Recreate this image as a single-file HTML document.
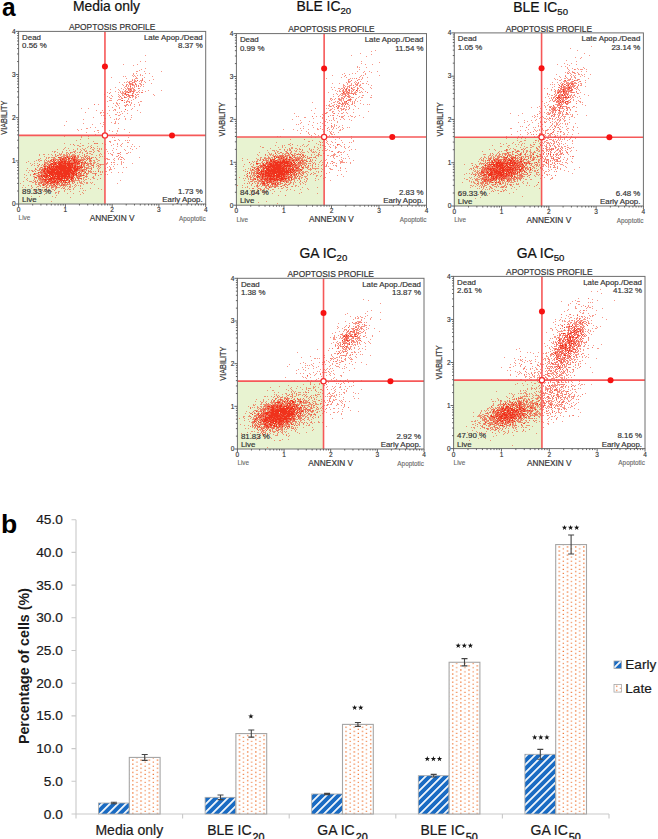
<!DOCTYPE html>
<html><head><meta charset="utf-8"><style>
html,body{margin:0;padding:0;background:#fff;}
svg{display:block;font-family:"Liberation Sans", sans-serif;}
</style></head><body>
<svg width="658" height="839" viewBox="0 0 658 839">
<defs>
<pattern id="stripe" patternUnits="userSpaceOnUse" width="5.66" height="8" patternTransform="rotate(45)">
<rect width="5.66" height="8" fill="#196bc3"/><rect x="0" y="0" width="1.75" height="8" fill="#fff"/>
</pattern>
<pattern id="dots" patternUnits="userSpaceOnUse" width="8.2" height="4.1" x="0" y="0">
<rect width="8.2" height="4.1" fill="#fff"/>
<rect x="1" y="1" width="1.3" height="1.3" fill="#f07838"/>
<rect x="5.1" y="3.05" width="1.3" height="1.3" fill="#f07838"/>
</pattern>
<filter id="sb" x="-5%" y="-5%" width="110%" height="110%"><feGaussianBlur stdDeviation="0.35"/></filter>
<polygon id="star" points="0,-2.8 0.68,-0.92 2.7,-0.88 1.1,0.35 1.68,2.3 0,1.15 -1.68,2.3 -1.1,0.35 -2.7,-0.88 -0.68,-0.92" fill="#151515"/>
</defs>
<text transform="translate(2 16.2) scale(0.92 1)" font-size="26.6" font-weight="bold" fill="#000">a</text>
<text x="72.9" y="10.7" font-size="13.9" fill="#111" stroke="#111" stroke-width="0.22">Media only</text>
<text x="296.5" y="10.7" font-size="13.9" fill="#111" stroke="#111" stroke-width="0.22">BLE IC<tspan font-size="9.6" dy="2.8">20</tspan></text>
<text x="513.3" y="11.9" font-size="13.9" fill="#111" stroke="#111" stroke-width="0.22">BLE IC<tspan font-size="9.6" dy="2.8">50</tspan></text>
<text x="299.5" y="257.9" font-size="13.9" fill="#111" stroke="#111" stroke-width="0.22">GA IC<tspan font-size="9.6" dy="2.8">20</tspan></text>
<text x="516.7" y="257.9" font-size="13.9" fill="#111" stroke="#111" stroke-width="0.22">GA IC<tspan font-size="9.6" dy="2.8">50</tspan></text>
<rect x="18.6" y="135.39" width="86.35" height="68.61" fill="#e8f3d1"/>
<g filter="url(#sb)"><path d="M145 55.5h1m-6 6h1m4 0h1m-23 3h1m13 0h1m-5 1h1m11 3h1m-5 1h1m-3 1h1m-4 1h1m0 0h1m6 0h1m16 0h1m-29 2h1m2 0h1m8 0h1m3 0h1m-17 1h1m6 0h1m-9 1h1m1 0h1m2 0h1m2 0h1m1 0h1m-20 1h1m1 0h1m7 0h1m1 0h1m16 0h1m-42 1h1m24 0h1m7 0h1m-19 1h1m8 0h1m0 0h1m0 0h1m4 0h1m-11 1h1m1 0h1m18 0h1m-20 1h1m0 0h1m4 0h1m0 0h1m7 0h1m-23 1h1m1 0h1m0 0h1m0 0h1m3 0h1m0 0h1m2 0h1m1 0h1m2 0h1m-26 1h1m4 0h1m1 0h1m1 0h1m4 0h1m7 0h1m3 0h1m-15 1h1m0 0h1m6 0h1m0 0h1m10 0h1m-30 1h1m3 0h1m0 0h1m1 0h1m1 0h1m1 0h1m2 0h1m3 0h1m0 0h1m1 0h1m-21 1h1m4 0h1m1 0h1m1 0h1m0 0h1m0 0h1m1 0h1m4 0h1m-17 1h1m0 0h1m1 0h1m5 0h1m5 0h1m2 0h1m-29 1h1m8 0h1m2 0h1m2 0h1m1 0h1m1 0h1m-14 1h1m3 0h1m1 0h1m1 0h1m0 0h1m0 0h1m0 0h1m0 0h1m5 0h1m-30 1h1m7 0h1m4 0h1m2 0h1m2 0h1m1 0h1m1 0h1m-15 1h1m8 0h1m0 0h1m0 0h1m2 0h1m0 0h1m0 0h1m3 0h1m2 0h1m5 0h1m12 0h1m-47 1h1m4 0h1m1 0h1m1 0h1m0 0h1m0 0h1m2 0h1m1 0h1m2 0h1m3 0h1m6 0h1m-39 1h1m2 0h1m7 0h1m1 0h1m1 0h1m0 0h1m1 0h1m0 0h1m0 0h1m1 0h1m0 0h1m5 0h1m0 0h1m1 0h1m-19 1h1m0 0h1m0 0h1m0 0h1m8 0h1m-16 1h1m3 0h1m1 0h1m7 0h1m4 0h1m0 0h1m14 0h1m-43 1h1m7 0h1m2 0h1m0 0h1m6 0h1m2 0h1m2 0h1m17 0h1m-48 1h1m4 0h1m5 0h1m5 0h1m2 0h1m0 0h1m3 0h1m0 0h1m1 0h1m2 0h1m-30 1h1m9 0h1m1 0h1m4 0h1m2 0h1m2 0h1m2 0h1m0 0h1m-27 1h1m0 0h1m9 0h1m6 0h1m6 0h1m-18 1h1m0 0h1m0 0h1m7 0h1m4 0h1m-25 1h1m0 0h1m0 0h1m5 0h1m6 0h1m2 0h1m3 0h1m-25 1h1m18 0h1m0 0h1m0 0h1m0 0h1m10 0h1m0 0h1m-26 1h1m14 0h1m6 0h1m-26 1h1m2 0h1m0 0h1m1 0h1m11 0h1m-34 1h1m18 0h1m8 0h1m3 0h1m3 0h1m4 0h1m-25 1h1m2 0h1m5 0h1m0 0h1m0 0h1m1 0h1m1 0h1m8 0h1m-32 1h1m7 0h1m17 0h1m-23 1h1m6 0h1m-39 1h1m6 0h1m30 0h1m12 0h1m-19 1h1m0 0h1m15 0h1m-36 1h1m5 0h1m6 0h1m3 0h1m1 0h1m11 0h1m9 0h1m-17 1h1m2 0h1m-40 1h1m14 0h1m0 0h1m1 0h1m13 0h1m1 0h1m20 0h1m-41 1h1m6 0h1m14 0h1m4 0h1m-13 1h1m0 0h1m3 0h1m-20 1h1m1 0h1m0 0h1m4 0h1m8 0h1m0 0h1m11 0h1m-8 1h1m-32 1h1m16 0h1m20 0h1m-28 1h1m0 0h1m10 0h1m2 0h1m5 0h1m-43 1h1m30 0h1m1 0h1m1 0h1m6 0h1m4 0h1m-65 2h1m48 0h1m-13 1h1m7 0h1m3 0h1m-33 1h1m16 0h1m13 0h1m0 0h1m2 0h1m-27 1h1m10 0h1m-40 1h1m37 1h1m-13 1h1m4 0h1m-10 1h1m0 0h1m30 0h1m-42 1h1m3 0h1m42 0h1m-47 1h1m18 0h1m0 0h1m10 0h1m7 0h1m-24 1h1m17 0h1m4 0h1m-32 1h1m11 0h1m30 0h1m-14 1h1m-22 1h1m-35 1h1m2 1h1m16 0h1m6 0h1m13 0h1m2 0h1m-25 1h1m30 0h1m1 0h1m13 0h1m-41 1h1m-9 1h1m37 0h1m-43 1h1m37 0h1m0 0h1m3 0h1m5 0h1m1 0h1m1 0h1m-37 1h1m16 0h1m-1 1h1m16 0h1m0 0h1m-65 1h1m15 0h1m7 0h1m6 0h1m0 0h1m5 0h1m14 0h1m4 0h1m-53 1h1m34 0h1m7 0h1m3 0h1m3 0h1m10 0h1m-59 1h1m2 0h1m0 0h1m3 0h1m0 0h1m7 0h1m19 0h1m8 0h1m-42 1h1m0 0h1m7 0h1m1 0h1m6 0h1m19 0h1m3 0h1m5 0h1m3 0h1m2 0h1m4 0h1m-75 1h1m21 0h1m5 0h1m-30 1h1m3 0h1m8 0h1m4 0h1m2 0h1m4 0h1m3 0h1m2 0h1m1 0h1m1 0h1m11 0h1m16 0h1m5 0h1m-80 1h1m5 0h1m9 0h1m3 0h1m2 0h1m2 0h1m0 0h1m7 0h1m0 0h1m5 0h1m1 0h1m4 0h1m9 0h1m7 0h1m7 0h1m-67 1h1m2 0h1m5 0h1m5 0h1m2 0h1m1 0h1m6 0h1m3 0h1m0 0h1m13 0h1m12 0h1m-74 1h1m1 0h1m0 0h1m6 0h1m10 0h1m0 0h1m0 0h1m4 0h1m5 0h1m2 0h1m0 0h1m0 0h1m2 0h1m3 0h1m0 0h1m7 0h1m-54 1h1m2 0h1m4 0h1m3 0h1m0 0h1m3 0h1m0 0h1m4 0h1m2 0h1m1 0h1m4 0h1m16 0h1m8 0h1m14 0h1m1 0h1m-72 1h1m1 0h1m4 0h1m3 0h1m4 0h1m6 0h1m3 0h1m2 0h1m0 0h1m9 0h1m3 0h1m3 0h1m1 0h1m6 0h1m1 0h1m6 0h1m0 0h1m-89 1h1m3 0h1m0 0h1m3 0h1m2 0h1m7 0h1m0 0h1m0 0h1m1 0h1m0 0h1m1 0h1m0 0h1m4 0h1m0 0h1m0 0h1m4 0h1m11 0h1m0 0h1m6 0h1m1 0h1m9 0h1m0 0h1m7 0h1m-82 1h1m12 0h1m2 0h1m2 0h1m1 0h1m2 0h1m0 0h1m0 0h1m0 0h1m0 0h1m1 0h1m1 0h1m0 0h1m0 0h1m0 0h1m2 0h1m0 0h1m3 0h1m1 0h1m1 0h1m0 0h1m8 0h1m2 0h1m12 0h1m-69 1h1m10 0h1m0 0h1m4 0h1m0 0h1m0 0h1m0 0h1m3 0h1m0 0h1m0 0h1m1 0h1m4 0h1m2 0h1m4 0h1m0 0h1m1 0h1m0 0h1m10 0h1m1 0h1m1 0h1m11 0h1m0 0h1m2 0h1m-75 1h1m1 0h1m0 0h1m1 0h1m0 0h1m0 0h1m12 0h1m2 0h1m0 0h1m2 0h1m2 0h1m0 0h1m4 0h1m0 0h1m7 0h1m0 0h1m0 0h1m5 0h1m19 0h1m2 0h1m16 0h1m-100 1h1m5 0h1m1 0h1m4 0h1m0 0h1m0 0h1m3 0h1m10 0h1m4 0h1m0 0h1m4 0h1m1 0h1m0 0h1m2 0h1m2 0h1m5 0h1m7 0h1m1 0h1m0 0h1m6 0h1m3 0h1m4 0h1m-86 1h1m0 0h1m5 0h1m6 0h1m1 0h1m0 0h1m1 0h1m0 0h1m2 0h1m3 0h1m1 0h1m9 0h1m1 0h1m0 0h1m0 0h1m1 0h1m1 0h1m4 0h1m5 0h1m0 0h1m7 0h1m1 0h1m0 0h1m0 0h1m3 0h1m4 0h1m1 0h1m0 0h1m2 0h1m-89 1h1m1 0h1m1 0h1m0 0h1m2 0h1m3 0h1m5 0h1m2 0h1m11 0h1m2 0h1m5 0h1m0 0h1m2 0h1m6 0h1m1 0h1m1 0h1m0 0h1m3 0h1m0 0h1m14 0h1m-87 1h1m5 0h1m4 0h1m4 0h1m2 0h1m1 0h1m0 0h1m0 0h1m1 0h1m2 0h1m0 0h1m13 0h1m0 0h1m4 0h1m2 0h1m1 0h1m1 0h1m0 0h1m4 0h1m0 0h1m2 0h1m2 0h1m23 0h1m-96 1h1m17 0h1m1 0h1m0 0h1m2 0h1m6 0h1m8 0h1m3 0h1m8 0h1m0 0h1m2 0h1m0 0h1m2 0h1m2 0h1m2 0h1m0 0h1m0 0h1m11 0h1m5 0h1m0 0h1m6 0h1m1 0h1m-94 1h1m3 0h1m2 0h1m6 0h1m0 0h1m0 0h1m0 0h1m0 0h1m1 0h1m31 0h1m0 0h1m1 0h1m1 0h1m0 0h1m0 0h1m3 0h1m0 0h1m2 0h1m0 0h1m7 0h1m0 0h1m13 0h1m10 0h1m-101 1h1m9 0h1m2 0h1m2 0h1m24 0h1m5 0h1m2 0h1m0 0h1m6 0h1m0 0h1m1 0h1m2 0h1m2 0h1m1 0h1m0 0h1m0 0h1m2 0h1m4 0h1m2 0h1m2 0h1m3 0h1m-91 1h1m2 0h1m2 0h1m0 0h1m2 0h1m1 0h1m0 0h1m0 0h1m0 0h1m8 0h1m20 0h1m0 0h1m1 0h1m0 0h1m3 0h1m2 0h1m0 0h1m2 0h1m5 0h1m2 0h1m-63 1h1m4 0h1m2 0h1m1 0h1m1 0h1m16 0h1m5 0h1m8 0h1m0 0h1m4 0h1m0 0h1m0 0h1m2 0h1m2 0h1m1 0h1m0 0h1m9 0h1m3 0h1m-77 1h1m2 0h1m1 0h1m33 0h1m8 0h1m0 0h1m0 0h1m0 0h1m2 0h1m6 0h1m1 0h1m6 0h1m2 0h1m12 0h1m2 0h1m-100 1h1m11 0h1m0 0h1m1 0h1m0 0h1m28 0h1m7 0h1m3 0h1m2 0h1m0 0h1m0 0h1m0 0h1m6 0h1m1 0h1m5 0h1m4 0h1m3 0h1m-79 1h1m3 0h1m0 0h1m30 0h1m6 0h1m0 0h1m0 0h1m0 0h1m3 0h1m11 0h1m10 0h1m0 0h1m0 0h1m-86 1h1m2 0h1m1 0h1m0 0h1m1 0h1m2 0h1m0 0h1m0 0h1m5 0h1m27 0h1m6 0h1m2 0h1m0 0h1m5 0h1m7 0h1m10 0h1m-77 1h1m7 0h1m0 0h1m12 0h1m21 0h1m1 0h1m0 0h1m0 0h1m2 0h1m0 0h1m4 0h1m0 0h1m1 0h1m1 0h1m4 0h1m1 0h1m2 0h1m0 0h1m-79 1h1m55 0h1m3 0h1m1 0h1m0 0h1m8 0h1m1 0h1m8 0h1m6 0h1m3 0h1m-88 1h1m0 0h1m0 0h1m0 0h1m1 0h1m1 0h1m0 0h1m31 0h1m2 0h1m0 0h1m1 0h1m1 0h1m3 0h1m0 0h1m3 0h1m0 0h1m0 0h1m1 0h1m-73 1h1m5 0h1m4 0h1m3 0h1m3 0h1m0 0h1m34 0h1m1 0h1m1 0h1m2 0h1m0 0h1m12 0h1m0 0h1m3 0h1m1 0h1m-82 1h1m3 0h1m5 0h1m1 0h1m0 0h1m10 0h1m3 0h1m1 0h1m10 0h1m2 0h1m4 0h1m2 0h1m0 0h1m4 0h1m1 0h1m8 0h1m-63 1h1m0 0h1m2 0h1m10 0h1m28 0h1m3 0h1m5 0h1m5 0h1m-70 1h1m9 0h1m3 0h1m1 0h1m0 0h1m5 0h1m8 0h1m3 0h1m12 0h1m2 0h1m1 0h1m0 0h1m3 0h1m0 0h1m1 0h1m5 0h1m0 0h1m-67 1h1m6 0h1m1 0h1m1 0h1m2 0h1m0 0h1m5 0h1m21 0h1m12 0h1m4 0h1m4 0h1m0 0h1m-69 1h1m7 0h1m3 0h1m0 0h1m15 0h1m16 0h1m8 0h1m1 0h1m1 0h1m0 0h1m3 0h1m6 0h1m-71 1h1m5 0h1m1 0h1m3 0h1m0 0h1m0 0h1m1 0h1m8 0h1m5 0h1m9 0h1m4 0h1m0 0h1m0 0h1m0 0h1m0 0h1m0 0h1m0 0h1m4 0h1m35 0h1m-98 1h1m5 0h1m0 0h1m0 0h1m2 0h1m2 0h1m2 0h1m0 0h1m1 0h1m2 0h1m9 0h1m3 0h1m3 0h1m3 0h1m1 0h1m0 0h1m2 0h1m4 0h1m1 0h1m1 0h1m-52 1h1m0 0h1m1 0h1m2 0h1m1 0h1m2 0h1m0 0h1m17 0h1m4 0h1m9 0h1m1 0h1m0 0h1m0 0h1m2 0h1m1 0h1m0 0h1m2 0h1m1 0h1m-73 1h1m14 0h1m2 0h1m0 0h1m0 0h1m3 0h1m0 0h1m2 0h1m4 0h1m0 0h1m0 0h1m2 0h1m2 0h1m2 0h1m0 0h1m6 0h1m0 0h1m3 0h1m2 0h1m0 0h1m0 0h1m3 0h1m0 0h1m3 0h1m25 0h1m-83 1h1m0 0h1m2 0h1m8 0h1m1 0h1m0 0h1m6 0h1m0 0h1m2 0h1m2 0h1m0 0h1m1 0h1m0 0h1m0 0h1m12 0h1m10 0h1m-72 1h1m4 0h1m2 0h1m7 0h1m0 0h1m1 0h1m1 0h1m2 0h1m2 0h1m2 0h1m0 0h1m2 0h1m1 0h1m0 0h1m1 0h1m2 0h1m0 0h1m3 0h1m3 0h1m1 0h1m1 0h1m1 0h1m-50 1h1m5 0h1m0 0h1m1 0h1m4 0h1m5 0h1m0 0h1m0 0h1m0 0h1m0 0h1m4 0h1m2 0h1m1 0h1m1 0h1m2 0h1m1 0h1m2 0h1m4 0h1m-59 1h1m2 0h1m6 0h1m3 0h1m5 0h1m0 0h1m0 0h1m1 0h1m0 0h1m0 0h1m4 0h1m1 0h1m1 0h1m0 0h1m0 0h1m2 0h1m1 0h1m4 0h1m0 0h1m3 0h1m-44 1h1m6 0h1m12 0h1m3 0h1m0 0h1m4 0h1m2 0h1m3 0h1m4 0h1m6 0h1m1 0h1m7 0h1m7 0h1m-65 1h1m4 0h1m2 0h1m2 0h1m0 0h1m1 0h1m3 0h1m0 0h1m1 0h1m9 0h1m1 0h1m2 0h1m2 0h1m27 0h1m-77 1h1m8 0h1m0 0h1m3 0h1m2 0h1m4 0h1m1 0h1m0 0h1m13 0h1m18 0h1m1 0h1m-46 1h1m2 0h1m14 0h1m0 0h1m4 0h1m5 0h1m8 0h1m-45 1h1m1 0h1m17 0h1m0 0h1m1 0h1m23 0h1m-50 1h1m21 0h1m2 0h1m8 0h1m5 0h1m9 0h1m-40 1h1m35 0h1m-25 1h1m-26 1h1m7 0h1m12 0h1m2 1h1m14 0h1m-20 4h1" stroke="rgb(240,48,28)" stroke-opacity="0.50" stroke-width="1" fill="none"/>
<path d="M142 79.5h1m-11 1h1m9 0h1m-9 1h1m-6 1h1m2 0h1m1 0h1m-6 1h1m0 0h1m4 0h1m-6 1h1m4 0h1m-10 1h1m11 0h1m-3 1h1m1 0h1m-11 2h1m9 0h1m-11 1h1m5 0h1m-10 1h1m5 0h1m-5 1h1m4 0h1m0 0h1m-1 1h1m7 0h1m0 0h1m-34 1h1m22 0h1m-29 1h1m20 0h1m0 0h1m0 0h1m0 0h1m6 0h1m-10 1h1m1 0h1m0 0h1m1 0h1m-12 1h1m8 0h1m-5 1h1m4 0h1m-9 1h1m-2 2h1m2 2h1m1 0h1m2 0h1m-36 2h1m32 0h1m-3 2h1m-17 35h1m-16 2h1m2 0h1m-25 1h1m11 7h1m-16 1h1m3 0h1m4 0h1m13 0h1m26 0h1m-53 1h1m18 0h1m30 0h1m-64 1h1m13 0h1m14 0h1m-28 1h1m17 0h1m42 0h1m-53 1h1m6 0h1m4 0h1m5 0h1m-31 1h1m6 0h1m1 0h1m0 0h1m3 0h1m6 0h1m2 0h1m2 0h1m3 0h1m1 0h1m1 0h1m5 0h1m25 0h1m-62 1h1m0 0h1m2 0h1m1 0h1m6 0h1m3 0h1m8 0h1m1 0h1m0 0h1m-39 1h1m4 0h1m2 0h1m9 0h1m1 0h1m0 0h1m3 0h1m1 0h1m3 0h1m1 0h1m4 0h1m-44 1h1m11 0h1m3 0h1m0 0h1m7 0h1m3 0h1m5 0h1m1 0h1m2 0h1m-39 1h1m9 0h1m1 0h1m5 0h1m3 0h1m2 0h1m1 0h1m13 0h1m-45 1h1m3 0h1m13 0h1m7 0h1m0 0h1m0 0h1m37 0h1m-59 1h1m2 0h1m19 0h1m4 0h1m8 0h1m0 0h1m-45 1h1m1 0h1m16 0h1m7 0h1m1 0h1m1 0h1m5 0h1m2 0h1m0 0h1m11 0h1m-53 1h1m1 0h1m3 0h1m3 0h1m7 0h1m6 0h1m9 0h1m2 0h1m6 0h1m4 0h1m-23 1h1m3 0h1m3 0h1m-41 1h1m0 0h1m4 0h1m1 0h1m1 0h1m23 0h1m0 0h1m4 0h1m8 0h1m-59 1h1m10 0h1m1 0h1m32 0h1m9 0h1m-57 1h1m3 0h1m3 0h1m2 0h1m1 0h1m24 0h1m4 0h1m4 0h1m0 0h1m0 0h1m5 0h1m-50 1h1m7 0h1m8 0h1m18 0h1m0 0h1m1 0h1m4 0h1m1 0h1m-57 1h1m2 0h1m4 0h1m4 0h1m25 0h1m11 0h1m4 0h1m0 0h1m-51 1h1m0 0h1m1 0h1m0 0h1m2 0h1m15 0h1m11 0h1m1 0h1m4 0h1m-41 1h1m5 0h1m22 0h1m6 0h1m6 0h1m10 0h1m-62 1h1m3 0h1m2 0h1m0 0h1m27 0h1m0 0h1m2 0h1m3 0h1m1 0h1m14 0h1m-59 1h1m2 0h1m1 0h1m29 0h1m1 0h1m2 0h1m3 0h1m16 0h1m-59 1h1m1 0h1m27 0h1m5 0h1m1 0h1m1 0h1m4 0h1m0 0h1m-48 1h1m4 0h1m10 0h1m7 0h1m2 0h1m1 0h1m5 0h1m-36 1h1m5 0h1m0 0h1m0 0h1m21 0h1m5 0h1m1 0h1m1 0h1m20 0h1m-61 1h1m0 0h1m10 0h1m9 0h1m5 0h1m4 0h1m1 0h1m2 0h1m-42 1h1m4 0h1m1 0h1m8 0h1m2 0h1m2 0h1m7 0h1m-33 1h1m6 0h1m8 0h1m6 0h1m13 0h1m0 0h1m-38 1h1m2 0h1m2 0h1m2 0h1m4 0h1m4 0h1m4 0h1m0 0h1m1 0h1m0 0h1m4 0h1m2 0h1m1 0h1m-34 1h1m1 0h1m3 0h1m1 0h1m1 0h1m0 0h1m3 0h1m2 0h1m7 0h1m1 0h1m-32 1h1m3 0h1m1 0h1m2 0h1m9 0h1m3 0h1m2 0h1m2 0h1m7 0h1m-30 1h1m2 0h1m1 0h1m0 0h1m10 0h1m0 0h1m-19 1h1m2 0h1m19 0h1m-19 1h1m0 0h1m3 0h1m-11 1h1m16 0h1m5 1h1m-16 1h1m-4 1h1" stroke="rgb(240,48,28)" stroke-opacity="0.67" stroke-width="1" fill="none"/>
<path d="M137 80.5h1m-6 4h1m-3 2h1m-1 3h1m-1 2h1m1 4h1m-9 2h1m0 12h1m-35 38h1m-25 9h1m3 0h1m2 0h1m0 0h1m-17 1h1m0 0h1m1 1h1m0 0h1m1 0h1m6 0h1m1 0h1m16 0h1m-39 1h1m9 0h1m0 0h1m1 0h1m1 0h1m6 0h1m11 0h1m-38 1h1m0 0h1m3 0h1m5 0h1m2 0h1m0 0h1m0 0h1m1 0h1m7 0h1m0 0h1m2 0h1m9 0h1m-39 1h1m1 0h1m8 0h1m3 0h1m0 0h1m-15 1h1m1 0h1m2 0h1m7 0h1m0 0h1m7 0h1m0 0h1m0 0h1m3 0h1m-29 1h1m2 0h1m0 0h1m2 0h1m0 0h1m11 0h1m0 0h1m2 0h1m5 0h1m1 0h1m-48 1h1m11 0h1m0 0h1m0 0h1m2 0h1m5 0h1m0 0h1m0 0h1m5 0h1m4 0h1m1 0h1m3 0h1m-33 1h1m1 0h1m4 0h1m14 0h1m2 0h1m17 0h1m-48 1h1m8 0h1m16 0h1m7 0h1m1 0h1m-41 1h1m5 0h1m25 0h1m7 0h1m-31 1h1m1 0h1m1 0h1m1 0h1m13 0h1m3 0h1m2 0h1m7 0h1m-45 1h1m1 0h1m4 0h1m8 0h1m7 0h1m-26 1h1m1 0h1m2 0h1m2 0h1m6 0h1m20 0h1m-32 1h1m15 0h1m12 0h1m0 0h1m5 0h1m15 0h1m-58 1h1m2 0h1m0 0h1m23 0h1m2 0h1m2 0h1m-30 1h1m6 0h1m26 0h1m5 0h1m-54 1h1m11 0h1m1 0h1m6 0h1m8 0h1m-19 1h1m14 0h1m10 0h1m8 0h1m1 0h1m-45 1h1m0 0h1m5 0h1m7 0h1m17 0h1m0 0h1m6 0h1m-44 1h1m13 0h1m2 0h1m16 0h1m6 0h1m-38 1h1m2 0h1m19 0h1m1 0h1m1 0h1m0 0h1m4 0h1m4 0h1m1 0h1m0 0h1m-40 1h1m0 0h1m2 0h1m0 0h1m6 0h1m2 0h1m6 0h1m1 0h1m3 0h1m-25 1h1m1 0h1m0 0h1m0 0h1m3 0h1m2 0h1m3 0h1m3 0h1m5 0h1m0 0h1m-29 1h1m0 0h1m2 0h1m1 0h1m2 0h1m11 0h1m-25 1h1m4 0h1m1 0h1m3 0h1m3 0h1m11 0h1m-23 1h1m10 0h1m4 0h1m-20 1h1m1 0h1m7 0h1m2 0h1m6 0h1m-9 1h1m5 0h1m-6 1h1m-17 3h1" stroke="rgb(240,48,28)" stroke-opacity="0.83" stroke-width="1" fill="none"/>
<path d="M128 92.5h1m-4 1h1m-4 7h1m-65 57h1m6 0h1m1 0h1m4 0h1m1 0h1m-7 1h1m0 0h1m1 0h1m-12 1h1m1 0h1m10 0h1m0 0h1m-22 1h1m6 0h1m9 0h1m2 0h1m0 0h1m-16 1h1m1 0h1m0 0h1m1 0h1m0 0h1m3 0h1m4 0h1m1 0h1m1 0h1m0 0h1m-27 1h1m1 0h1m2 0h1m1 0h1m0 0h1m0 0h1m1 0h1m0 0h1m3 0h1m4 0h1m0 0h1m5 0h1m3 0h1m-35 1h1m0 0h1m2 0h1m3 0h1m0 0h1m2 0h1m0 0h1m0 0h1m0 0h1m0 0h1m0 0h1m0 0h1m0 0h1m0 0h1m0 0h1m0 0h1m3 0h1m1 0h1m-36 1h1m5 0h1m3 0h1m0 0h1m2 0h1m0 0h1m0 0h1m0 0h1m3 0h1m1 0h1m0 0h1m0 0h1m1 0h1m0 0h1m-20 1h1m3 0h1m1 0h1m0 0h1m0 0h1m0 0h1m0 0h1m0 0h1m0 0h1m1 0h1m0 0h1m0 0h1m0 0h1m1 0h1m2 0h1m5 0h1m-38 1h1m2 0h1m1 0h1m1 0h1m0 0h1m0 0h1m1 0h1m0 0h1m0 0h1m0 0h1m0 0h1m0 0h1m0 0h1m0 0h1m0 0h1m0 0h1m0 0h1m0 0h1m1 0h1m0 0h1m0 0h1m1 0h1m1 0h1m0 0h1m1 0h1m0 0h1m-31 1h1m0 0h1m1 0h1m1 0h1m1 0h1m0 0h1m0 0h1m0 0h1m0 0h1m0 0h1m0 0h1m0 0h1m0 0h1m0 0h1m0 0h1m0 0h1m0 0h1m0 0h1m0 0h1m0 0h1m0 0h1m0 0h1m1 0h1m0 0h1m1 0h1m2 0h1m1 0h1m-39 1h1m0 0h1m1 0h1m1 0h1m0 0h1m1 0h1m1 0h1m1 0h1m1 0h1m0 0h1m0 0h1m0 0h1m0 0h1m0 0h1m0 0h1m0 0h1m0 0h1m0 0h1m0 0h1m0 0h1m0 0h1m2 0h1m0 0h1m1 0h1m0 0h1m1 0h1m-35 1h1m1 0h1m2 0h1m0 0h1m0 0h1m0 0h1m0 0h1m0 0h1m0 0h1m0 0h1m1 0h1m0 0h1m0 0h1m0 0h1m0 0h1m0 0h1m0 0h1m1 0h1m0 0h1m0 0h1m0 0h1m0 0h1m2 0h1m0 0h1m0 0h1m0 0h1m-34 1h1m2 0h1m0 0h1m2 0h1m0 0h1m0 0h1m0 0h1m0 0h1m1 0h1m0 0h1m1 0h1m0 0h1m0 0h1m0 0h1m0 0h1m0 0h1m0 0h1m0 0h1m0 0h1m0 0h1m0 0h1m0 0h1m0 0h1m1 0h1m0 0h1m0 0h1m5 0h1m-40 1h1m0 0h1m2 0h1m0 0h1m0 0h1m0 0h1m0 0h1m0 0h1m0 0h1m0 0h1m1 0h1m0 0h1m0 0h1m0 0h1m0 0h1m0 0h1m1 0h1m0 0h1m0 0h1m0 0h1m0 0h1m0 0h1m0 0h1m0 0h1m1 0h1m0 0h1m0 0h1m-37 1h1m8 0h1m0 0h1m0 0h1m0 0h1m0 0h1m0 0h1m0 0h1m0 0h1m0 0h1m0 0h1m0 0h1m0 0h1m0 0h1m0 0h1m0 0h1m1 0h1m0 0h1m0 0h1m0 0h1m0 0h1m0 0h1m1 0h1m0 0h1m1 0h1m4 0h1m0 0h1m5 0h1m-52 1h1m9 0h1m0 0h1m2 0h1m0 0h1m0 0h1m0 0h1m0 0h1m1 0h1m0 0h1m0 0h1m0 0h1m0 0h1m0 0h1m0 0h1m0 0h1m0 0h1m0 0h1m0 0h1m0 0h1m0 0h1m0 0h1m0 0h1m0 0h1m1 0h1m0 0h1m0 0h1m0 0h1m1 0h1m-31 1h1m2 0h1m0 0h1m0 0h1m0 0h1m0 0h1m1 0h1m0 0h1m0 0h1m0 0h1m0 0h1m0 0h1m0 0h1m0 0h1m1 0h1m0 0h1m0 0h1m0 0h1m0 0h1m0 0h1m2 0h1m0 0h1m1 0h1m0 0h1m-36 1h1m1 0h1m0 0h1m1 0h1m0 0h1m0 0h1m0 0h1m1 0h1m0 0h1m0 0h1m1 0h1m1 0h1m0 0h1m0 0h1m1 0h1m0 0h1m0 0h1m0 0h1m0 0h1m0 0h1m1 0h1m0 0h1m3 0h1m2 0h1m6 0h1m-43 1h1m1 0h1m0 0h1m1 0h1m0 0h1m1 0h1m0 0h1m1 0h1m1 0h1m0 0h1m0 0h1m0 0h1m0 0h1m0 0h1m0 0h1m0 0h1m0 0h1m0 0h1m0 0h1m0 0h1m0 0h1m0 0h1m0 0h1m0 0h1m3 0h1m-39 1h1m6 0h1m2 0h1m0 0h1m1 0h1m2 0h1m0 0h1m1 0h1m2 0h1m0 0h1m0 0h1m1 0h1m0 0h1m1 0h1m0 0h1m1 0h1m1 0h1m1 0h1m0 0h1m-24 1h1m0 0h1m0 0h1m0 0h1m0 0h1m0 0h1m0 0h1m0 0h1m0 0h1m0 0h1m0 0h1m0 0h1m0 0h1m0 0h1m1 0h1m1 0h1m4 0h1m0 0h1m-29 1h1m0 0h1m2 0h1m0 0h1m0 0h1m0 0h1m1 0h1m2 0h1m1 0h1m0 0h1m0 0h1m0 0h1m5 0h1m3 0h1m-27 1h1m5 0h1m3 0h1m4 0h1m1 0h1m0 0h1m0 0h1m1 0h1m2 0h1m-23 1h1m1 0h1m2 0h1m1 0h1m0 0h1m1 0h1m1 0h1m1 0h1m1 0h1m5 0h1m-23 1h1m3 0h1m1 0h1m0 0h1m2 0h1m0 0h1m6 0h1m0 0h1m-17 1h1m3 1h1m-12 1h1" stroke="rgb(240,48,28)" stroke-opacity="1.00" stroke-width="1" fill="none"/></g>
<line x1="104.95" y1="31.4" x2="104.95" y2="204" stroke="#f65858" stroke-width="1.6"/>
<line x1="18.6" y1="135.39" x2="205.7" y2="135.39" stroke="#f65858" stroke-width="1.6"/>
<circle cx="104.95" cy="66.57" r="3" fill="#f71212"/>
<circle cx="172.02" cy="135.39" r="3" fill="#f71212"/>
<circle cx="104.95" cy="135.39" r="2.6" fill="#fff" stroke="#f42a2a" stroke-width="1.2"/>
<rect x="18.6" y="31.4" width="187.1" height="172.6" fill="none" stroke="#6e6e6e" stroke-width="1"/>
<path d="M15.6 204H18.6M18.6 204V207M17.1 191.01H18.6M32.68 204V205.5M17.1 183.41H18.6M40.92 204V205.5M17.1 178.02H18.6M46.76 204V205.5M17.1 173.84H18.6M51.29 204V205.5M17.1 170.42H18.6M55 204V205.5M17.1 167.53H18.6M58.13 204V205.5M17.1 165.03H18.6M60.84 204V205.5M17.1 162.82H18.6M63.23 204V205.5M15.6 160.85H18.6M65.38 204V207M17.1 147.86H18.6M79.46 204V205.5M17.1 140.26H18.6M87.69 204V205.5M17.1 134.87H18.6M93.54 204V205.5M17.1 130.69H18.6M98.07 204V205.5M17.1 127.27H18.6M101.77 204V205.5M17.1 124.38H18.6M104.9 204V205.5M17.1 121.88H18.6M107.62 204V205.5M17.1 119.67H18.6M110.01 204V205.5M15.6 117.7H18.6M112.15 204V207M17.1 104.71H18.6M126.23 204V205.5M17.1 97.11H18.6M134.47 204V205.5M17.1 91.72H18.6M140.31 204V205.5M17.1 87.54H18.6M144.84 204V205.5M17.1 84.12H18.6M148.55 204V205.5M17.1 81.23H18.6M151.68 204V205.5M17.1 78.73H18.6M154.39 204V205.5M17.1 76.52H18.6M156.78 204V205.5M15.6 74.55H18.6M158.92 204V207M17.1 61.56H18.6M173.01 204V205.5M17.1 53.96H18.6M181.24 204V205.5M17.1 48.57H18.6M187.09 204V205.5M17.1 44.39H18.6M191.62 204V205.5M17.1 40.97H18.6M195.32 204V205.5M17.1 38.08H18.6M198.45 204V205.5M17.1 35.58H18.6M201.17 204V205.5M17.1 33.37H18.6M203.56 204V205.5M15.6 31.4H18.6M205.7 204V207" stroke="#555" stroke-width="0.9" fill="none"/>
<g font-size="6.5" fill="#333" stroke="#333" stroke-width="0.15"><text x="15.6" y="206.3" text-anchor="end">0</text><text x="18.6" y="212" text-anchor="middle">0</text><text x="15.6" y="163.15" text-anchor="end">1</text><text x="65.38" y="212" text-anchor="middle">1</text><text x="15.6" y="120" text-anchor="end">2</text><text x="112.15" y="212" text-anchor="middle">2</text><text x="15.6" y="76.85" text-anchor="end">3</text><text x="158.92" y="212" text-anchor="middle">3</text><text x="15.6" y="33.7" text-anchor="end">4</text><text x="205.7" y="212" text-anchor="middle">4</text></g>
<text x="112.15" y="30.2" text-anchor="middle" font-size="8.4" fill="#333" stroke="#333" stroke-width="0.18">APOPTOSIS PROFILE</text>
<text x="112.15" y="221" text-anchor="middle" font-size="8.3" fill="#333" stroke="#333" stroke-width="0.18">ANNEXIN V</text>
<text transform="translate(7.3 117.7) rotate(-90) scale(0.76 1)" text-anchor="middle" font-size="9.6" fill="#333" stroke="#333" stroke-width="0.2">VIABILITY</text>
<text x="18.6" y="220.3" font-size="6.4" fill="#666" stroke="#666" stroke-width="0.1">Live</text>
<text x="205.7" y="220.8" text-anchor="end" font-size="6.4" fill="#666" stroke="#666" stroke-width="0.1">Apoptotic</text>
<g font-size="7.9" fill="#333" stroke="#333" stroke-width="0.18"><text x="22.1" y="39.8">Dead</text><text x="22.1" y="48.4">0.56 %</text><text x="202.7" y="39.8" text-anchor="end">Late Apop./Dead</text><text x="202.7" y="48.4" text-anchor="end">8.37 %</text><text x="22.1" y="193.5">89.33 %</text><text x="22.1" y="202">Live</text><text x="202.7" y="193.5" text-anchor="end">1.73 %</text><text x="202.7" y="202" text-anchor="end">Early Apop.</text></g>
<rect x="236.4" y="136.99" width="87.73" height="68.21" fill="#e8f3d1"/>
<g filter="url(#sb)"><path d="M375 50.5h1m-5 1h1m-12 2h1m10 1h1m-21 1h1m14 1h1m-6 5h1m17 1h1m-19 1h1m3 1h1m6 0h1m-16 2h1m-1 1h1m1 0h1m6 0h1m-8 2h1m-3 2h1m6 0h1m4 0h1m7 0h1m-15 1h1m7 0h1m-28 1h1m7 0h1m2 0h1m9 0h1m-24 1h1m6 0h1m15 0h1m-34 1h1m28 0h1m1 0h1m15 0h1m-36 1h1m15 0h1m-20 1h1m4 0h1m12 0h1m2 0h1m4 0h1m-42 1h1m23 0h1m1 0h1m1 0h1m7 0h1m-15 1h1m0 0h1m8 0h1m0 0h1m1 0h1m-14 1h1m0 1h1m0 0h1m4 0h1m4 0h1m6 0h1m-22 1h1m1 0h1m0 0h1m4 0h1m1 0h1m-25 1h1m6 0h1m7 0h1m3 0h1m3 0h1m1 0h1m0 0h1m3 0h1m0 0h1m2 0h1m-24 1h1m3 0h1m3 0h1m3 0h1m0 0h1m3 0h1m7 0h1m-26 1h1m0 0h1m4 0h1m0 0h1m0 0h1m4 0h1m0 0h1m1 0h1m0 0h1m10 0h1m-29 1h1m1 0h1m1 0h1m0 0h1m0 0h1m5 0h1m3 0h1m-29 1h1m2 0h1m8 0h1m0 0h1m2 0h1m3 0h1m1 0h1m0 0h1m2 0h1m2 0h1m0 0h1m8 0h1m-33 1h1m0 0h1m1 0h1m0 0h1m4 0h1m4 0h1m5 0h1m3 0h1m8 0h1m-40 1h1m7 0h1m7 0h1m3 0h1m0 0h1m0 0h1m8 0h1m-29 1h1m3 0h1m2 0h1m2 0h1m2 0h1m2 0h1m5 0h1m1 0h1m-23 1h1m1 0h1m0 0h1m1 0h1m0 0h1m0 0h1m0 0h1m0 0h1m2 0h1m1 0h1m0 0h1m2 0h1m1 0h1m3 0h1m3 0h1m-38 1h1m15 0h1m2 0h1m1 0h1m1 0h1m2 0h1m0 0h1m0 0h1m2 0h1m0 0h1m1 0h1m-27 1h1m4 0h1m1 0h1m1 0h1m0 0h1m0 0h1m0 0h1m0 0h1m0 0h1m2 0h1m0 0h1m0 0h1m-23 1h1m3 0h1m2 0h1m1 0h1m0 0h1m0 0h1m2 0h1m8 0h1m-18 1h1m1 0h1m0 0h1m3 0h1m1 0h1m0 0h1m12 0h1m0 0h1m7 0h1m-39 1h1m9 0h1m0 0h1m0 0h1m3 0h1m0 0h1m8 0h1m-19 1h1m0 0h1m5 0h1m2 0h1m0 0h1m0 0h1m4 0h1m2 0h1m0 0h1m7 0h1m0 0h1m-42 1h1m0 0h1m3 0h1m2 0h1m0 0h1m1 0h1m0 0h1m3 0h1m3 0h1m5 0h1m-27 1h1m1 0h1m1 0h1m3 0h1m1 0h1m0 0h1m1 0h1m4 0h1m2 0h1m3 0h1m-25 1h1m7 0h1m0 0h1m0 0h1m1 0h1m6 0h1m4 0h1m4 0h1m-37 1h1m4 0h1m5 0h1m1 0h1m0 0h1m2 0h1m3 0h1m4 0h1m1 0h1m1 0h1m2 0h1m-46 1h1m20 0h1m0 0h1m2 0h1m1 0h1m2 0h1m2 0h1m0 0h1m1 0h1m3 0h1m1 0h1m-24 1h1m6 0h1m1 0h1m2 0h1m0 0h1m0 0h1m0 0h1m7 0h1m5 0h1m-32 1h1m4 0h1m1 0h1m5 0h1m0 0h1m3 0h1m0 0h1m2 0h1m0 0h1m10 0h1m3 0h1m1 0h1m-46 1h1m1 0h1m1 0h1m0 0h1m2 0h1m0 0h1m3 0h1m0 0h1m0 0h1m2 0h1m1 0h1m4 0h1m4 0h1m-26 1h1m1 0h1m1 0h1m5 0h1m1 0h1m0 0h1m3 0h1m1 0h1m6 0h1m-22 1h1m2 0h1m8 0h1m2 0h1m-35 1h1m10 0h1m1 0h1m3 0h1m5 0h1m1 0h1m0 0h1m1 0h1m0 0h1m13 0h1m-29 1h1m0 0h1m2 0h1m6 0h1m0 0h1m2 0h1m0 0h1m1 0h1m4 0h1m-43 1h1m17 0h1m0 0h1m7 0h1m2 0h1m3 0h1m-14 1h1m0 0h1m5 0h1m28 0h1m-43 1h1m0 0h1m4 0h1m10 0h1m2 0h1m6 0h1m-60 1h1m19 0h1m11 0h1m6 0h1m4 0h1m2 0h1m0 0h1m4 0h1m-26 1h1m0 1h1m6 0h1m1 0h1m4 0h1m6 0h1m5 0h1m8 0h1m-64 1h1m1 0h1m17 0h1m3 0h1m20 0h1m0 0h1m0 0h1m4 0h1m2 0h1m0 0h1m2 0h1m-52 1h1m0 0h1m16 0h1m10 0h1m7 0h1m0 0h1m11 0h1m8 0h1m-51 1h1m8 0h1m10 0h1m2 0h1m6 0h1m-52 1h1m33 0h1m6 0h1m6 0h1m3 0h1m4 0h1m-50 1h1m23 0h1m4 0h1m1 0h1m2 0h1m16 0h1m-43 1h1m15 0h1m11 0h1m-37 1h1m11 0h1m6 0h1m6 0h1m9 0h1m-38 1h1m16 0h1m4 0h1m8 0h1m-36 1h1m1 0h1m9 0h1m25 0h1m-23 1h1m11 0h1m0 0h1m8 0h1m1 0h1m5 0h1m-40 1h1m16 0h1m10 0h1m0 0h1m1 0h1m4 0h1m-27 1h1m14 0h1m2 0h1m1 0h1m4 0h1m3 0h1m4 0h1m1 0h1m-50 1h1m2 0h1m13 0h1m2 0h1m12 0h1m2 0h1m6 0h1m-61 1h1m9 0h1m14 0h1m8 0h1m0 0h1m3 0h1m6 0h1m2 0h1m7 0h1m1 0h1m-46 1h1m3 0h1m25 0h1m11 0h1m0 0h1m-35 1h1m16 0h1m5 0h1m1 0h1m-24 1h1m24 0h1m4 0h1m-39 1h1m7 0h1m5 0h1m15 0h1m0 0h1m-23 1h1m5 0h1m8 0h1m6 0h1m0 0h1m1 0h1m-24 1h1m6 0h1m2 0h1m4 0h1m2 0h1m-53 1h1m2 0h1m44 0h1m6 0h1m18 0h1m-41 1h1m3 0h1m6 0h1m1 0h1m8 0h1m3 0h1m1 1h1m11 0h1m-62 1h1m44 0h1m-24 1h1m13 0h1m14 0h1m11 0h1m-46 1h1m0 0h1m9 0h1m3 0h1m3 0h1m3 0h1m21 0h1m-78 1h1m45 0h1m3 0h1m5 0h1m2 0h1m6 0h1m6 0h1m1 0h1m-62 1h1m25 0h1m10 0h1m-40 1h1m0 0h1m13 0h1m4 0h1m9 0h1m1 0h1m7 0h1m1 0h1m8 0h1m4 0h1m-70 1h1m6 0h1m1 0h1m5 0h1m6 0h1m4 0h1m4 0h1m12 0h1m1 0h1m0 0h1m0 0h1m8 0h1m3 0h1m2 0h1m-81 1h1m21 0h1m17 0h1m3 0h1m1 0h1m7 0h1m9 0h1m0 0h1m3 0h1m5 0h1m5 0h1m2 0h1m4 0h1m-88 1h1m0 0h1m14 0h1m3 0h1m2 0h1m5 0h1m0 0h1m21 0h1m2 0h1m2 0h1m14 0h1m0 0h1m7 0h1m3 0h1m-79 1h1m20 0h1m0 0h1m2 0h1m0 0h1m2 0h1m9 0h1m8 0h1m6 0h1m9 0h1m9 0h1m-67 1h1m0 0h1m6 0h1m1 0h1m0 0h1m6 0h1m1 0h1m2 0h1m6 0h1m1 0h1m1 0h1m3 0h1m9 0h1m23 0h1m3 0h1m-89 1h1m4 0h1m0 0h1m0 0h1m1 0h1m7 0h1m2 0h1m1 0h1m4 0h1m1 0h1m13 0h1m0 0h1m10 0h1m2 0h1m0 0h1m2 0h1m19 0h1m-76 1h1m2 0h1m0 0h1m6 0h1m9 0h1m0 0h1m2 0h1m1 0h1m5 0h1m3 0h1m1 0h1m1 0h1m15 0h1m6 0h1m0 0h1m4 0h1m-86 1h1m8 0h1m6 0h1m1 0h1m8 0h1m3 0h1m0 0h1m8 0h1m1 0h1m0 0h1m0 0h1m3 0h1m3 0h1m0 0h1m0 0h1m1 0h1m20 0h1m2 0h1m0 0h1m1 0h1m-75 1h1m1 0h1m6 0h1m0 0h1m2 0h1m0 0h1m1 0h1m0 0h1m0 0h1m6 0h1m0 0h1m2 0h1m2 0h1m16 0h1m4 0h1m0 0h1m9 0h1m-78 1h1m11 0h1m0 0h1m0 0h1m1 0h1m2 0h1m5 0h1m1 0h1m0 0h1m2 0h1m0 0h1m2 0h1m1 0h1m1 0h1m1 0h1m4 0h1m7 0h1m2 0h1m4 0h1m13 0h1m0 0h1m0 0h1m5 0h1m5 0h1m-90 1h1m6 0h1m1 0h1m2 0h1m1 0h1m0 0h1m3 0h1m8 0h1m2 0h1m4 0h1m0 0h1m4 0h1m10 0h1m4 0h1m0 0h1m0 0h1m1 0h1m0 0h1m2 0h1m2 0h1m0 0h1m2 0h1m0 0h1m0 0h1m0 0h1m4 0h1m-72 1h1m4 0h1m1 0h1m1 0h1m1 0h1m3 0h1m0 0h1m1 0h1m0 0h1m2 0h1m6 0h1m1 0h1m3 0h1m11 0h1m2 0h1m11 0h1m2 0h1m2 0h1m0 0h1m10 0h1m-89 1h1m0 0h1m2 0h1m0 0h1m3 0h1m1 0h1m0 0h1m7 0h1m1 0h1m4 0h1m5 0h1m2 0h1m0 0h1m0 0h1m0 0h1m2 0h1m4 0h1m1 0h1m0 0h1m2 0h1m0 0h1m18 0h1m7 0h1m-100 1h1m13 0h1m3 0h1m4 0h1m0 0h1m0 0h1m0 0h1m1 0h1m1 0h1m5 0h1m5 0h1m0 0h1m1 0h1m1 0h1m0 0h1m5 0h1m3 0h1m0 0h1m0 0h1m4 0h1m8 0h1m7 0h1m9 0h1m8 0h1m1 0h1m3 0h1m-103 1h1m9 0h1m0 0h1m3 0h1m2 0h1m0 0h1m1 0h1m2 0h1m5 0h1m3 0h1m0 0h1m4 0h1m3 0h1m0 0h1m2 0h1m1 0h1m1 0h1m1 0h1m2 0h1m1 0h1m5 0h1m13 0h1m14 0h1m-100 1h1m14 0h1m1 0h1m0 0h1m3 0h1m0 0h1m2 0h1m3 0h1m5 0h1m0 0h1m1 0h1m3 0h1m1 0h1m0 0h1m1 0h1m0 0h1m2 0h1m3 0h1m0 0h1m0 0h1m2 0h1m2 0h1m5 0h1m8 0h1m3 0h1m13 0h1m2 0h1m10 0h1m-102 1h1m1 0h1m2 0h1m9 0h1m0 0h1m0 0h1m6 0h1m14 0h1m0 0h1m1 0h1m0 0h1m1 0h1m1 0h1m10 0h1m0 0h1m8 0h1m10 0h1m8 0h1m0 0h1m0 0h1m-90 1h1m2 0h1m4 0h1m0 0h1m1 0h1m3 0h1m2 0h1m29 0h1m0 0h1m0 0h1m0 0h1m0 0h1m6 0h1m1 0h1m4 0h1m2 0h1m1 0h1m8 0h1m0 0h1m5 0h1m0 0h1m0 0h1m0 0h1m0 0h1m1 0h1m3 0h1m-100 1h1m7 0h1m0 0h1m36 0h1m4 0h1m0 0h1m0 0h1m0 0h1m0 0h1m1 0h1m0 0h1m5 0h1m11 0h1m2 0h1m5 0h1m3 0h1m9 0h1m-107 1h1m5 0h1m2 0h1m2 0h1m3 0h1m1 0h1m3 0h1m18 0h1m0 0h1m10 0h1m1 0h1m3 0h1m0 0h1m7 0h1m5 0h1m3 0h1m3 0h1m-74 1h1m37 0h1m2 0h1m2 0h1m0 0h1m1 0h1m3 0h1m5 0h1m22 0h1m1 0h1m0 0h1m-94 1h1m7 0h1m0 0h1m3 0h1m0 0h1m5 0h1m29 0h1m2 0h1m0 0h1m5 0h1m1 0h1m1 0h1m0 0h1m3 0h1m2 0h1m2 0h1m6 0h1m0 0h1m1 0h1m7 0h1m-85 1h1m0 0h1m1 0h1m1 0h1m0 0h1m3 0h1m1 0h1m20 0h1m1 0h1m13 0h1m3 0h1m1 0h1m0 0h1m3 0h1m27 0h1m-93 1h1m1 0h1m9 0h1m1 0h1m24 0h1m7 0h1m6 0h1m9 0h1m0 0h1m0 0h1m0 0h1m0 0h1m0 0h1m0 0h1m2 0h1m2 0h1m4 0h1m0 0h1m9 0h1m4 0h1m-101 1h1m4 0h1m2 0h1m3 0h1m1 0h1m2 0h1m1 0h1m22 0h1m6 0h1m1 0h1m0 0h1m1 0h1m2 0h1m5 0h1m0 0h1m0 0h1m0 0h1m3 0h1m6 0h1m7 0h1m0 0h1m0 0h1m-90 1h1m6 0h1m0 0h1m0 0h1m0 0h1m0 0h1m1 0h1m34 0h1m8 0h1m9 0h1m13 0h1m13 0h1m1 0h1m-96 1h1m5 0h1m2 0h1m0 0h1m0 0h1m32 0h1m2 0h1m2 0h1m1 0h1m0 0h1m0 0h1m0 0h1m1 0h1m0 0h1m1 0h1m0 0h1m0 0h1m8 0h1m1 0h1m27 0h1m-96 1h1m0 0h1m0 0h1m4 0h1m3 0h1m30 0h1m4 0h1m2 0h1m0 0h1m0 0h1m0 0h1m0 0h1m2 0h1m4 0h1m4 0h1m10 0h1m-76 1h1m0 0h1m36 0h1m4 0h1m0 0h1m1 0h1m5 0h1m7 0h1m0 0h1m10 0h1m-81 1h1m4 0h1m1 0h1m0 0h1m1 0h1m1 0h1m31 0h1m1 0h1m2 0h1m2 0h1m1 0h1m0 0h1m1 0h1m3 0h1m5 0h1m10 0h1m16 0h1m-98 1h1m5 0h1m1 0h1m0 0h1m0 0h1m6 0h1m2 0h1m21 0h1m1 0h1m4 0h1m1 0h1m0 0h1m4 0h1m5 0h1m8 0h1m0 0h1m3 0h1m15 0h1m-92 1h1m0 0h1m2 0h1m1 0h1m7 0h1m21 0h1m4 0h1m2 0h1m0 0h1m2 0h1m5 0h1m3 0h1m0 0h1m0 0h1m9 0h1m3 0h1m22 0h1m-105 1h1m7 0h1m3 0h1m1 0h1m2 0h1m3 0h1m3 0h1m1 0h1m8 0h1m4 0h1m4 0h1m0 0h1m0 0h1m4 0h1m3 0h1m2 0h1m1 0h1m0 0h1m2 0h1m19 0h1m-83 1h1m1 0h1m2 0h1m1 0h1m2 0h1m3 0h1m2 0h1m0 0h1m16 0h1m10 0h1m3 0h1m0 0h1m0 0h1m5 0h1m4 0h1m0 0h1m7 0h1m7 0h1m-76 1h1m2 0h1m0 0h1m1 0h1m3 0h1m25 0h1m1 0h1m6 0h1m0 0h1m9 0h1m2 0h1m10 0h1m-75 1h1m7 0h1m0 0h1m3 0h1m0 0h1m1 0h1m1 0h1m9 0h1m5 0h1m4 0h1m2 0h1m0 0h1m0 0h1m1 0h1m3 0h1m2 0h1m2 0h1m5 0h1m8 0h1m8 0h1m5 0h1m-83 1h1m1 0h1m1 0h1m1 0h1m0 0h1m2 0h1m2 0h1m3 0h1m2 0h1m3 0h1m1 0h1m0 0h1m0 0h1m5 0h1m1 0h1m0 0h1m1 0h1m0 0h1m1 0h1m3 0h1m9 0h1m1 0h1m-58 1h1m4 0h1m2 0h1m0 0h1m3 0h1m9 0h1m0 0h1m0 0h1m2 0h1m1 0h1m4 0h1m2 0h1m0 0h1m2 0h1m1 0h1m1 0h1m3 0h1m2 0h1m2 0h1m-62 1h1m4 0h1m5 0h1m1 0h1m2 0h1m0 0h1m3 0h1m3 0h1m11 0h1m3 0h1m3 0h1m0 0h1m2 0h1m6 0h1m2 0h1m-53 1h1m5 0h1m7 0h1m7 0h1m2 0h1m2 0h1m0 0h1m4 0h1m3 0h1m3 0h1m6 0h1m4 0h1m-69 1h1m4 0h1m8 0h1m4 0h1m2 0h1m3 0h1m1 0h1m2 0h1m5 0h1m0 0h1m6 0h1m0 0h1m11 0h1m0 0h1m-50 1h1m6 0h1m1 0h1m0 0h1m0 0h1m2 0h1m3 0h1m0 0h1m2 0h1m0 0h1m0 0h1m1 0h1m0 0h1m1 0h1m0 0h1m0 0h1m1 0h1m10 0h1m3 0h1m2 0h1m-57 1h1m2 0h1m1 0h1m9 0h1m8 0h1m3 0h1m0 0h1m11 0h1m2 0h1m15 0h1m14 0h1m-69 1h1m9 0h1m0 0h1m3 0h1m1 0h1m0 0h1m0 0h1m9 0h1m2 0h1m0 0h1m24 0h1m-51 1h1m3 0h1m1 0h1m0 0h1m7 0h1m0 0h1m13 0h1m2 0h1m9 0h1m7 0h1m-59 1h1m3 0h1m3 0h1m1 0h1m9 0h1m15 0h1m7 0h1m-48 1h1m6 0h1m8 0h1m0 0h1m0 0h1m1 0h1m6 0h1m5 0h1m-25 1h1m0 0h1m4 0h1m1 0h1m36 0h1m-49 1h1m1 0h1m2 0h1m13 0h1m26 0h1m17 0h1m-67 2h1m26 0h1m-13 6h1m-9 1h1m18 1h1" stroke="rgb(240,48,28)" stroke-opacity="0.50" stroke-width="1" fill="none"/>
<path d="M345 75.5h1m10 3h1m-6 2h1m5 0h1m-10 1h1m9 1h1m-2 2h1m-5 1h1m-5 2h1m-6 1h1m1 0h1m10 0h1m-15 1h1m1 0h1m3 0h1m7 0h1m-15 1h1m2 0h1m6 0h1m-7 1h1m-2 1h1m20 0h1m-26 1h1m1 0h1m6 0h1m0 0h1m-8 1h1m2 0h1m6 0h1m-11 1h1m-8 1h1m8 0h1m0 0h1m-5 1h1m4 0h1m-7 1h1m-5 1h1m9 0h1m-3 1h1m0 0h1m0 0h1m-6 1h1m-1 1h1m-6 1h1m7 0h1m4 0h1m-12 1h1m-12 2h1m7 0h1m5 0h1m-7 1h1m-2 1h1m11 0h1m-7 1h1m-19 4h1m8 0h1m-2 2h1m-22 1h1m15 0h1m10 0h1m-9 9h1m-5 3h1m2 4h1m-27 7h1m15 3h1m-29 2h1m45 0h1m-9 3h1m-42 1h1m-6 1h1m15 0h1m-11 1h1m11 0h1m16 0h1m-34 1h1m4 0h1m40 0h1m-53 1h1m0 0h1m5 0h1m31 0h1m18 0h1m-49 1h1m-26 1h1m33 0h1m2 0h1m15 0h1m-44 1h1m3 0h1m0 0h1m0 0h1m0 0h1m0 0h1m1 0h1m1 0h1m0 0h1m4 0h1m8 0h1m2 0h1m-30 1h1m1 0h1m2 0h1m7 0h1m2 0h1m1 0h1m9 0h1m2 0h1m-40 1h1m8 0h1m1 0h1m4 0h1m1 0h1m4 0h1m2 0h1m0 0h1m4 0h1m2 0h1m1 0h1m5 0h1m3 0h1m-52 1h1m4 0h1m4 0h1m4 0h1m0 0h1m1 0h1m0 0h1m7 0h1m3 0h1m1 0h1m0 0h1m0 0h1m8 0h1m0 0h1m-50 1h1m2 0h1m14 0h1m1 0h1m3 0h1m5 0h1m2 0h1m0 0h1m7 0h1m7 0h1m-45 1h1m0 0h1m6 0h1m2 0h1m17 0h1m1 0h1m4 0h1m1 0h1m0 0h1m4 0h1m4 0h1m-60 1h1m5 0h1m3 0h1m5 0h1m6 0h1m1 0h1m8 0h1m2 0h1m9 0h1m3 0h1m1 0h1m22 0h1m-63 1h1m18 0h1m6 0h1m2 0h1m27 0h1m-70 1h1m3 0h1m2 0h1m1 0h1m0 0h1m3 0h1m1 0h1m3 0h1m4 0h1m6 0h1m7 0h1m0 0h1m0 0h1m0 0h1m8 0h1m2 0h1m18 0h1m-76 1h1m6 0h1m0 0h1m1 0h1m14 0h1m5 0h1m3 0h1m2 0h1m0 0h1m1 0h1m1 0h1m1 0h1m3 0h1m8 0h1m-57 1h1m0 0h1m1 0h1m6 0h1m13 0h1m9 0h1m5 0h1m5 0h1m6 0h1m8 0h1m4 0h1m-63 1h1m17 0h1m9 0h1m2 0h1m2 0h1m2 0h1m-48 1h1m4 0h1m0 0h1m0 0h1m5 0h1m3 0h1m16 0h1m0 0h1m0 0h1m2 0h1m0 0h1m8 0h1m2 0h1m-51 1h1m8 0h1m3 0h1m2 0h1m17 0h1m1 0h1m5 0h1m0 0h1m3 0h1m3 0h1m2 0h1m-56 1h1m0 0h1m4 0h1m23 0h1m3 0h1m5 0h1m2 0h1m2 0h1m-45 1h1m4 0h1m1 0h1m20 0h1m7 0h1m1 0h1m2 0h1m0 0h1m-53 1h1m9 0h1m0 0h1m5 0h1m2 0h1m26 0h1m1 0h1m24 0h1m-68 1h1m1 0h1m3 0h1m2 0h1m0 0h1m18 0h1m10 0h1m-46 1h1m1 0h1m1 0h1m2 0h1m2 0h1m0 0h1m3 0h1m12 0h1m7 0h1m7 0h1m5 0h1m2 0h1m0 0h1m7 0h1m-51 1h1m31 0h1m16 0h1m-56 1h1m2 0h1m13 0h1m7 0h1m4 0h1m1 0h1m10 0h1m-50 1h1m4 0h1m2 0h1m3 0h1m13 0h1m9 0h1m2 0h1m3 0h1m2 0h1m3 0h1m-50 1h1m7 0h1m0 0h1m1 0h1m1 0h1m1 0h1m2 0h1m0 0h1m1 0h1m0 0h1m1 0h1m14 0h1m4 0h1m0 0h1m-41 1h1m3 0h1m3 0h1m0 0h1m3 0h1m8 0h1m9 0h1m8 0h1m1 0h1m0 0h1m-50 1h1m2 0h1m6 0h1m1 0h1m0 0h1m4 0h1m10 0h1m9 0h1m2 0h1m6 0h1m-41 1h1m1 0h1m2 0h1m1 0h1m1 0h1m0 0h1m1 0h1m1 0h1m2 0h1m5 0h1m1 0h1m0 0h1m3 0h1m1 0h1m-41 1h1m4 0h1m2 0h1m0 0h1m3 0h1m2 0h1m9 0h1m3 0h1m18 0h1m-40 1h1m4 0h1m2 0h1m5 0h1m0 0h1m1 0h1m1 0h1m9 0h1m-44 1h1m10 0h1m7 0h1m0 0h1m3 0h1m2 0h1m3 0h1m1 0h1m1 0h1m-23 1h1m1 0h1m0 0h1m3 0h1m3 0h1m2 0h1m2 0h1m0 0h1m5 0h1m1 0h1m1 0h1m-27 1h1m3 0h1m0 0h1m2 0h1m1 0h1m3 0h1m0 0h1m6 0h1m2 0h1m-20 1h1m3 0h1m2 0h1m9 0h1m6 0h1m-28 1h1m8 0h1m0 0h1m11 0h1m-36 1h1m0 0h1m4 0h1m1 1h1m7 0h1m16 6h1" stroke="rgb(240,48,28)" stroke-opacity="0.67" stroke-width="1" fill="none"/>
<path d="M351 88.5h1m-6 1h1m2 1h1m-2 2h1m4 2h1m-4 5h1m-9 4h1m2 1h1m-10 2h1m0 38h1m-63 9h1m12 0h1m2 1h1m5 0h1m2 0h1m-9 1h1m10 0h1m-24 1h1m1 0h1m2 0h1m-12 1h1m6 0h1m-7 1h1m16 0h1m-21 1h1m0 0h1m5 0h1m6 0h1m1 0h1m7 0h1m1 0h1m-36 1h1m9 0h1m1 0h1m4 0h1m1 0h1m3 0h1m2 0h1m11 0h1m-32 1h1m4 0h1m1 0h1m7 0h1m3 0h1m10 0h1m1 0h1m3 0h1m-58 1h1m16 0h1m5 0h1m0 0h1m14 0h1m11 0h1m-38 1h1m5 0h1m9 0h1m9 0h1m2 0h1m1 0h1m0 0h1m-28 1h1m3 0h1m1 0h1m6 0h1m7 0h1m0 0h1m3 0h1m-34 1h1m5 0h1m0 0h1m12 0h1m14 0h1m4 0h1m6 0h1m-51 1h1m1 0h1m0 0h1m0 0h1m2 0h1m9 0h1m10 0h1m1 0h1m2 0h1m2 0h1m4 0h1m-34 1h1m14 0h1m2 0h1m10 0h1m0 0h1m0 0h1m0 0h1m-45 1h1m3 0h1m4 0h1m6 0h1m13 0h1m6 0h1m5 0h1m-28 1h1m10 0h1m9 0h1m-34 1h1m4 0h1m2 0h1m9 0h1m11 0h1m7 0h1m0 0h1m-38 1h1m30 0h1m-43 1h1m7 0h1m11 0h1m1 0h1m18 0h1m8 0h1m-53 1h1m14 0h1m24 0h1m0 0h1m5 0h1m1 0h1m-38 1h1m4 0h1m1 0h1m0 0h1m2 0h1m1 0h1m12 0h1m0 0h1m0 0h1m0 0h1m0 0h1m1 0h1m2 0h1m-48 1h1m12 0h1m2 0h1m18 0h1m1 0h1m5 0h1m3 0h1m7 0h1m-47 1h1m6 0h1m0 0h1m1 0h1m0 0h1m21 0h1m-11 1h1m3 0h1m0 0h1m5 0h1m0 0h1m-38 1h1m11 0h1m6 0h1m1 0h1m7 0h1m4 0h1m-32 1h1m7 0h1m1 0h1m7 0h1m4 0h1m7 0h1m2 0h1m-27 1h1m13 0h1m1 0h1m-19 1h1m2 0h1m3 0h1m0 0h1m8 0h1m5 0h1m-24 1h1m0 0h1m3 0h1m1 0h1m0 0h1m14 0h1m-35 1h1m9 0h1m9 0h1m-9 1h1m7 0h1m-16 1h1m6 0h1m16 1h1" stroke="rgb(240,48,28)" stroke-opacity="0.83" stroke-width="1" fill="none"/>
<path d="M356 90.5h1m-14 2h1m2 9h1m-73 55h1m26 0h1m-26 1h1m1 0h1m4 0h1m5 0h1m0 0h1m-10 1h1m4 0h1m-17 1h1m3 0h1m8 0h1m1 0h1m3 0h1m-20 1h1m0 0h1m4 0h1m6 0h1m0 0h1m7 0h1m0 0h1m2 0h1m-26 1h1m1 0h1m0 0h1m3 0h1m1 0h1m1 0h1m0 0h1m0 0h1m1 0h1m0 0h1m0 0h1m-22 1h1m1 0h1m4 0h1m0 0h1m0 0h1m0 0h1m0 0h1m0 0h1m0 0h1m0 0h1m0 0h1m0 0h1m0 0h1m0 0h1m0 0h1m0 0h1m2 0h1m0 0h1m1 0h1m0 0h1m3 0h1m-43 1h1m0 0h1m8 0h1m3 0h1m0 0h1m1 0h1m1 0h1m0 0h1m0 0h1m2 0h1m0 0h1m0 0h1m1 0h1m0 0h1m0 0h1m0 0h1m0 0h1m2 0h1m-29 1h1m5 0h1m0 0h1m0 0h1m1 0h1m1 0h1m0 0h1m0 0h1m0 0h1m0 0h1m0 0h1m2 0h1m0 0h1m2 0h1m3 0h1m1 0h1m-31 1h1m0 0h1m0 0h1m4 0h1m0 0h1m0 0h1m0 0h1m0 0h1m0 0h1m0 0h1m0 0h1m0 0h1m0 0h1m0 0h1m1 0h1m1 0h1m0 0h1m0 0h1m0 0h1m0 0h1m0 0h1m0 0h1m1 0h1m2 0h1m-30 1h1m0 0h1m0 0h1m0 0h1m0 0h1m0 0h1m0 0h1m0 0h1m0 0h1m1 0h1m0 0h1m0 0h1m0 0h1m0 0h1m0 0h1m1 0h1m0 0h1m0 0h1m1 0h1m1 0h1m0 0h1m-28 1h1m1 0h1m2 0h1m0 0h1m0 0h1m1 0h1m0 0h1m0 0h1m0 0h1m0 0h1m0 0h1m0 0h1m0 0h1m0 0h1m1 0h1m0 0h1m2 0h1m5 0h1m9 0h1m-46 1h1m6 0h1m1 0h1m0 0h1m0 0h1m2 0h1m1 0h1m0 0h1m0 0h1m0 0h1m0 0h1m0 0h1m0 0h1m0 0h1m0 0h1m0 0h1m0 0h1m1 0h1m0 0h1m1 0h1m0 0h1m3 0h1m2 0h1m-45 1h1m5 0h1m4 0h1m2 0h1m0 0h1m0 0h1m0 0h1m1 0h1m0 0h1m0 0h1m0 0h1m0 0h1m0 0h1m0 0h1m0 0h1m0 0h1m0 0h1m1 0h1m0 0h1m0 0h1m1 0h1m1 0h1m1 0h1m1 0h1m0 0h1m6 0h1m-42 1h1m1 0h1m3 0h1m1 0h1m0 0h1m0 0h1m0 0h1m0 0h1m0 0h1m0 0h1m0 0h1m0 0h1m1 0h1m0 0h1m0 0h1m0 0h1m0 0h1m0 0h1m0 0h1m0 0h1m1 0h1m0 0h1m1 0h1m0 0h1m1 0h1m1 0h1m6 0h1m-41 1h1m0 0h1m0 0h1m1 0h1m0 0h1m1 0h1m0 0h1m0 0h1m0 0h1m0 0h1m0 0h1m0 0h1m0 0h1m0 0h1m0 0h1m0 0h1m0 0h1m0 0h1m0 0h1m0 0h1m0 0h1m0 0h1m0 0h1m0 0h1m0 0h1m0 0h1m1 0h1m2 0h1m-35 1h1m1 0h1m3 0h1m0 0h1m0 0h1m0 0h1m1 0h1m1 0h1m0 0h1m0 0h1m0 0h1m0 0h1m0 0h1m0 0h1m0 0h1m0 0h1m0 0h1m0 0h1m1 0h1m0 0h1m0 0h1m0 0h1m0 0h1m0 0h1m1 0h1m0 0h1m2 0h1m-39 1h1m0 0h1m2 0h1m1 0h1m1 0h1m0 0h1m0 0h1m0 0h1m0 0h1m0 0h1m0 0h1m0 0h1m0 0h1m0 0h1m0 0h1m0 0h1m1 0h1m0 0h1m0 0h1m0 0h1m0 0h1m0 0h1m0 0h1m1 0h1m3 0h1m-31 1h1m1 0h1m0 0h1m1 0h1m2 0h1m0 0h1m1 0h1m1 0h1m0 0h1m1 0h1m0 0h1m0 0h1m0 0h1m0 0h1m0 0h1m0 0h1m0 0h1m0 0h1m11 0h1m-40 1h1m4 0h1m2 0h1m0 0h1m0 0h1m0 0h1m0 0h1m0 0h1m0 0h1m1 0h1m0 0h1m0 0h1m0 0h1m0 0h1m0 0h1m0 0h1m1 0h1m1 0h1m7 0h1m-34 1h1m0 0h1m2 0h1m2 0h1m2 0h1m0 0h1m0 0h1m0 0h1m0 0h1m0 0h1m0 0h1m1 0h1m0 0h1m0 0h1m0 0h1m0 0h1m0 0h1m1 0h1m0 0h1m1 0h1m10 0h1m-41 1h1m4 0h1m4 0h1m2 0h1m2 0h1m2 0h1m0 0h1m0 0h1m2 0h1m0 0h1m5 0h1m-27 1h1m2 0h1m1 0h1m1 0h1m0 0h1m0 0h1m0 0h1m1 0h1m1 0h1m2 0h1m0 0h1m0 0h1m0 0h1m1 0h1m0 0h1m0 0h1m4 0h1m-37 1h1m5 0h1m2 0h1m1 0h1m2 0h1m0 0h1m0 0h1m0 0h1m0 0h1m0 0h1m1 0h1m0 0h1m0 0h1m2 0h1m0 0h1m0 0h1m1 0h1m-19 1h1m2 0h1m3 0h1m0 0h1m1 0h1m2 0h1m-19 1h1m6 0h1m3 0h1m9 0h1m-17 1h1m-5 1h1m0 0h1m8 0h1m1 0h1m1 0h1m-10 1h1m6 0h1m-7 3h1" stroke="rgb(240,48,28)" stroke-opacity="1.00" stroke-width="1" fill="none"/></g>
<line x1="324.13" y1="33.6" x2="324.13" y2="205.2" stroke="#f65858" stroke-width="1.6"/>
<line x1="236.4" y1="136.99" x2="426.5" y2="136.99" stroke="#f65858" stroke-width="1.6"/>
<circle cx="324.13" cy="68.56" r="3" fill="#f71212"/>
<circle cx="392.28" cy="136.99" r="3" fill="#f71212"/>
<circle cx="324.13" cy="136.99" r="2.6" fill="#fff" stroke="#f42a2a" stroke-width="1.2"/>
<rect x="236.4" y="33.6" width="190.1" height="171.6" fill="none" stroke="#6e6e6e" stroke-width="1"/>
<path d="M233.4 205.2H236.4M236.4 205.2V208.2M234.9 192.29H236.4M250.71 205.2V206.7M234.9 184.73H236.4M259.08 205.2V206.7M234.9 179.37H236.4M265.01 205.2V206.7M234.9 175.21H236.4M269.62 205.2V206.7M234.9 171.82H236.4M273.38 205.2V206.7M234.9 168.95H236.4M276.56 205.2V206.7M234.9 166.46H236.4M279.32 205.2V206.7M234.9 164.26H236.4M281.75 205.2V206.7M233.4 162.3H236.4M283.93 205.2V208.2M234.9 149.39H236.4M298.23 205.2V206.7M234.9 141.83H236.4M306.6 205.2V206.7M234.9 136.47H236.4M312.54 205.2V206.7M234.9 132.31H236.4M317.14 205.2V206.7M234.9 128.92H236.4M320.91 205.2V206.7M234.9 126.05H236.4M324.09 205.2V206.7M234.9 123.56H236.4M326.84 205.2V206.7M234.9 121.36H236.4M329.28 205.2V206.7M233.4 119.4H236.4M331.45 205.2V208.2M234.9 106.49H236.4M345.76 205.2V206.7M234.9 98.93H236.4M354.13 205.2V206.7M234.9 93.57H236.4M360.06 205.2V206.7M234.9 89.41H236.4M364.67 205.2V206.7M234.9 86.02H236.4M368.43 205.2V206.7M234.9 83.15H236.4M371.61 205.2V206.7M234.9 80.66H236.4M374.37 205.2V206.7M234.9 78.46H236.4M376.8 205.2V206.7M233.4 76.5H236.4M378.98 205.2V208.2M234.9 63.59H236.4M393.28 205.2V206.7M234.9 56.03H236.4M401.65 205.2V206.7M234.9 50.67H236.4M407.59 205.2V206.7M234.9 46.51H236.4M412.19 205.2V206.7M234.9 43.12H236.4M415.96 205.2V206.7M234.9 40.25H236.4M419.14 205.2V206.7M234.9 37.76H236.4M421.89 205.2V206.7M234.9 35.56H236.4M424.33 205.2V206.7M233.4 33.6H236.4M426.5 205.2V208.2" stroke="#555" stroke-width="0.9" fill="none"/>
<g font-size="6.5" fill="#333" stroke="#333" stroke-width="0.15"><text x="233.4" y="207.5" text-anchor="end">0</text><text x="236.4" y="213.2" text-anchor="middle">0</text><text x="233.4" y="164.6" text-anchor="end">1</text><text x="283.93" y="213.2" text-anchor="middle">1</text><text x="233.4" y="121.7" text-anchor="end">2</text><text x="331.45" y="213.2" text-anchor="middle">2</text><text x="233.4" y="78.8" text-anchor="end">3</text><text x="378.98" y="213.2" text-anchor="middle">3</text><text x="233.4" y="35.9" text-anchor="end">4</text><text x="426.5" y="213.2" text-anchor="middle">4</text></g>
<text x="331.45" y="32.4" text-anchor="middle" font-size="8.4" fill="#333" stroke="#333" stroke-width="0.18">APOPTOSIS PROFILE</text>
<text x="331.45" y="222.2" text-anchor="middle" font-size="8.3" fill="#333" stroke="#333" stroke-width="0.18">ANNEXIN V</text>
<text transform="translate(225.1 119.4) rotate(-90) scale(0.76 1)" text-anchor="middle" font-size="9.6" fill="#333" stroke="#333" stroke-width="0.2">VIABILITY</text>
<text x="236.4" y="221.5" font-size="6.4" fill="#666" stroke="#666" stroke-width="0.1">Live</text>
<text x="426.5" y="222" text-anchor="end" font-size="6.4" fill="#666" stroke="#666" stroke-width="0.1">Apoptotic</text>
<g font-size="7.9" fill="#333" stroke="#333" stroke-width="0.18"><text x="239.9" y="42">Dead</text><text x="239.9" y="50.6">0.99 %</text><text x="423.5" y="42" text-anchor="end">Late Apop./Dead</text><text x="423.5" y="50.6" text-anchor="end">11.54 %</text><text x="239.9" y="194.7">84.64 %</text><text x="239.9" y="203.2">Live</text><text x="423.5" y="194.7" text-anchor="end">2.83 %</text><text x="423.5" y="203.2" text-anchor="end">Early Apop.</text></g>
<rect x="454.3" y="137.19" width="87.27" height="68.81" fill="#e8f3d1"/>
<g filter="url(#sb)"><path d="M591 46.5h1m-22 2h1m6 2h1m6 3h1m4 2h1m-15 2h1m5 0h1m-2 1h1m-15 2h1m9 1h1m-13 2h1m6 0h1m-15 1h1m9 0h1m8 0h1m-8 1h1m-9 1h1m3 0h1m1 1h1m15 0h1m-17 1h1m4 0h1m4 0h1m6 0h1m-17 1h1m6 0h1m2 0h1m1 0h1m0 0h1m0 0h1m3 0h1m-18 1h1m-2 1h1m3 0h1m8 0h1m4 0h1m-22 1h1m1 0h1m1 0h1m2 0h1m1 0h1m2 0h1m-11 1h1m2 0h1m3 0h1m0 0h1m2 0h1m-23 1h1m14 0h1m6 0h1m0 0h1m1 0h1m2 0h1m5 0h1m-26 1h1m4 0h1m2 0h1m1 0h1m6 0h1m-24 1h1m11 0h1m2 0h1m5 0h1m3 0h1m-25 1h1m5 0h1m4 0h1m2 0h1m0 0h1m-22 1h1m9 0h1m0 0h1m1 0h1m2 0h1m4 0h1m12 0h1m-34 1h1m1 0h1m3 0h1m6 0h1m0 0h1m2 0h1m4 0h1m1 0h1m-21 1h1m0 0h1m6 0h1m0 0h1m0 0h1m5 0h1m0 0h1m8 0h1m-23 1h1m0 0h1m0 0h1m0 0h1m4 0h1m7 0h1m-28 1h1m4 0h1m3 0h1m2 0h1m1 0h1m0 0h1m0 0h1m1 0h1m0 0h1m0 0h1m1 0h1m0 0h1m2 0h1m6 0h1m-26 1h1m1 0h1m0 0h1m3 0h1m0 0h1m1 0h1m2 0h1m0 0h1m0 0h1m4 0h1m0 0h1m-32 1h1m1 0h1m1 0h1m3 0h1m2 0h1m3 0h1m1 0h1m1 0h1m8 0h1m2 0h1m-21 1h1m0 0h1m0 0h1m3 0h1m4 0h1m0 0h1m0 0h1m0 0h1m4 0h1m0 0h1m-28 1h1m5 0h1m4 0h1m1 0h1m0 0h1m0 0h1m0 0h1m0 0h1m1 0h1m11 0h1m-34 1h1m5 0h1m3 0h1m2 0h1m0 0h1m0 0h1m2 0h1m5 0h1m0 0h1m-34 1h1m2 0h1m15 0h1m10 0h1m2 0h1m-27 1h1m2 0h1m5 0h1m8 0h1m6 0h1m1 0h1m-28 1h1m5 0h1m0 0h1m3 0h1m3 0h1m0 0h1m0 0h1m0 0h1m2 0h1m6 0h1m-26 1h1m0 0h1m1 0h1m0 0h1m1 0h1m1 0h1m2 0h1m1 0h1m2 0h1m0 0h1m-17 1h1m3 0h1m1 0h1m8 0h1m3 0h1m1 0h1m3 0h1m-26 1h1m2 0h1m1 0h1m3 0h1m2 0h1m0 0h1m9 0h1m-32 1h1m1 0h1m6 0h1m3 0h1m4 0h1m0 0h1m1 0h1m2 0h1m2 0h1m9 0h1m-34 1h1m0 0h1m2 0h1m4 0h1m8 0h1m0 0h1m0 0h1m1 0h1m0 0h1m13 0h1m-41 1h1m5 0h1m0 0h1m4 0h1m0 0h1m1 0h1m8 0h1m2 0h1m3 0h1m-35 1h1m5 0h1m2 0h1m5 0h1m1 0h1m6 0h1m0 0h1m1 0h1m0 0h1m3 0h1m-29 1h1m1 0h1m1 0h1m5 0h1m1 0h1m0 0h1m2 0h1m0 0h1m4 0h1m8 0h1m-26 1h1m2 0h1m3 0h1m2 0h1m0 0h1m6 0h1m-24 1h1m1 0h1m1 0h1m3 0h1m0 0h1m3 0h1m4 0h1m0 0h1m3 0h1m4 0h1m-37 1h1m6 0h1m4 0h1m4 0h1m0 0h1m0 0h1m6 0h1m7 0h1m2 0h1m0 0h1m-35 1h1m10 0h1m0 0h1m0 0h1m1 0h1m0 0h1m0 0h1m0 0h1m2 0h1m0 0h1m1 0h1m9 0h1m1 0h1m-39 1h1m18 0h1m4 0h1m-21 1h1m6 0h1m0 0h1m0 0h1m0 0h1m1 0h1m0 0h1m20 0h1m-39 1h1m2 0h1m11 0h1m0 0h1m0 0h1m23 0h1m-47 1h1m5 0h1m3 0h1m0 0h1m0 0h1m1 0h1m0 0h1m2 0h1m3 0h1m0 0h1m1 0h1m0 0h1m8 0h1m-44 1h1m5 0h1m7 0h1m3 0h1m2 0h1m0 0h1m1 0h1m0 0h1m3 0h1m5 0h1m0 0h1m1 0h1m2 0h1m3 0h1m-37 1h1m10 0h1m0 0h1m1 0h1m5 0h1m0 0h1m1 0h1m3 0h1m1 0h1m-24 1h1m2 0h1m1 0h1m1 0h1m1 0h1m1 0h1m1 0h1m4 0h1m-16 1h1m0 0h1m1 0h1m1 0h1m8 0h1m2 0h1m0 0h1m2 0h1m-32 1h1m11 0h1m0 0h1m0 0h1m1 0h1m3 0h1m0 0h1m0 0h1m13 0h1m0 0h1m-37 1h1m3 0h1m2 0h1m0 0h1m1 0h1m2 0h1m4 0h1m0 0h1m0 0h1m1 0h1m6 0h1m-60 1h1m11 0h1m16 0h1m6 0h1m1 0h1m0 0h1m0 0h1m1 0h1m1 0h1m3 0h1m0 0h1m2 0h1m3 0h1m-20 1h1m0 0h1m4 0h1m1 0h1m1 0h1m1 0h1m2 0h1m0 0h1m1 0h1m0 0h1m0 0h1m0 0h1m1 0h1m1 0h1m4 0h1m-60 1h1m15 0h1m16 0h1m6 0h1m0 0h1m12 0h1m13 0h1m-55 1h1m2 0h1m1 0h1m4 0h1m3 0h1m7 0h1m6 0h1m1 0h1m0 0h1m0 0h1m5 0h1m0 0h1m-39 1h1m5 0h1m0 0h1m1 0h1m5 0h1m6 0h1m3 0h1m3 0h1m4 0h1m4 0h1m-36 1h1m1 0h1m2 0h1m0 0h1m1 0h1m7 0h1m3 0h1m2 0h1m1 0h1m-29 1h1m9 0h1m1 0h1m3 0h1m1 0h1m2 0h1m0 0h1m4 0h1m5 0h1m-46 1h1m6 0h1m3 0h1m13 0h1m7 0h1m1 0h1m0 0h1m3 0h1m0 0h1m-39 1h1m12 0h1m3 0h1m1 0h1m5 0h1m2 0h1m3 0h1m4 0h1m-47 1h1m5 0h1m7 0h1m7 0h1m0 0h1m2 0h1m9 0h1m1 0h1m1 0h1m10 0h1m-32 1h1m13 0h1m3 0h1m0 0h1m2 0h1m1 0h1m2 0h1m1 0h1m7 0h1m-47 1h1m12 0h1m9 0h1m3 0h1m0 0h1m1 0h1m5 0h1m1 0h1m-40 1h1m9 0h1m15 0h1m1 0h1m1 0h1m-39 1h1m1 0h1m15 0h1m1 0h1m4 0h1m4 0h1m3 0h1m5 0h1m5 0h1m6 0h1m-41 1h1m1 0h1m13 0h1m2 0h1m2 0h1m1 0h1m4 0h1m10 0h1m3 0h1m-68 1h1m0 0h1m30 0h1m11 0h1m4 0h1m7 0h1m0 0h1m-41 1h1m5 0h1m4 0h1m2 0h1m4 0h1m0 0h1m1 0h1m8 0h1m0 0h1m5 0h1m5 0h1m-53 1h1m4 0h1m9 0h1m1 0h1m1 0h1m3 0h1m1 0h1m1 0h1m6 0h1m12 0h1m5 0h1m-57 1h1m15 0h1m2 0h1m8 0h1m11 0h1m0 0h1m2 0h1m-35 1h1m13 0h1m3 0h1m7 0h1m6 0h1m2 0h1m4 0h1m-41 1h1m10 0h1m2 0h1m2 0h1m1 0h1m2 0h1m6 0h1m6 0h1m13 0h1m-68 1h1m8 0h1m6 0h1m3 0h1m4 0h1m5 0h1m0 0h1m0 0h1m4 0h1m0 0h1m1 0h1m1 0h1m8 0h1m0 0h1m2 0h1m4 0h1m-35 1h1m3 0h1m2 0h1m2 0h1m0 0h1m0 0h1m4 0h1m1 0h1m2 0h1m-55 1h1m11 0h1m3 0h1m11 0h1m2 0h1m5 0h1m4 0h1m1 0h1m3 0h1m5 0h1m5 0h1m4 0h1m-47 1h1m6 0h1m0 0h1m14 0h1m2 0h1m3 0h1m3 0h1m5 0h1m0 0h1m-61 1h1m10 0h1m3 0h1m3 0h1m19 0h1m1 0h1m0 0h1m9 0h1m1 0h1m3 0h1m5 0h1m4 0h1m-32 1h1m4 0h1m0 0h1m0 0h1m1 0h1m1 0h1m2 0h1m1 0h1m1 0h1m1 0h1m4 0h1m-53 1h1m6 0h1m0 0h1m10 0h1m1 0h1m2 0h1m5 0h1m4 0h1m0 0h1m3 0h1m1 0h1m7 0h1m4 0h1m-53 1h1m0 0h1m16 0h1m5 0h1m0 0h1m7 0h1m0 0h1m6 0h1m10 0h1m-60 1h1m5 0h1m13 0h1m1 0h1m4 0h1m1 0h1m1 0h1m1 0h1m0 0h1m0 0h1m1 0h1m3 0h1m1 0h1m-57 1h1m5 0h1m5 0h1m9 0h1m1 0h1m14 0h1m3 0h1m3 0h1m0 0h1m0 0h1m3 0h1m0 0h1m4 0h1m1 0h1m3 0h1m6 0h1m-70 1h1m11 0h1m2 0h1m2 0h1m8 0h1m2 0h1m12 0h1m2 0h1m3 0h1m5 0h1m3 0h1m-72 1h1m15 0h1m0 0h1m11 0h1m8 0h1m0 0h1m10 0h1m1 0h1m1 0h1m2 0h1m0 0h1m1 0h1m1 0h1m3 0h1m8 0h1m-68 1h1m0 0h1m5 0h1m8 0h1m7 0h1m7 0h1m0 0h1m4 0h1m0 0h1m5 0h1m8 0h1m0 0h1m2 0h1m0 0h1m1 0h1m2 0h1m0 0h1m-58 1h1m11 0h1m5 0h1m0 0h1m2 0h1m0 0h1m7 0h1m6 0h1m0 0h1m1 0h1m6 0h1m4 0h1m0 0h1m4 0h1m0 0h1m2 0h1m1 0h1m-64 1h1m2 0h1m9 0h1m1 0h1m10 0h1m8 0h1m0 0h1m2 0h1m2 0h1m2 0h1m2 0h1m3 0h1m2 0h1m3 0h1m0 0h1m-82 1h1m4 0h1m12 0h1m1 0h1m4 0h1m0 0h1m6 0h1m7 0h1m6 0h1m0 0h1m2 0h1m5 0h1m0 0h1m0 0h1m2 0h1m5 0h1m-64 1h1m8 0h1m0 0h1m1 0h1m7 0h1m1 0h1m0 0h1m4 0h1m2 0h1m0 0h1m2 0h1m5 0h1m0 0h1m1 0h1m1 0h1m1 0h1m2 0h1m0 0h1m1 0h1m6 0h1m0 0h1m1 0h1m0 0h1m1 0h1m2 0h1m5 0h1m4 0h1m-95 1h1m16 0h1m1 0h1m4 0h1m9 0h1m2 0h1m6 0h1m0 0h1m1 0h1m0 0h1m7 0h1m0 0h1m3 0h1m2 0h1m8 0h1m3 0h1m6 0h1m3 0h1m-63 1h1m0 0h1m0 0h1m1 0h1m3 0h1m4 0h1m1 0h1m6 0h1m0 0h1m1 0h1m0 0h1m0 0h1m14 0h1m0 0h1m6 0h1m1 0h1m1 0h1m3 0h1m-77 1h1m6 0h1m1 0h1m2 0h1m0 0h1m0 0h1m1 0h1m0 0h1m4 0h1m8 0h1m8 0h1m1 0h1m0 0h1m3 0h1m3 0h1m4 0h1m3 0h1m5 0h1m0 0h1m2 0h1m1 0h1m4 0h1m-85 1h1m0 0h1m0 0h1m4 0h1m2 0h1m2 0h1m3 0h1m1 0h1m1 0h1m1 0h1m2 0h1m0 0h1m2 0h1m5 0h1m1 0h1m5 0h1m2 0h1m1 0h1m6 0h1m6 0h1m1 0h1m6 0h1m0 0h1m0 0h1m1 0h1m0 0h1m0 0h1m6 0h1m-80 1h1m0 0h1m1 0h1m2 0h1m0 0h1m1 0h1m0 0h1m2 0h1m5 0h1m2 0h1m7 0h1m5 0h1m3 0h1m0 0h1m6 0h1m2 0h1m6 0h1m2 0h1m2 0h1m-70 1h1m3 0h1m2 0h1m1 0h1m1 0h1m2 0h1m0 0h1m4 0h1m7 0h1m0 0h1m4 0h1m2 0h1m0 0h1m0 0h1m1 0h1m0 0h1m1 0h1m1 0h1m0 0h1m7 0h1m1 0h1m0 0h1m1 0h1m1 0h1m0 0h1m2 0h1m0 0h1m0 0h1m2 0h1m4 0h1m9 0h1m-90 1h1m2 0h1m0 0h1m2 0h1m1 0h1m0 0h1m1 0h1m0 0h1m2 0h1m3 0h1m0 0h1m17 0h1m2 0h1m4 0h1m2 0h1m2 0h1m2 0h1m7 0h1m5 0h1m4 0h1m0 0h1m0 0h1m1 0h1m3 0h1m-85 1h1m5 0h1m1 0h1m2 0h1m4 0h1m6 0h1m5 0h1m3 0h1m0 0h1m2 0h1m0 0h1m1 0h1m1 0h1m1 0h1m5 0h1m1 0h1m0 0h1m0 0h1m8 0h1m8 0h1m14 0h1m4 0h1m-94 1h1m1 0h1m1 0h1m4 0h1m0 0h1m5 0h1m2 0h1m0 0h1m2 0h1m5 0h1m2 0h1m1 0h1m3 0h1m7 0h1m1 0h1m2 0h1m1 0h1m1 0h1m1 0h1m1 0h1m0 0h1m4 0h1m0 0h1m0 0h1m6 0h1m0 0h1m0 0h1m7 0h1m3 0h1m-87 1h1m0 0h1m0 0h1m4 0h1m3 0h1m0 0h1m2 0h1m0 0h1m6 0h1m1 0h1m0 0h1m7 0h1m0 0h1m4 0h1m0 0h1m3 0h1m1 0h1m2 0h1m1 0h1m4 0h1m0 0h1m4 0h1m1 0h1m0 0h1m0 0h1m3 0h1m3 0h1m3 0h1m5 0h1m-89 1h1m4 0h1m1 0h1m3 0h1m7 0h1m1 0h1m1 0h1m0 0h1m3 0h1m1 0h1m6 0h1m2 0h1m0 0h1m2 0h1m0 0h1m3 0h1m1 0h1m0 0h1m15 0h1m3 0h1m4 0h1m0 0h1m1 0h1m0 0h1m0 0h1m10 0h1m-92 1h1m14 0h1m9 0h1m10 0h1m6 0h1m3 0h1m1 0h1m4 0h1m0 0h1m2 0h1m0 0h1m1 0h1m3 0h1m6 0h1m1 0h1m7 0h1m2 0h1m0 0h1m5 0h1m-102 1h1m0 0h1m6 0h1m0 0h1m0 0h1m1 0h1m0 0h1m7 0h1m25 0h1m2 0h1m3 0h1m2 0h1m2 0h1m0 0h1m1 0h1m2 0h1m8 0h1m0 0h1m0 0h1m3 0h1m6 0h1m7 0h1m-104 1h1m10 0h1m3 0h1m1 0h1m1 0h1m3 0h1m10 0h1m6 0h1m9 0h1m2 0h1m4 0h1m1 0h1m3 0h1m6 0h1m0 0h1m1 0h1m2 0h1m0 0h1m0 0h1m6 0h1m3 0h1m4 0h1m0 0h1m0 0h1m-87 1h1m10 0h1m1 0h1m1 0h1m12 0h1m16 0h1m4 0h1m3 0h1m0 0h1m2 0h1m1 0h1m2 0h1m1 0h1m1 0h1m1 0h1m2 0h1m4 0h1m0 0h1m8 0h1m-90 1h1m3 0h1m4 0h1m6 0h1m15 0h1m2 0h1m6 0h1m1 0h1m4 0h1m3 0h1m5 0h1m2 0h1m1 0h1m3 0h1m0 0h1m2 0h1m1 0h1m1 0h1m3 0h1m2 0h1m7 0h1m-93 1h1m1 0h1m0 0h1m0 0h1m4 0h1m1 0h1m6 0h1m1 0h1m0 0h1m10 0h1m18 0h1m0 0h1m1 0h1m5 0h1m0 0h1m13 0h1m1 0h1m3 0h1m0 0h1m1 0h1m8 0h1m12 0h1m-110 1h1m0 0h1m5 0h1m1 0h1m0 0h1m2 0h1m14 0h1m5 0h1m11 0h1m1 0h1m4 0h1m2 0h1m0 0h1m0 0h1m3 0h1m1 0h1m1 0h1m3 0h1m1 0h1m17 0h1m-92 1h1m1 0h1m2 0h1m6 0h1m1 0h1m17 0h1m12 0h1m7 0h1m8 0h1m6 0h1m3 0h1m5 0h1m2 0h1m3 0h1m4 0h1m13 0h1m-102 1h1m1 0h1m1 0h1m1 0h1m5 0h1m1 0h1m1 0h1m27 0h1m3 0h1m0 0h1m1 0h1m1 0h1m2 0h1m2 0h1m1 0h1m0 0h1m7 0h1m5 0h1m14 0h1m-91 1h1m0 0h1m1 0h1m0 0h1m6 0h1m2 0h1m12 0h1m7 0h1m3 0h1m2 0h1m1 0h1m6 0h1m3 0h1m4 0h1m0 0h1m9 0h1m0 0h1m1 0h1m5 0h1m13 0h1m-97 1h1m3 0h1m3 0h1m3 0h1m22 0h1m10 0h1m2 0h1m2 0h1m0 0h1m3 0h1m0 0h1m0 0h1m4 0h1m0 0h1m6 0h1m-79 1h1m2 0h1m2 0h1m2 0h1m1 0h1m0 0h1m0 0h1m0 0h1m3 0h1m3 0h1m13 0h1m7 0h1m8 0h1m1 0h1m1 0h1m12 0h1m7 0h1m27 0h1m-109 1h1m9 0h1m0 0h1m0 0h1m6 0h1m3 0h1m17 0h1m4 0h1m1 0h1m3 0h1m0 0h1m1 0h1m3 0h1m1 0h1m0 0h1m0 0h1m8 0h1m0 0h1m1 0h1m6 0h1m0 0h1m1 0h1m-71 1h1m1 0h1m3 0h1m9 0h1m18 0h1m3 0h1m9 0h1m5 0h1m3 0h1m2 0h1m5 0h1m3 0h1m-78 1h1m2 0h1m1 0h1m1 0h1m1 0h1m0 0h1m0 0h1m1 0h1m1 0h1m19 0h1m5 0h1m1 0h1m1 0h1m0 0h1m2 0h1m0 0h1m10 0h1m-67 1h1m1 0h1m6 0h1m0 0h1m2 0h1m0 0h1m3 0h1m2 0h1m3 0h1m3 0h1m2 0h1m5 0h1m0 0h1m0 0h1m3 0h1m3 0h1m0 0h1m0 0h1m0 0h1m0 0h1m0 0h1m6 0h1m14 0h1m7 0h1m-89 1h1m5 0h1m3 0h1m1 0h1m0 0h1m2 0h1m0 0h1m2 0h1m0 0h1m1 0h1m0 0h1m0 0h1m0 0h1m9 0h1m6 0h1m3 0h1m2 0h1m2 0h1m0 0h1m1 0h1m2 0h1m16 0h1m10 0h1m0 0h1m-87 1h1m0 0h1m4 0h1m3 0h1m0 0h1m0 0h1m0 0h1m1 0h1m5 0h1m12 0h1m2 0h1m0 0h1m1 0h1m2 0h1m1 0h1m3 0h1m3 0h1m5 0h1m0 0h1m3 0h1m0 0h1m18 0h1m-82 1h1m5 0h1m0 0h1m0 0h1m5 0h1m2 0h1m2 0h1m3 0h1m0 0h1m1 0h1m5 0h1m1 0h1m3 0h1m1 0h1m0 0h1m1 0h1m0 0h1m2 0h1m2 0h1m-52 1h1m1 0h1m1 0h1m3 0h1m0 0h1m4 0h1m2 0h1m1 0h1m2 0h1m2 0h1m3 0h1m1 0h1m1 0h1m1 0h1m1 0h1m1 0h1m2 0h1m3 0h1m1 0h1m5 0h1m-62 1h1m8 0h1m1 0h1m0 0h1m3 0h1m1 0h1m0 0h1m3 0h1m0 0h1m0 0h1m2 0h1m2 0h1m3 0h1m1 0h1m0 0h1m1 0h1m0 0h1m1 0h1m2 0h1m1 0h1m0 0h1m0 0h1m0 0h1m8 0h1m4 0h1m-54 1h1m0 0h1m2 0h1m1 0h1m1 0h1m0 0h1m2 0h1m2 0h1m5 0h1m0 0h1m5 0h1m0 0h1m1 0h1m1 0h1m8 0h1m1 0h1m4 0h1m3 0h1m-52 1h1m1 0h1m2 0h1m0 0h1m5 0h1m2 0h1m0 0h1m0 0h1m0 0h1m2 0h1m1 0h1m0 0h1m0 0h1m3 0h1m3 0h1m1 0h1m1 0h1m2 0h1m0 0h1m0 0h1m18 0h1m-68 1h1m0 0h1m1 0h1m3 0h1m2 0h1m3 0h1m1 0h1m6 0h1m3 0h1m6 0h1m0 0h1m5 0h1m14 0h1m2 0h1m6 0h1m-65 1h1m2 0h1m3 0h1m1 0h1m2 0h1m4 0h1m0 0h1m3 0h1m0 0h1m0 0h1m4 0h1m0 0h1m1 0h1m7 0h1m6 0h1m14 0h1m-65 1h1m12 0h1m7 0h1m4 0h1m3 0h1m0 0h1m1 0h1m1 0h1m0 0h1m7 0h1m-38 1h1m1 0h1m3 0h1m5 0h1m1 0h1m0 0h1m18 0h1m27 0h1m-58 1h1m2 0h1m1 0h1m1 0h1m4 0h1m7 0h1m13 0h1m-36 1h1m10 0h1m2 0h1m1 0h1m0 0h1m4 0h1m0 0h1m1 0h1m-26 1h1m9 0h1m8 0h1m2 0h1m9 1h1m-32 1h1m6 0h1m8 0h1m10 0h1m-50 1h1m17 0h1m3 0h1m4 1h1m34 1h1m-43 1h1m-6 1h1" stroke="rgb(240,48,28)" stroke-opacity="0.50" stroke-width="1" fill="none"/>
<path d="M574 69.5h1m-2 3h1m-6 1h1m-4 3h1m4 3h1m7 0h1m-15 1h1m12 0h1m-6 1h1m0 0h1m6 0h1m-15 2h1m2 0h1m1 0h1m4 0h1m-9 1h1m3 0h1m0 0h1m-4 1h1m7 0h1m-16 1h1m0 0h1m7 0h1m1 0h1m2 0h1m-19 1h1m1 0h1m1 0h1m0 0h1m6 0h1m1 0h1m-14 1h1m0 0h1m2 0h1m0 0h1m0 0h1m0 0h1m0 0h1m1 0h1m0 0h1m3 0h1m-15 1h1m0 0h1m1 0h1m0 0h1m1 0h1m3 0h1m-17 1h1m3 0h1m0 0h1m3 0h1m0 0h1m2 1h1m0 0h1m6 0h1m-20 1h1m2 0h1m3 0h1m0 0h1m0 0h1m1 0h1m2 0h1m0 0h1m0 0h1m-27 1h1m9 0h1m7 0h1m0 0h1m10 0h1m-24 1h1m4 0h1m1 0h1m-6 1h1m2 0h1m1 0h1m1 0h1m0 0h1m0 0h1m1 0h1m-9 1h1m5 0h1m0 0h1m3 0h1m-18 1h1m7 0h1m5 0h1m-13 1h1m2 0h1m4 0h1m3 0h1m-16 1h1m3 0h1m4 0h1m1 0h1m6 0h1m-16 1h1m1 0h1m4 0h1m1 0h1m-12 1h1m2 0h1m0 0h1m7 0h1m4 0h1m-15 1h1m12 0h1m-12 1h1m2 0h1m3 0h1m0 0h1m0 0h1m8 0h1m-18 1h1m2 0h1m3 0h1m0 0h1m-11 1h1m0 0h1m4 1h1m2 0h1m6 0h1m-20 1h1m3 0h1m0 0h1m2 0h1m5 0h1m-14 1h1m3 0h1m2 0h1m3 0h1m-15 1h1m14 0h1m2 0h1m-18 1h1m1 0h1m0 0h1m1 0h1m4 1h1m-12 1h1m2 0h1m4 1h1m6 0h1m-31 1h1m11 0h1m4 0h1m-3 1h1m1 0h1m7 0h1m-12 1h1m1 0h1m4 0h1m-1 1h1m-10 1h1m0 0h1m1 0h1m7 1h1m-16 3h1m4 0h1m0 3h1m3 1h1m-30 1h1m31 0h1m-13 3h1m6 1h1m6 0h1m-31 1h1m21 0h1m-13 1h1m7 0h1m-16 1h1m5 0h1m4 2h1m10 0h1m-15 2h1m-7 2h1m10 0h1m9 1h1m1 1h1m-8 1h1m-18 1h1m5 0h1m16 0h1m-18 1h1m0 0h1m4 1h1m3 0h1m-15 1h1m18 0h1m-19 1h1m5 0h1m7 0h1m1 0h1m6 0h1m-40 1h1m2 0h1m21 0h1m3 0h1m0 0h1m1 0h1m3 0h1m3 0h1m5 0h1m-62 1h1m35 0h1m8 0h1m-40 1h1m0 0h1m4 0h1m4 0h1m10 0h1m13 0h1m1 0h1m9 0h1m-63 1h1m16 0h1m10 0h1m17 0h1m9 0h1m12 0h1m-76 1h1m12 0h1m2 0h1m8 0h1m7 0h1m17 0h1m17 0h1m-63 1h1m5 0h1m2 0h1m3 0h1m5 0h1m5 0h1m0 0h1m14 0h1m2 0h1m19 0h1m-59 1h1m1 0h1m1 0h1m0 0h1m5 0h1m0 0h1m2 0h1m10 0h1m24 0h1m1 0h1m-62 1h1m2 0h1m0 0h1m1 0h1m5 0h1m1 0h1m3 0h1m11 0h1m5 0h1m4 0h1m1 0h1m31 0h1m0 0h1m-76 1h1m0 0h1m3 0h1m3 0h1m2 0h1m0 0h1m0 0h1m4 0h1m1 0h1m5 0h1m7 0h1m1 0h1m6 0h1m10 0h1m-71 1h1m5 0h1m0 0h1m2 0h1m1 0h1m1 0h1m0 0h1m5 0h1m0 0h1m9 0h1m0 0h1m23 0h1m4 0h1m5 0h1m6 0h1m-66 1h1m6 0h1m0 0h1m1 0h1m1 0h1m0 0h1m0 0h1m2 0h1m8 0h1m0 0h1m2 0h1m2 0h1m20 0h1m0 0h1m7 0h1m0 0h1m-73 1h1m5 0h1m3 0h1m4 0h1m0 0h1m10 0h1m5 0h1m1 0h1m2 0h1m8 0h1m17 0h1m3 0h1m2 0h1m-67 1h1m2 0h1m1 0h1m6 0h1m8 0h1m1 0h1m1 0h1m0 0h1m10 0h1m9 0h1m4 0h1m0 0h1m3 0h1m8 0h1m-73 1h1m1 0h1m0 0h1m0 0h1m0 0h1m0 0h1m2 0h1m11 0h1m4 0h1m5 0h1m2 0h1m4 0h1m0 0h1m21 0h1m-67 1h1m3 0h1m0 0h1m1 0h1m1 0h1m3 0h1m12 0h1m4 0h1m5 0h1m0 0h1m6 0h1m2 0h1m23 0h1m2 0h1m-70 1h1m14 0h1m0 0h1m2 0h1m9 0h1m2 0h1m5 0h1m4 0h1m3 0h1m12 0h1m1 0h1m-79 1h1m11 0h1m1 0h1m1 0h1m6 0h1m18 0h1m4 0h1m0 0h1m1 0h1m2 0h1m11 0h1m-62 1h1m0 0h1m4 0h1m2 0h1m5 0h1m1 0h1m9 0h1m6 0h1m0 0h1m0 0h1m1 0h1m6 0h1m10 0h1m-52 1h1m3 0h1m0 0h1m0 0h1m0 0h1m0 0h1m0 0h1m4 0h1m3 0h1m12 0h1m0 0h1m3 0h1m3 0h1m4 0h1m2 0h1m10 0h1m12 0h1m-81 1h1m8 0h1m1 0h1m1 0h1m2 0h1m6 0h1m9 0h1m1 0h1m2 0h1m2 0h1m2 0h1m1 0h1m10 0h1m26 0h1m-76 1h1m2 0h1m1 0h1m4 0h1m4 0h1m20 0h1m4 0h1m1 0h1m1 0h1m0 0h1m-48 1h1m0 0h1m0 0h1m0 0h1m3 0h1m9 0h1m12 0h1m4 0h1m13 0h1m-48 1h1m0 0h1m1 0h1m2 0h1m0 0h1m2 0h1m10 0h1m6 0h1m2 0h1m0 0h1m1 0h1m1 0h1m1 0h1m0 0h1m33 0h1m-80 1h1m1 0h1m5 0h1m7 0h1m10 0h1m7 0h1m1 0h1m23 0h1m-58 1h1m0 0h1m0 0h1m2 0h1m6 0h1m13 0h1m7 0h1m0 0h1m5 0h1m-52 1h1m1 0h1m4 0h1m2 0h1m4 0h1m9 0h1m7 0h1m3 0h1m6 0h1m4 0h1m0 0h1m2 0h1m-47 1h1m7 0h1m5 0h1m0 0h1m0 0h1m12 0h1m2 0h1m6 0h1m1 0h1m0 0h1m0 0h1m0 0h1m6 0h1m12 0h1m12 0h1m-76 1h1m7 0h1m5 0h1m4 0h1m2 0h1m4 0h1m0 0h1m2 0h1m9 0h1m0 0h1m4 0h1m-44 1h1m1 0h1m5 0h1m10 0h1m1 0h1m0 0h1m7 0h1m0 0h1m0 0h1m-34 1h1m2 0h1m8 0h1m1 0h1m0 0h1m3 0h1m3 0h1m1 0h1m0 0h1m0 0h1m1 0h1m0 0h1m5 0h1m1 0h1m-47 1h1m6 0h1m0 0h1m5 0h1m1 0h1m0 0h1m1 0h1m0 0h1m2 0h1m0 0h1m2 0h1m4 0h1m2 0h1m2 0h1m0 0h1m2 0h1m2 0h1m-40 1h1m8 0h1m18 0h1m-28 1h1m4 0h1m1 0h1m6 0h1m2 0h1m7 0h1m1 0h1m4 0h1m-33 1h1m0 0h1m5 0h1m1 0h1m4 0h1m-16 1h1m5 0h1m11 0h1m-16 1h1m2 0h1m19 0h1m2 0h1m-29 1h1m2 0h1m6 0h1m17 0h1m-28 1h1m14 0h1m4 0h1m2 0h1m-26 1h1m4 0h1m3 0h1m11 0h1m2 2h1m-13 2h1m7 0h1" stroke="rgb(240,48,28)" stroke-opacity="0.67" stroke-width="1" fill="none"/>
<path d="M565 80.5h1m8 0h1m-3 3h1m-11 1h1m1 0h1m6 0h1m-13 1h1m6 0h1m-6 1h1m6 1h1m0 1h1m-12 1h1m9 0h1m3 0h1m-10 1h1m6 0h1m0 0h1m-13 1h1m1 0h1m2 0h1m1 0h1m-4 1h1m-1 1h1m-2 1h1m4 0h1m-10 1h1m-1 1h1m9 0h1m-13 1h1m0 0h1m0 0h1m4 0h1m0 0h1m1 0h1m-7 1h1m-2 1h1m-2 2h1m3 0h1m0 0h1m2 0h1m-8 2h1m-7 2h1m-4 2h1m2 1h1m0 1h1m11 3h1m-14 17h1m-3 4h1m-46 16h1m10 2h1m-11 1h1m12 1h1m-1 1h1m32 0h1m-39 1h1m20 0h1m0 1h1m-34 1h1m0 0h1m7 0h1m0 0h1m0 0h1m5 0h1m8 0h1m-25 1h1m1 0h1m12 0h1m6 0h1m24 0h1m5 0h1m-70 1h1m3 0h1m1 0h1m0 0h1m17 0h1m8 0h1m8 0h1m7 0h1m-55 1h1m1 0h1m9 0h1m3 0h1m9 0h1m3 0h1m23 0h1m-47 1h1m8 0h1m0 0h1m1 0h1m33 0h1m-41 1h1m0 0h1m0 0h1m0 0h1m3 0h1m0 0h1m3 0h1m4 0h1m0 0h1m1 0h1m6 0h1m-36 1h1m6 0h1m3 0h1m4 0h1m6 0h1m5 0h1m1 0h1m1 0h1m-42 1h1m4 0h1m4 0h1m12 0h1m1 0h1m1 0h1m0 0h1m2 0h1m2 0h1m1 0h1m-32 1h1m14 0h1m3 0h1m5 0h1m0 0h1m0 0h1m-31 1h1m0 0h1m0 0h1m5 0h1m1 0h1m3 0h1m11 0h1m1 0h1m3 0h1m2 0h1m-40 1h1m8 0h1m5 0h1m8 0h1m7 0h1m0 0h1m2 0h1m2 0h1m0 0h1m6 0h1m-46 1h1m5 0h1m3 0h1m11 0h1m1 0h1m15 0h1m-42 1h1m1 0h1m1 0h1m5 0h1m0 0h1m2 0h1m6 0h1m7 0h1m2 0h1m4 0h1m-36 1h1m4 0h1m0 0h1m2 0h1m3 0h1m0 0h1m4 0h1m0 0h1m1 0h1m1 0h1m2 0h1m0 0h1m0 0h1m3 0h1m3 0h1m13 0h1m-56 1h1m9 0h1m12 0h1m0 0h1m13 0h1m-40 1h1m0 0h1m3 0h1m10 0h1m28 0h1m-40 1h1m4 0h1m1 0h1m0 0h1m8 0h1m3 0h1m3 0h1m0 0h1m0 0h1m12 0h1m-48 1h1m12 0h1m3 0h1m1 0h1m9 0h1m3 0h1m0 0h1m15 0h1m-56 1h1m6 0h1m1 0h1m13 0h1m4 0h1m0 0h1m0 0h1m3 0h1m2 0h1m-27 1h1m5 0h1m2 0h1m1 0h1m0 0h1m1 0h1m3 0h1m1 0h1m3 0h1m-26 1h1m5 0h1m5 0h1m2 0h1m3 0h1m-23 1h1m8 0h1m0 0h1m6 0h1m4 0h1m0 0h1m10 0h1m-33 1h1m0 0h1m2 0h1m19 0h1m-25 1h1m0 0h1m1 0h1m0 0h1m2 0h1m3 0h1m3 0h1m1 0h1m1 0h1m-20 1h1m0 0h1m4 0h1m47 1h1m-62 1h1m7 0h1m9 1h1" stroke="rgb(240,48,28)" stroke-opacity="0.83" stroke-width="1" fill="none"/>
<path d="M568 85.5h1m0 2h1m-7 2h1m-1 2h1m-6 1h1m5 2h1m-3 1h1m-4 2h1m5 0h1m2 0h1m-12 1h1m2 2h1m6 1h1m-8 1h1m4 0h1m-6 4h1m-2 4h1m-12 43h1m-16 1h1m16 0h1m-44 2h1m-2 1h1m4 1h1m0 0h1m-9 1h1m4 0h1m2 0h1m8 0h1m-28 1h1m3 0h1m6 0h1m2 0h1m0 0h1m0 0h1m0 0h1m2 0h1m-23 1h1m5 0h1m1 0h1m9 0h1m0 0h1m1 0h1m6 0h1m0 0h1m-30 1h1m0 0h1m2 0h1m0 0h1m0 0h1m0 0h1m0 0h1m6 0h1m2 0h1m1 0h1m1 0h1m0 0h1m8 0h1m11 0h1m9 0h1m-51 1h1m0 0h1m0 0h1m0 0h1m1 0h1m0 0h1m0 0h1m1 0h1m0 0h1m0 0h1m2 0h1m0 0h1m0 0h1m1 0h1m0 0h1m1 0h1m11 0h1m-41 1h1m1 0h1m0 0h1m0 0h1m0 0h1m1 0h1m0 0h1m1 0h1m0 0h1m0 0h1m0 0h1m3 0h1m2 0h1m4 0h1m7 0h1m-38 1h1m7 0h1m0 0h1m1 0h1m0 0h1m0 0h1m0 0h1m0 0h1m0 0h1m0 0h1m0 0h1m2 0h1m0 0h1m2 0h1m0 0h1m0 0h1m0 0h1m4 0h1m4 0h1m-32 1h1m1 0h1m1 0h1m1 0h1m0 0h1m0 0h1m1 0h1m1 0h1m0 0h1m1 0h1m0 0h1m8 0h1m2 0h1m3 0h1m-29 1h1m0 0h1m2 0h1m0 0h1m0 0h1m0 0h1m0 0h1m1 0h1m1 0h1m0 0h1m0 0h1m0 0h1m2 0h1m3 0h1m-32 1h1m0 0h1m1 0h1m1 0h1m0 0h1m0 0h1m2 0h1m1 0h1m0 0h1m0 0h1m0 0h1m0 0h1m1 0h1m4 0h1m1 0h1m0 0h1m1 0h1m5 0h1m0 0h1m-34 1h1m0 0h1m0 0h1m1 0h1m2 0h1m2 0h1m0 0h1m1 0h1m0 0h1m0 0h1m1 0h1m0 0h1m0 0h1m0 0h1m0 0h1m0 0h1m0 0h1m2 0h1m1 0h1m1 0h1m0 0h1m9 0h1m-41 1h1m2 0h1m0 0h1m1 0h1m0 0h1m3 0h1m0 0h1m0 0h1m0 0h1m2 0h1m1 0h1m2 0h1m7 0h1m-40 1h1m5 0h1m3 0h1m2 0h1m0 0h1m0 0h1m0 0h1m0 0h1m0 0h1m0 0h1m1 0h1m0 0h1m3 0h1m0 0h1m1 0h1m1 0h1m11 0h1m-42 1h1m3 0h1m0 0h1m1 0h1m0 0h1m0 0h1m1 0h1m0 0h1m0 0h1m1 0h1m0 0h1m0 0h1m0 0h1m0 0h1m0 0h1m2 0h1m1 0h1m0 0h1m0 0h1m0 0h1m1 0h1m1 0h1m1 0h1m1 0h1m-31 1h1m0 0h1m0 0h1m4 0h1m0 0h1m0 0h1m0 0h1m0 0h1m0 0h1m1 0h1m1 0h1m0 0h1m2 0h1m1 0h1m5 0h1m-34 1h1m0 0h1m2 0h1m0 0h1m0 0h1m0 0h1m0 0h1m1 0h1m0 0h1m2 0h1m1 0h1m0 0h1m0 0h1m0 0h1m2 0h1m0 0h1m3 0h1m-29 1h1m4 0h1m0 0h1m0 0h1m0 0h1m4 0h1m0 0h1m1 0h1m0 0h1m0 0h1m0 0h1m3 0h1m1 0h1m2 0h1m-21 1h1m1 0h1m2 0h1m4 0h1m1 0h1m1 0h1m6 0h1m1 0h1m-27 1h1m4 0h1m1 0h1m0 0h1m2 0h1m2 0h1m8 0h1m-19 1h1m0 0h1m1 0h1m4 0h1m1 0h1m-18 1h1m3 0h1m2 0h1m2 0h1m4 0h1m-10 1h1m14 0h1m-16 2h1m2 0h1m2 0h1m1 1h1" stroke="rgb(240,48,28)" stroke-opacity="1.00" stroke-width="1" fill="none"/></g>
<line x1="541.57" y1="32.9" x2="541.57" y2="206" stroke="#f65858" stroke-width="1.6"/>
<line x1="454.3" y1="137.19" x2="643.4" y2="137.19" stroke="#f65858" stroke-width="1.6"/>
<circle cx="541.57" cy="68.17" r="3" fill="#f71212"/>
<circle cx="609.36" cy="137.19" r="3" fill="#f71212"/>
<circle cx="541.57" cy="137.19" r="2.6" fill="#fff" stroke="#f42a2a" stroke-width="1.2"/>
<rect x="454.3" y="32.9" width="189.1" height="173.1" fill="none" stroke="#6e6e6e" stroke-width="1"/>
<path d="M451.3 206H454.3M454.3 206V209M452.8 192.97H454.3M468.53 206V207.5M452.8 185.35H454.3M476.86 206V207.5M452.8 179.95H454.3M482.76 206V207.5M452.8 175.75H454.3M487.34 206V207.5M452.8 172.33H454.3M491.09 206V207.5M452.8 169.43H454.3M494.25 206V207.5M452.8 166.92H454.3M496.99 206V207.5M452.8 164.71H454.3M499.41 206V207.5M451.3 162.72H454.3M501.57 206V209M452.8 149.7H454.3M515.81 206V207.5M452.8 142.08H454.3M524.13 206V207.5M452.8 136.67H454.3M530.04 206V207.5M452.8 132.48H454.3M534.62 206V207.5M452.8 129.05H454.3M538.36 206V207.5M452.8 126.15H454.3M541.53 206V207.5M452.8 123.64H454.3M544.27 206V207.5M452.8 121.43H454.3M546.69 206V207.5M451.3 119.45H454.3M548.85 206V209M452.8 106.42H454.3M563.08 206V207.5M452.8 98.8H454.3M571.41 206V207.5M452.8 93.4H454.3M577.31 206V207.5M452.8 89.2H454.3M581.89 206V207.5M452.8 85.78H454.3M585.64 206V207.5M452.8 82.88H454.3M588.8 206V207.5M452.8 80.37H454.3M591.54 206V207.5M452.8 78.16H454.3M593.96 206V207.5M451.3 76.18H454.3M596.12 206V209M452.8 63.15H454.3M610.36 206V207.5M452.8 55.53H454.3M618.68 206V207.5M452.8 50.12H454.3M624.59 206V207.5M452.8 45.93H454.3M629.17 206V207.5M452.8 42.5H454.3M632.91 206V207.5M452.8 39.6H454.3M636.08 206V207.5M452.8 37.09H454.3M638.82 206V207.5M452.8 34.88H454.3M641.24 206V207.5M451.3 32.9H454.3M643.4 206V209" stroke="#555" stroke-width="0.9" fill="none"/>
<g font-size="6.5" fill="#333" stroke="#333" stroke-width="0.15"><text x="451.3" y="208.3" text-anchor="end">0</text><text x="454.3" y="214" text-anchor="middle">0</text><text x="451.3" y="165.03" text-anchor="end">1</text><text x="501.57" y="214" text-anchor="middle">1</text><text x="451.3" y="121.75" text-anchor="end">2</text><text x="548.85" y="214" text-anchor="middle">2</text><text x="451.3" y="78.48" text-anchor="end">3</text><text x="596.12" y="214" text-anchor="middle">3</text><text x="451.3" y="35.2" text-anchor="end">4</text><text x="643.4" y="214" text-anchor="middle">4</text></g>
<text x="548.85" y="31.7" text-anchor="middle" font-size="8.4" fill="#333" stroke="#333" stroke-width="0.18">APOPTOSIS PROFILE</text>
<text x="548.85" y="223" text-anchor="middle" font-size="8.3" fill="#333" stroke="#333" stroke-width="0.18">ANNEXIN V</text>
<text transform="translate(443 119.45) rotate(-90) scale(0.76 1)" text-anchor="middle" font-size="9.6" fill="#333" stroke="#333" stroke-width="0.2">VIABILITY</text>
<text x="454.3" y="222.3" font-size="6.4" fill="#666" stroke="#666" stroke-width="0.1">Live</text>
<text x="643.4" y="222.8" text-anchor="end" font-size="6.4" fill="#666" stroke="#666" stroke-width="0.1">Apoptotic</text>
<g font-size="7.9" fill="#333" stroke="#333" stroke-width="0.18"><text x="457.8" y="41.3">Dead</text><text x="457.8" y="49.9">1.05 %</text><text x="640.4" y="41.3" text-anchor="end">Late Apop./Dead</text><text x="640.4" y="49.9" text-anchor="end">23.14 %</text><text x="457.8" y="195.5">69.33 %</text><text x="457.8" y="204">Live</text><text x="640.4" y="195.5" text-anchor="end">6.48 %</text><text x="640.4" y="204" text-anchor="end">Early Apop.</text></g>
<rect x="237.4" y="381.15" width="86.12" height="67.85" fill="#e8f3d1"/>
<g filter="url(#sb)"><path d="M363 299.5h1m4 1h1m11 3h1m-10 7h1m-5 1h1m12 1h1m-34 1h1m17 0h1m-21 1h1m21 1h1m-18 1h1m6 0h1m2 0h1m4 0h1m-11 1h1m2 0h1m2 0h1m0 0h1m8 0h1m-17 1h1m1 0h1m0 0h1m5 0h1m5 0h1m-18 1h1m7 0h1m8 0h1m9 0h1m-20 1h1m-17 1h1m11 0h1m0 0h1m0 0h1m0 0h1m-6 1h1m2 0h1m1 0h1m3 0h1m1 0h1m-29 1h1m10 0h1m3 0h1m0 0h1m0 0h1m0 0h1m0 0h1m-3 1h1m3 0h1m2 0h1m-17 1h1m2 0h1m7 0h1m6 0h1m0 0h1m0 0h1m2 0h1m-33 1h1m7 0h1m3 0h1m3 0h1m1 0h1m0 0h1m1 0h1m0 0h1m1 0h1m0 0h1m0 0h1m0 0h1m-27 1h1m5 0h1m13 0h1m1 0h1m0 0h1m4 0h1m-30 1h1m4 0h1m8 0h1m0 0h1m1 0h1m2 0h1m0 0h1m1 0h1m1 0h1m5 0h1m5 0h1m-31 1h1m0 0h1m0 0h1m2 0h1m2 0h1m0 0h1m7 0h1m1 0h1m2 0h1m-23 1h1m1 0h1m6 0h1m2 0h1m0 0h1m0 0h1m5 0h1m-26 1h1m3 0h1m8 0h1m3 0h1m2 0h1m0 0h1m18 0h1m-45 1h1m10 0h1m0 0h1m1 0h1m0 0h1m1 0h1m4 0h1m3 0h1m0 0h1m2 0h1m-34 1h1m9 0h1m3 0h1m1 0h1m1 0h1m3 0h1m0 0h1m0 0h1m0 0h1m1 0h1m0 0h1m4 0h1m-26 1h1m1 0h1m4 0h1m1 0h1m0 0h1m0 0h1m6 0h1m-25 1h1m3 0h1m3 0h1m0 0h1m1 0h1m1 0h1m7 0h1m4 0h1m4 0h1m6 0h1m-39 1h1m5 0h1m7 0h1m4 0h1m3 0h1m1 0h1m4 0h1m7 0h1m-43 1h1m2 0h1m0 0h1m1 0h1m3 0h1m1 0h1m0 0h1m8 0h1m4 0h1m1 0h1m6 0h1m-34 1h1m0 0h1m4 0h1m1 0h1m0 0h1m2 0h1m5 0h1m0 0h1m2 0h1m0 0h1m0 0h1m0 0h1m0 0h1m0 0h1m-28 1h1m0 0h1m0 0h1m7 0h1m1 0h1m1 0h1m1 0h1m0 0h1m0 0h1m3 0h1m1 0h1m1 0h1m10 0h1m-20 1h1m4 0h1m1 0h1m0 0h1m-23 1h1m4 0h1m0 0h1m1 0h1m5 0h1m0 0h1m1 0h1m1 0h1m0 0h1m3 0h1m6 0h1m-36 1h1m2 0h1m2 0h1m0 0h1m1 0h1m0 0h1m0 0h1m0 0h1m7 0h1m0 0h1m0 0h1m3 0h1m4 0h1m4 0h1m-39 1h1m5 0h1m0 0h1m1 0h1m5 0h1m1 0h1m3 0h1m4 0h1m1 0h1m5 0h1m4 0h1m-36 1h1m2 0h1m5 0h1m2 0h1m0 0h1m2 0h1m0 0h1m1 0h1m0 0h1m1 0h1m2 0h1m-24 1h1m1 0h1m0 0h1m6 0h1m5 0h1m1 0h1m-21 1h1m2 0h1m2 0h1m0 0h1m7 0h1m0 0h1m6 0h1m6 0h1m-24 1h1m4 0h1m0 0h1m1 0h1m3 0h1m-26 1h1m12 0h1m0 0h1m1 0h1m0 0h1m1 0h1m0 0h1m0 0h1m3 0h1m4 0h1m2 0h1m-46 1h1m25 0h1m0 0h1m0 0h1m0 0h1m4 0h1m6 0h1m6 0h1m-38 1h1m11 0h1m1 0h1m2 0h1m1 0h1m-12 1h1m1 0h1m0 0h1m2 0h1m0 0h1m0 0h1m9 0h1m5 0h1m-64 1h1m43 0h1m5 0h1m3 0h1m0 0h1m1 0h1m0 0h1m2 0h1m-25 1h1m0 0h1m1 0h1m8 0h1m0 0h1m-17 1h1m5 0h1m8 0h1m3 0h1m5 0h1m3 0h1m1 0h1m-39 1h1m6 0h1m8 0h1m0 0h1m0 0h1m1 0h1m0 0h1m0 0h1m2 0h1m0 0h1m19 0h1m-61 1h1m12 0h1m8 0h1m6 0h1m5 0h1m9 0h1m-55 1h1m22 0h1m8 0h1m2 0h1m0 0h1m1 0h1m1 0h1m6 0h1m1 0h1m5 0h1m-43 1h1m0 0h1m1 0h1m1 0h1m11 0h1m0 0h1m1 0h1m0 0h1m5 0h1m7 0h1m1 0h1m-21 1h1m1 0h1m3 0h1m6 0h1m0 0h1m4 0h1m0 0h1m0 0h1m-42 1h1m14 0h1m3 0h1m6 0h1m1 0h1m1 0h1m3 0h1m-22 1h1m3 0h1m6 0h1m5 0h1m1 0h1m7 0h1m-49 1h1m15 0h1m2 0h1m1 0h1m4 0h1m9 0h1m0 0h1m14 0h1m5 0h1m-62 1h1m4 0h1m7 0h1m18 0h1m3 0h1m0 0h1m11 0h1m-61 1h1m21 0h1m10 0h1m2 0h1m6 0h1m6 0h1m5 0h1m6 0h1m13 0h1m-62 1h1m1 0h1m1 0h1m2 0h1m17 0h1m4 0h1m-49 1h1m25 0h1m4 0h1m10 0h1m6 0h1m0 0h1m0 0h1m5 0h1m-43 1h1m2 0h1m10 0h1m22 0h1m6 0h1m-39 1h1m4 0h1m13 0h1m2 0h1m1 0h1m9 0h1m1 0h1m9 0h1m-57 1h1m4 0h1m16 0h1m3 0h1m1 0h1m2 0h1m-34 1h1m8 0h1m17 0h1m1 0h1m7 0h1m15 0h1m-33 1h1m1 0h1m11 0h1m-19 1h1m8 0h1m1 0h1m0 0h1m0 0h1m2 0h1m13 0h1m-48 1h1m3 0h1m2 0h1m5 0h1m6 0h1m3 0h1m9 0h1m2 0h1m-24 1h1m4 0h1m13 0h1m4 0h1m-21 1h1m11 0h1m3 0h1m9 0h1m0 0h1m-40 1h1m4 0h1m13 0h1m19 0h1m-57 1h1m17 0h1m1 0h1m4 0h1m23 0h1m-29 1h1m11 0h1m3 0h1m10 0h1m-18 1h1m14 0h1m4 0h1m10 0h1m-54 1h1m12 0h1m0 0h1m2 0h1m3 0h1m8 0h1m9 0h1m5 0h1m4 0h1m15 0h1m-49 1h1m7 0h1m10 0h1m-23 1h1m10 0h1m6 0h1m14 0h1m4 0h1m4 0h1m-44 1h1m8 0h1m16 0h1m1 0h1m2 0h1m2 0h1m-42 1h1m10 0h1m4 0h1m-32 1h1m35 0h1m28 0h1m-75 1h1m17 0h1m15 0h1m1 0h1m11 0h1m4 0h1m2 0h1m4 0h1m4 0h1m3 0h1m1 0h1m-82 1h1m20 0h1m8 0h1m5 0h1m6 0h1m0 0h1m3 0h1m7 0h1m7 0h1m4 0h1m0 0h1m-51 1h1m5 0h1m9 0h1m1 0h1m0 0h1m0 0h1m2 0h1m19 0h1m13 0h1m-62 1h1m4 0h1m10 0h1m3 0h1m8 0h1m4 0h1m0 0h1m9 0h1m3 0h1m5 0h1m2 0h1m16 0h1m-95 1h1m4 0h1m0 0h1m14 0h1m3 0h1m18 0h1m10 0h1m11 0h1m11 0h1m-56 1h1m1 0h1m1 0h1m9 0h1m10 0h1m18 0h1m10 0h1m-73 1h1m3 0h1m12 0h1m2 0h1m3 0h1m0 0h1m0 0h1m2 0h1m1 0h1m12 0h1m1 0h1m8 0h1m4 0h1m4 0h1m3 0h1m0 0h1m8 0h1m-69 1h1m0 0h1m5 0h1m1 0h1m27 0h1m5 0h1m3 0h1m0 0h1m10 0h1m10 0h1m2 0h1m-85 1h1m1 0h1m5 0h1m3 0h1m4 0h1m0 0h1m3 0h1m1 0h1m0 0h1m0 0h1m2 0h1m0 0h1m1 0h1m8 0h1m1 0h1m0 0h1m0 0h1m7 0h1m2 0h1m5 0h1m2 0h1m1 0h1m-66 1h1m1 0h1m8 0h1m8 0h1m1 0h1m3 0h1m8 0h1m1 0h1m2 0h1m6 0h1m7 0h1m0 0h1m1 0h1m1 0h1m-73 1h1m0 0h1m1 0h1m3 0h1m7 0h1m2 0h1m3 0h1m4 0h1m0 0h1m1 0h1m0 0h1m8 0h1m1 0h1m0 0h1m9 0h1m2 0h1m4 0h1m1 0h1m1 0h1m0 0h1m0 0h1m1 0h1m0 0h1m4 0h1m13 0h1m-81 1h1m3 0h1m0 0h1m1 0h1m1 0h1m1 0h1m0 0h1m20 0h1m2 0h1m3 0h1m2 0h1m13 0h1m4 0h1m7 0h1m-64 1h1m5 0h1m2 0h1m1 0h1m2 0h1m5 0h1m7 0h1m2 0h1m2 0h1m14 0h1m0 0h1m23 0h1m3 0h1m-103 1h1m6 0h1m4 0h1m9 0h1m0 0h1m2 0h1m1 0h1m2 0h1m0 0h1m4 0h1m3 0h1m1 0h1m2 0h1m1 0h1m4 0h1m6 0h1m4 0h1m1 0h1m5 0h1m3 0h1m1 0h1m0 0h1m6 0h1m-81 1h1m7 0h1m1 0h1m3 0h1m0 0h1m2 0h1m1 0h1m14 0h1m0 0h1m0 0h1m2 0h1m0 0h1m0 0h1m0 0h1m5 0h1m5 0h1m5 0h1m2 0h1m5 0h1m0 0h1m4 0h1m1 0h1m-87 1h1m4 0h1m2 0h1m2 0h1m7 0h1m5 0h1m4 0h1m0 0h1m4 0h1m2 0h1m4 0h1m5 0h1m0 0h1m0 0h1m5 0h1m0 0h1m0 0h1m5 0h1m2 0h1m4 0h1m2 0h1m7 0h1m1 0h1m2 0h1m3 0h1m-89 1h1m0 0h1m2 0h1m4 0h1m0 0h1m0 0h1m0 0h1m0 0h1m5 0h1m0 0h1m3 0h1m0 0h1m0 0h1m1 0h1m9 0h1m1 0h1m0 0h1m1 0h1m1 0h1m0 0h1m0 0h1m3 0h1m2 0h1m7 0h1m1 0h1m2 0h1m12 0h1m-81 1h1m9 0h1m0 0h1m1 0h1m2 0h1m1 0h1m1 0h1m1 0h1m9 0h1m3 0h1m1 0h1m0 0h1m0 0h1m1 0h1m0 0h1m0 0h1m0 0h1m2 0h1m0 0h1m4 0h1m0 0h1m4 0h1m9 0h1m5 0h1m4 0h1m-90 1h1m1 0h1m4 0h1m0 0h1m1 0h1m0 0h1m0 0h1m0 0h1m1 0h1m0 0h1m0 0h1m1 0h1m0 0h1m4 0h1m0 0h1m2 0h1m1 0h1m0 0h1m0 0h1m4 0h1m0 0h1m5 0h1m2 0h1m6 0h1m0 0h1m0 0h1m0 0h1m0 0h1m2 0h1m0 0h1m0 0h1m0 0h1m1 0h1m7 0h1m1 0h1m0 0h1m5 0h1m0 0h1m-86 1h1m0 0h1m9 0h1m1 0h1m0 0h1m1 0h1m0 0h1m11 0h1m0 0h1m1 0h1m2 0h1m2 0h1m0 0h1m2 0h1m7 0h1m0 0h1m0 0h1m0 0h1m1 0h1m15 0h1m1 0h1m0 0h1m8 0h1m4 0h1m2 0h1m-97 1h1m8 0h1m2 0h1m0 0h1m1 0h1m1 0h1m0 0h1m3 0h1m16 0h1m7 0h1m4 0h1m7 0h1m2 0h1m1 0h1m2 0h1m5 0h1m21 0h1m-93 1h1m1 0h1m2 0h1m0 0h1m2 0h1m1 0h1m1 0h1m0 0h1m1 0h1m12 0h1m17 0h1m3 0h1m1 0h1m1 0h1m2 0h1m2 0h1m0 0h1m6 0h1m7 0h1m13 0h1m-87 1h1m1 0h1m0 0h1m1 0h1m1 0h1m1 0h1m3 0h1m5 0h1m19 0h1m6 0h1m1 0h1m4 0h1m1 0h1m3 0h1m1 0h1m1 0h1m1 0h1m10 0h1m0 0h1m3 0h1m-81 1h1m1 0h1m1 0h1m4 0h1m1 0h1m18 0h1m8 0h1m2 0h1m2 0h1m2 0h1m3 0h1m5 0h1m0 0h1m0 0h1m6 0h1m4 0h1m11 0h1m-89 1h1m1 0h1m0 0h1m3 0h1m0 0h1m5 0h1m0 0h1m17 0h1m10 0h1m0 0h1m8 0h1m6 0h1m5 0h1m28 0h1m-105 1h1m10 0h1m0 0h1m0 0h1m4 0h1m0 0h1m1 0h1m32 0h1m5 0h1m3 0h1m2 0h1m3 0h1m1 0h1m4 0h1m13 0h1m3 0h1m15 0h1m-110 1h1m2 0h1m1 0h1m3 0h1m2 0h1m0 0h1m36 0h1m1 0h1m1 0h1m7 0h1m0 0h1m3 0h1m9 0h1m6 0h1m0 0h1m2 0h1m-93 1h1m9 0h1m1 0h1m1 0h1m2 0h1m31 0h1m0 0h1m5 0h1m1 0h1m2 0h1m2 0h1m4 0h1m7 0h1m18 0h1m-86 1h1m4 0h1m33 0h1m8 0h1m0 0h1m2 0h1m0 0h1m0 0h1m2 0h1m16 0h1m10 0h1m-93 1h1m4 0h1m1 0h1m0 0h1m0 0h1m5 0h1m2 0h1m25 0h1m4 0h1m3 0h1m0 0h1m0 0h1m5 0h1m0 0h1m3 0h1m4 0h1m-78 1h1m0 0h1m3 0h1m0 0h1m5 0h1m0 0h1m9 0h1m24 0h1m5 0h1m4 0h1m0 0h1m1 0h1m0 0h1m3 0h1m2 0h1m4 0h1m-76 1h1m7 0h1m1 0h1m3 0h1m4 0h1m0 0h1m0 0h1m29 0h1m5 0h1m0 0h1m3 0h1m1 0h1m0 0h1m6 0h1m-77 1h1m4 0h1m5 0h1m2 0h1m0 0h1m5 0h1m0 0h1m0 0h1m32 0h1m3 0h1m8 0h1m4 0h1m18 0h1m9 0h1m-95 1h1m3 0h1m0 0h1m0 0h1m2 0h1m0 0h1m0 0h1m0 0h1m31 0h1m2 0h1m0 0h1m2 0h1m0 0h1m1 0h1m4 0h1m0 0h1m2 0h1m-68 1h1m10 0h1m0 0h1m2 0h1m1 0h1m22 0h1m4 0h1m1 0h1m0 0h1m7 0h1m0 0h1m2 0h1m4 0h1m-61 1h1m2 0h1m3 0h1m3 0h1m29 0h1m3 0h1m1 0h1m1 0h1m1 0h1m10 0h1m6 0h1m-68 1h1m6 0h1m2 0h1m3 0h1m19 0h1m2 0h1m0 0h1m1 0h1m0 0h1m2 0h1m0 0h1m4 0h1m0 0h1m3 0h1m3 0h1m3 0h1m3 0h1m0 0h1m2 0h1m0 0h1m-72 1h1m0 0h1m4 0h1m1 0h1m0 0h1m0 0h1m5 0h1m7 0h1m5 0h1m5 0h1m1 0h1m2 0h1m1 0h1m1 0h1m1 0h1m12 0h1m-73 1h1m11 0h1m1 0h1m0 0h1m0 0h1m2 0h1m15 0h1m1 0h1m5 0h1m0 0h1m0 0h1m0 0h1m6 0h1m1 0h1m2 0h1m0 0h1m3 0h1m5 0h1m-66 1h1m3 0h1m6 0h1m1 0h1m1 0h1m0 0h1m7 0h1m0 0h1m2 0h1m2 0h1m7 0h1m0 0h1m0 0h1m2 0h1m0 0h1m7 0h1m1 0h1m6 0h1m1 0h1m0 0h1m-58 1h1m0 0h1m4 0h1m2 0h1m1 0h1m14 0h1m2 0h1m1 0h1m0 0h1m6 0h1m0 0h1m33 0h1m-75 1h1m1 0h1m0 0h1m1 0h1m1 0h1m1 0h1m0 0h1m0 0h1m1 0h1m3 0h1m6 0h1m2 0h1m0 0h1m10 0h1m1 0h1m1 0h1m1 0h1m5 0h1m8 0h1m-68 1h1m2 0h1m5 0h1m1 0h1m0 0h1m4 0h1m1 0h1m2 0h1m3 0h1m2 0h1m2 0h1m0 0h1m1 0h1m0 0h1m0 0h1m1 0h1m2 0h1m0 0h1m2 0h1m3 0h1m-37 1h1m0 0h1m0 0h1m7 0h1m0 0h1m4 0h1m0 0h1m3 0h1m0 0h1m2 0h1m1 0h1m7 0h1m1 0h1m16 0h1m-54 1h1m3 0h1m7 0h1m8 0h1m0 0h1m8 0h1m3 0h1m16 0h1m-62 1h1m0 0h1m1 0h1m6 0h1m0 0h1m0 0h1m1 0h1m6 0h1m0 0h1m0 0h1m0 0h1m1 0h1m2 0h1m1 0h1m1 0h1m1 0h1m8 0h1m-49 1h1m9 0h1m0 0h1m5 0h1m0 0h1m3 0h1m3 0h1m0 0h1m6 0h1m0 0h1m2 0h1m11 0h1m8 0h1m-66 1h1m8 0h1m9 0h1m9 0h1m6 0h1m4 0h1m5 0h1m10 0h1m-56 1h1m17 0h1m0 0h1m0 0h1m2 0h1m1 0h1m3 0h1m3 0h1m5 0h1m2 0h1m-27 1h1m14 0h1m0 0h1m0 0h1m11 0h1m-31 1h1m28 0h1m-31 1h1m5 0h1m5 0h1m0 1h1m-16 1h1m25 0h1m5 0h1m-15 1h1m4 0h1m0 0h1m-14 7h1" stroke="rgb(240,48,28)" stroke-opacity="0.50" stroke-width="1" fill="none"/>
<path d="M352 322.5h1m3 0h1m2 0h1m1 0h1m-4 1h1m5 1h1m-7 1h1m-4 2h1m0 0h1m-4 1h1m7 0h1m-7 1h1m0 0h1m0 0h1m1 0h1m-12 1h1m-2 1h1m0 0h1m4 0h1m0 0h1m8 0h1m-11 1h1m0 0h1m1 0h1m1 0h1m-10 1h1m8 0h1m-18 1h1m3 0h1m0 0h1m5 0h1m3 0h1m-6 1h1m2 0h1m2 0h1m-13 1h1m3 0h1m0 0h1m3 0h1m8 0h1m-18 1h1m0 0h1m0 0h1m4 0h1m4 0h1m-15 1h1m2 0h1m0 0h1m4 0h1m-10 2h1m0 0h1m2 0h1m3 0h1m0 0h1m-10 1h1m2 0h1m0 0h1m4 0h1m-8 1h1m2 0h1m7 0h1m-14 1h1m0 0h1m1 0h1m1 0h1m-10 1h1m-6 1h1m8 0h1m-5 1h1m4 0h1m1 0h1m-10 1h1m7 0h1m-15 1h1m4 0h1m0 0h1m6 3h1m0 0h1m-8 1h1m3 0h1m-4 1h1m11 1h1m-10 1h1m-14 3h1m14 0h1m-13 3h1m2 0h1m5 0h1m-15 10h1m-9 3h1m-11 10h1m15 0h1m13 0h1m-14 5h1m-20 1h1m6 0h1m-10 2h1m1 0h1m-13 1h1m32 0h1m-41 1h1m-2 1h1m3 0h1m12 0h1m9 0h1m-42 1h1m2 0h1m12 0h1m19 0h1m-30 1h1m5 0h1m4 0h1m18 0h1m-37 1h1m0 0h1m7 0h1m0 0h1m1 0h1m0 0h1m14 0h1m-32 1h1m2 0h1m5 0h1m12 0h1m5 0h1m13 0h1m-35 1h1m1 0h1m2 0h1m2 0h1m19 0h1m10 0h1m9 0h1m-59 1h1m1 0h1m3 0h1m0 0h1m3 0h1m0 0h1m6 0h1m4 0h1m1 0h1m0 0h1m31 0h1m-56 1h1m6 0h1m5 0h1m5 0h1m0 0h1m7 0h1m1 0h1m26 0h1m-67 1h1m1 0h1m11 0h1m4 0h1m0 0h1m0 0h1m2 0h1m1 0h1m1 0h1m18 0h1m6 0h1m-54 1h1m6 0h1m0 0h1m0 0h1m0 0h1m2 0h1m2 0h1m12 0h1m0 0h1m1 0h1m27 0h1m16 0h1m-80 1h1m2 0h1m3 0h1m3 0h1m1 0h1m5 0h1m8 0h1m0 0h1m2 0h1m9 0h1m3 0h1m1 0h1m0 0h1m-51 1h1m10 0h1m2 0h1m3 0h1m7 0h1m0 0h1m5 0h1m4 0h1m1 0h1m4 0h1m-60 1h1m16 0h1m1 0h1m4 0h1m0 0h1m6 0h1m1 0h1m10 0h1m0 0h1m1 0h1m5 0h1m6 0h1m36 0h1m-99 1h1m12 0h1m5 0h1m1 0h1m6 0h1m15 0h1m3 0h1m1 0h1m0 0h1m9 0h1m14 0h1m-66 1h1m1 0h1m1 0h1m0 0h1m25 0h1m1 0h1m3 0h1m2 0h1m2 0h1m0 0h1m1 0h1m0 0h1m0 0h1m-55 1h1m4 0h1m2 0h1m0 0h1m0 0h1m1 0h1m23 0h1m3 0h1m4 0h1m0 0h1m1 0h1m1 0h1m1 0h1m1 0h1m0 0h1m1 0h1m0 0h1m-61 1h1m6 0h1m7 0h1m1 0h1m25 0h1m6 0h1m1 0h1m2 0h1m2 0h1m0 0h1m-50 1h1m0 0h1m9 0h1m15 0h1m4 0h1m0 0h1m3 0h1m4 0h1m1 0h1m9 0h1m-68 1h1m0 0h1m2 0h1m14 0h1m9 0h1m1 0h1m15 0h1m1 0h1m8 0h1m-52 1h1m4 0h1m1 0h1m0 0h1m2 0h1m17 0h1m15 0h1m11 0h1m0 0h1m-61 1h1m4 0h1m5 0h1m18 0h1m8 0h1m0 0h1m3 0h1m0 0h1m0 0h1m5 0h1m-58 1h1m3 0h1m4 0h1m0 0h1m1 0h1m1 0h1m2 0h1m0 0h1m26 0h1m3 0h1m0 0h1m-42 1h1m1 0h1m21 0h1m3 0h1m1 0h1m3 0h1m2 0h1m1 0h1m0 0h1m12 0h1m5 0h1m-64 1h1m3 0h1m4 0h1m7 0h1m19 0h1m7 0h1m0 0h1m2 0h1m-49 1h1m5 0h1m5 0h1m19 0h1m8 0h1m5 0h1m-47 1h1m5 0h1m13 0h1m7 0h1m2 0h1m4 0h1m-41 1h1m7 0h1m0 0h1m4 0h1m16 0h1m7 0h1m0 0h1m1 0h1m-44 1h1m0 0h1m2 0h1m7 0h1m12 0h1m5 0h1m6 0h1m8 0h1m4 0h1m6 0h1m-57 1h1m1 0h1m5 0h1m0 0h1m1 0h1m0 0h1m3 0h1m0 0h1m4 0h1m7 0h1m0 0h1m16 0h1m3 0h1m-48 1h1m0 0h1m0 0h1m0 0h1m2 0h1m0 0h1m0 0h1m9 0h1m8 0h1m0 0h1m0 0h1m-36 1h1m9 0h1m13 0h1m1 0h1m0 0h1m0 0h1m3 0h1m9 0h1m-47 1h1m14 0h1m3 0h1m0 0h1m0 0h1m1 0h1m3 0h1m2 0h1m5 0h1m0 0h1m-30 1h1m1 0h1m3 0h1m2 0h1m3 0h1m0 0h1m0 0h1m0 0h1m6 0h1m0 0h1m4 0h1m1 0h1m-24 1h1m1 0h1m3 0h1m3 0h1m15 0h1m0 0h1m-32 1h1m2 0h1m6 0h1m5 0h1m0 0h1m2 0h1m-25 1h1m3 0h1m0 0h1m5 0h1m0 0h1m5 0h1m0 0h1m0 0h1m-9 1h1m-10 1h1m1 0h1m14 0h1m-14 1h1m1 0h1m18 2h1" stroke="rgb(240,48,28)" stroke-opacity="0.67" stroke-width="1" fill="none"/>
<path d="M348 327.5h1m5 3h1m-5 1h1m0 0h1m2 3h1m-11 1h1m5 0h1m-8 1h1m2 0h1m0 0h1m3 0h1m0 0h1m3 0h1m-12 1h1m0 1h1m-3 1h1m1 0h1m-1 1h1m2 0h1m10 0h1m-10 2h1m-9 1h1m-2 1h1m0 2h1m2 0h1m-3 1h1m4 2h1m-12 4h1m-32 22h1m-11 23h1m-18 1h1m17 0h1m-25 1h1m12 0h1m2 0h1m1 0h1m2 0h1m-17 1h1m9 0h1m13 0h1m-28 1h1m7 0h1m5 0h1m9 0h1m8 0h1m-35 1h1m2 0h1m12 0h1m-3 1h1m4 0h1m0 0h1m-22 1h1m0 0h1m3 0h1m6 0h1m2 0h1m8 0h1m2 0h1m0 0h1m-36 1h1m3 0h1m1 0h1m0 0h1m8 0h1m5 0h1m-20 1h1m7 0h1m0 0h1m9 0h1m0 0h1m3 0h1m2 0h1m3 0h1m15 0h1m-53 1h1m1 0h1m6 0h1m0 0h1m1 0h1m11 0h1m5 0h1m1 0h1m8 0h1m-43 1h1m3 0h1m1 0h1m3 0h1m0 0h1m3 0h1m6 0h1m8 0h1m0 0h1m-27 1h1m3 0h1m15 0h1m1 0h1m0 0h1m8 0h1m-42 1h1m9 0h1m20 0h1m4 0h1m-33 1h1m3 0h1m17 0h1m5 0h1m0 0h1m2 0h1m-40 1h1m4 0h1m0 0h1m3 0h1m1 0h1m-11 1h1m2 0h1m5 0h1m0 0h1m7 0h1m0 0h1m2 0h1m13 0h1m1 0h1m1 0h1m10 0h1m-51 1h1m0 0h1m0 0h1m1 0h1m14 0h1m3 0h1m5 0h1m1 0h1m-35 1h1m2 0h1m11 0h1m7 0h1m8 0h1m2 0h1m0 0h1m-39 1h1m1 0h1m16 0h1m2 0h1m0 0h1m2 0h1m5 0h1m2 0h1m0 0h1m-37 1h1m0 0h1m5 0h1m3 0h1m2 0h1m5 0h1m14 0h1m2 0h1m3 0h1m-36 1h1m7 0h1m2 0h1m6 0h1m0 0h1m4 0h1m1 0h1m1 0h1m1 0h1m0 0h1m-41 1h1m5 0h1m7 0h1m0 0h1m0 0h1m3 0h1m3 0h1m8 0h1m2 0h1m3 0h1m-41 1h1m0 0h1m10 0h1m4 0h1m0 0h1m4 0h1m0 0h1m3 0h1m2 0h1m1 0h1m1 0h1m-36 1h1m4 0h1m3 0h1m4 0h1m11 0h1m0 0h1m0 0h1m3 0h1m-17 1h1m8 0h1m0 0h1m6 0h1m3 0h1m-34 1h1m12 0h1m0 0h1m1 0h1m6 0h1m9 0h1m0 0h1m-41 1h1m3 0h1m8 0h1m13 0h1m14 0h1m-40 1h1m1 0h1m6 0h1m1 0h1m1 0h1m6 0h1m12 0h1m0 0h1m-24 1h1m3 0h1m6 0h1m0 0h1m-18 1h1m1 0h1m9 0h1m-17 1h1m9 0h1m-2 1h1m-5 3h1m0 2h1" stroke="rgb(240,48,28)" stroke-opacity="0.83" stroke-width="1" fill="none"/>
<path d="M355 334.5h1m-10 1h1m1 0h1m-5 1h1m10 0h1m-14 4h1m4 0h1m1 4h1m-64 55h1m4 1h1m-8 1h1m2 0h1m4 0h1m0 0h1m6 0h1m0 0h1m-25 1h1m0 0h1m0 0h1m12 0h1m0 0h1m-12 1h1m5 0h1m0 0h1m-9 1h1m5 0h1m2 0h1m2 0h1m-23 1h1m1 0h1m3 0h1m2 0h1m0 0h1m5 0h1m2 0h1m5 0h1m-29 1h1m0 0h1m2 0h1m3 0h1m0 0h1m1 0h1m0 0h1m0 0h1m2 0h1m0 0h1m0 0h1m1 0h1m3 0h1m0 0h1m0 0h1m1 0h1m-26 1h1m0 0h1m0 0h1m2 0h1m0 0h1m2 0h1m2 0h1m2 0h1m0 0h1m0 0h1m2 0h1m0 0h1m7 0h1m-33 1h1m3 0h1m0 0h1m5 0h1m0 0h1m0 0h1m0 0h1m0 0h1m0 0h1m0 0h1m0 0h1m0 0h1m0 0h1m1 0h1m0 0h1m0 0h1m0 0h1m5 0h1m-29 1h1m0 0h1m0 0h1m2 0h1m0 0h1m0 0h1m1 0h1m0 0h1m0 0h1m0 0h1m0 0h1m0 0h1m1 0h1m1 0h1m0 0h1m0 0h1m1 0h1m5 0h1m-29 1h1m0 0h1m0 0h1m1 0h1m0 0h1m0 0h1m0 0h1m0 0h1m0 0h1m0 0h1m0 0h1m0 0h1m0 0h1m0 0h1m0 0h1m1 0h1m0 0h1m4 0h1m2 0h1m-42 1h1m6 0h1m5 0h1m2 0h1m0 0h1m0 0h1m0 0h1m0 0h1m0 0h1m0 0h1m0 0h1m0 0h1m0 0h1m0 0h1m0 0h1m0 0h1m0 0h1m0 0h1m0 0h1m0 0h1m0 0h1m0 0h1m0 0h1m1 0h1m0 0h1m4 0h1m1 0h1m0 0h1m-37 1h1m0 0h1m0 0h1m1 0h1m0 0h1m0 0h1m0 0h1m1 0h1m0 0h1m0 0h1m0 0h1m1 0h1m0 0h1m0 0h1m0 0h1m0 0h1m0 0h1m0 0h1m1 0h1m0 0h1m1 0h1m0 0h1m5 0h1m-38 1h1m3 0h1m0 0h1m0 0h1m3 0h1m0 0h1m0 0h1m0 0h1m0 0h1m0 0h1m0 0h1m0 0h1m1 0h1m1 0h1m0 0h1m0 0h1m0 0h1m0 0h1m0 0h1m0 0h1m0 0h1m0 0h1m0 0h1m0 0h1m0 0h1m2 0h1m3 0h1m-49 1h1m5 0h1m7 0h1m0 0h1m3 0h1m0 0h1m0 0h1m0 0h1m0 0h1m0 0h1m0 0h1m2 0h1m0 0h1m1 0h1m0 0h1m0 0h1m1 0h1m0 0h1m0 0h1m0 0h1m0 0h1m0 0h1m0 0h1m0 0h1m-36 1h1m8 0h1m0 0h1m0 0h1m0 0h1m0 0h1m0 0h1m0 0h1m0 0h1m0 0h1m0 0h1m0 0h1m0 0h1m1 0h1m0 0h1m0 0h1m2 0h1m0 0h1m0 0h1m0 0h1m1 0h1m5 0h1m-35 1h1m1 0h1m3 0h1m0 0h1m0 0h1m0 0h1m1 0h1m0 0h1m0 0h1m0 0h1m0 0h1m0 0h1m0 0h1m1 0h1m0 0h1m0 0h1m0 0h1m0 0h1m0 0h1m0 0h1m0 0h1m2 0h1m5 0h1m-39 1h1m4 0h1m0 0h1m0 0h1m0 0h1m0 0h1m0 0h1m0 0h1m0 0h1m0 0h1m0 0h1m1 0h1m0 0h1m2 0h1m0 0h1m2 0h1m0 0h1m0 0h1m-22 1h1m0 0h1m1 0h1m0 0h1m1 0h1m1 0h1m0 0h1m0 0h1m1 0h1m0 0h1m0 0h1m0 0h1m0 0h1m0 0h1m0 0h1m0 0h1m0 0h1m0 0h1m0 0h1m0 0h1m0 0h1m0 0h1m2 0h1m-39 1h1m5 0h1m2 0h1m0 0h1m0 0h1m0 0h1m1 0h1m0 0h1m1 0h1m0 0h1m1 0h1m0 0h1m0 0h1m0 0h1m0 0h1m0 0h1m2 0h1m0 0h1m0 0h1m0 0h1m3 0h1m-29 1h1m1 0h1m0 0h1m0 0h1m0 0h1m3 0h1m0 0h1m0 0h1m1 0h1m0 0h1m2 0h1m0 0h1m0 0h1m0 0h1m0 0h1m2 0h1m-29 1h1m4 0h1m0 0h1m0 0h1m2 0h1m0 0h1m0 0h1m2 0h1m0 0h1m0 0h1m0 0h1m2 0h1m0 0h1m0 0h1m1 0h1m2 0h1m1 0h1m-29 1h1m5 0h1m0 0h1m2 0h1m0 0h1m0 0h1m0 0h1m1 0h1m0 0h1m1 0h1m0 0h1m4 0h1m2 0h1m-23 1h1m3 0h1m3 0h1m0 0h1m0 0h1m2 0h1m2 0h1m1 0h1m-20 1h1m0 0h1m3 0h1m0 0h1m5 0h1m2 0h1m0 0h1m1 0h1m-17 1h1m0 0h1m2 0h1m0 0h1m1 0h1m0 0h1m1 0h1m-18 1h1m7 0h1m6 0h1m1 0h1m2 0h1m2 0h1m-15 1h1m16 0h1" stroke="rgb(240,48,28)" stroke-opacity="1.00" stroke-width="1" fill="none"/></g>
<line x1="323.52" y1="278.3" x2="323.52" y2="449" stroke="#f65858" stroke-width="1.6"/>
<line x1="237.4" y1="381.15" x2="424" y2="381.15" stroke="#f65858" stroke-width="1.6"/>
<circle cx="323.52" cy="313.08" r="3" fill="#f71212"/>
<circle cx="390.41" cy="381.15" r="3" fill="#f71212"/>
<circle cx="323.52" cy="381.15" r="2.6" fill="#fff" stroke="#f42a2a" stroke-width="1.2"/>
<rect x="237.4" y="278.3" width="186.6" height="170.7" fill="none" stroke="#6e6e6e" stroke-width="1"/>
<path d="M234.4 449H237.4M237.4 449V452M235.9 436.15H237.4M251.44 449V450.5M235.9 428.64H237.4M259.66 449V450.5M235.9 423.31H237.4M265.49 449V450.5M235.9 419.17H237.4M270.01 449V450.5M235.9 415.79H237.4M273.7 449V450.5M235.9 412.94H237.4M276.82 449V450.5M235.9 410.46H237.4M279.53 449V450.5M235.9 408.28H237.4M281.92 449V450.5M234.4 406.32H237.4M284.05 449V452M235.9 393.48H237.4M298.09 449V450.5M235.9 385.96H237.4M306.31 449V450.5M235.9 380.63H237.4M312.14 449V450.5M235.9 376.5H237.4M316.66 449V450.5M235.9 373.12H237.4M320.35 449V450.5M235.9 370.26H237.4M323.47 449V450.5M235.9 367.79H237.4M326.18 449V450.5M235.9 365.6H237.4M328.57 449V450.5M234.4 363.65H237.4M330.7 449V452M235.9 350.8H237.4M344.74 449V450.5M235.9 343.29H237.4M352.96 449V450.5M235.9 337.96H237.4M358.79 449V450.5M235.9 333.82H237.4M363.31 449V450.5M235.9 330.44H237.4M367 449V450.5M235.9 327.59H237.4M370.12 449V450.5M235.9 325.11H237.4M372.83 449V450.5M235.9 322.93H237.4M375.22 449V450.5M234.4 320.98H237.4M377.35 449V452M235.9 308.13H237.4M391.39 449V450.5M235.9 300.61H237.4M399.61 449V450.5M235.9 295.28H237.4M405.44 449V450.5M235.9 291.15H237.4M409.96 449V450.5M235.9 287.77H237.4M413.65 449V450.5M235.9 284.91H237.4M416.77 449V450.5M235.9 282.44H237.4M419.48 449V450.5M235.9 280.25H237.4M421.87 449V450.5M234.4 278.3H237.4M424 449V452" stroke="#555" stroke-width="0.9" fill="none"/>
<g font-size="6.5" fill="#333" stroke="#333" stroke-width="0.15"><text x="234.4" y="451.3" text-anchor="end">0</text><text x="237.4" y="457" text-anchor="middle">0</text><text x="234.4" y="408.62" text-anchor="end">1</text><text x="284.05" y="457" text-anchor="middle">1</text><text x="234.4" y="365.95" text-anchor="end">2</text><text x="330.7" y="457" text-anchor="middle">2</text><text x="234.4" y="323.28" text-anchor="end">3</text><text x="377.35" y="457" text-anchor="middle">3</text><text x="234.4" y="280.6" text-anchor="end">4</text><text x="424" y="457" text-anchor="middle">4</text></g>
<text x="330.7" y="277.1" text-anchor="middle" font-size="8.4" fill="#333" stroke="#333" stroke-width="0.18">APOPTOSIS PROFILE</text>
<text x="330.7" y="466" text-anchor="middle" font-size="8.3" fill="#333" stroke="#333" stroke-width="0.18">ANNEXIN V</text>
<text transform="translate(226.1 363.65) rotate(-90) scale(0.76 1)" text-anchor="middle" font-size="9.6" fill="#333" stroke="#333" stroke-width="0.2">VIABILITY</text>
<text x="237.4" y="465.3" font-size="6.4" fill="#666" stroke="#666" stroke-width="0.1">Live</text>
<text x="424" y="465.8" text-anchor="end" font-size="6.4" fill="#666" stroke="#666" stroke-width="0.1">Apoptotic</text>
<g font-size="7.9" fill="#333" stroke="#333" stroke-width="0.18"><text x="240.9" y="286.7">Dead</text><text x="240.9" y="295.3">1.38 %</text><text x="421" y="286.7" text-anchor="end">Late Apop./Dead</text><text x="421" y="295.3" text-anchor="end">13.87 %</text><text x="240.9" y="438.5">81.83 %</text><text x="240.9" y="447">Live</text><text x="421" y="438.5" text-anchor="end">2.92 %</text><text x="421" y="447" text-anchor="end">Early Apop.</text></g>
<rect x="453.6" y="380.15" width="88.33" height="68.45" fill="#e8f3d1"/>
<g filter="url(#sb)"><path d="M592 279.5h1m-7 6h1m18 0h1m-6 4h1m-10 2h1m5 0h1m3 2h1m-24 5h1m13 1h1m-18 1h1m21 0h1m16 0h1m-54 1h1m10 0h1m4 0h1m0 0h1m0 0h1m8 1h1m1 0h1m1 0h1m-23 1h1m5 0h1m-9 1h1m9 0h1m0 0h1m-12 1h1m14 0h1m4 0h1m-14 1h1m5 0h1m6 0h1m3 0h1m-18 1h1m11 0h1m1 0h1m0 0h1m-16 1h1m0 0h1m9 0h1m5 0h1m9 0h1m-35 1h1m-2 1h1m12 0h1m3 0h1m1 0h1m9 0h1m-33 1h1m14 0h1m0 1h1m2 0h1m-2 1h1m0 0h1m4 0h1m-20 1h1m7 0h1m17 0h1m-30 1h1m6 0h1m15 0h1m2 0h1m0 0h1m-26 1h1m10 0h1m2 0h1m1 0h1m5 0h1m1 0h1m-32 1h1m8 0h1m0 0h1m5 0h1m4 0h1m2 0h1m1 0h1m14 0h1m-38 1h1m3 0h1m4 0h1m1 0h1m0 0h1m2 0h1m3 0h1m2 0h1m1 0h1m-35 1h1m4 0h1m15 0h1m6 0h1m0 0h1m0 0h1m20 0h1m-48 1h1m2 0h1m1 0h1m4 0h1m1 0h1m2 0h1m2 0h1m2 0h1m1 0h1m4 0h1m3 0h1m-37 1h1m6 0h1m1 0h1m0 0h1m2 0h1m0 0h1m4 0h1m2 0h1m1 0h1m0 0h1m0 0h1m1 0h1m0 0h1m0 0h1m2 0h1m-36 1h1m13 0h1m2 0h1m3 0h1m0 0h1m2 0h1m0 0h1m8 0h1m-19 1h1m2 0h1m0 0h1m0 0h1m0 0h1m4 0h1m0 0h1m1 0h1m0 0h1m3 0h1m1 0h1m-37 1h1m4 0h1m7 0h1m0 0h1m4 0h1m0 0h1m0 0h1m1 0h1m1 0h1m0 0h1m-21 1h1m7 0h1m6 0h1m2 0h1m2 0h1m0 0h1m9 0h1m-28 1h1m0 0h1m2 0h1m2 0h1m0 0h1m2 0h1m0 0h1m2 0h1m1 0h1m0 0h1m11 0h1m3 0h1m-46 1h1m11 0h1m1 0h1m3 0h1m2 0h1m3 0h1m0 0h1m0 0h1m14 0h1m-48 1h1m0 0h1m10 0h1m6 0h1m0 0h1m1 0h1m7 0h1m3 0h1m7 0h1m2 0h1m0 0h1m-45 1h1m3 0h1m7 0h1m4 0h1m1 0h1m1 0h1m3 0h1m4 0h1m0 0h1m1 0h1m2 0h1m-37 1h1m4 0h1m3 0h1m1 0h1m1 0h1m1 0h1m1 0h1m7 0h1m1 0h1m1 0h1m0 0h1m0 0h1m4 0h1m1 0h1m-33 1h1m0 0h1m0 0h1m0 0h1m0 0h1m12 0h1m0 0h1m2 0h1m3 0h1m1 0h1m1 0h1m2 0h1m2 0h1m-48 1h1m10 0h1m9 0h1m6 0h1m2 0h1m0 0h1m1 0h1m0 0h1m0 0h1m0 0h1m4 0h1m-30 1h1m2 0h1m2 0h1m1 0h1m7 0h1m2 0h1m5 0h1m4 0h1m-37 1h1m5 0h1m3 0h1m1 0h1m3 0h1m0 0h1m0 0h1m2 0h1m3 0h1m3 0h1m2 0h1m5 0h1m-35 1h1m4 0h1m0 0h1m11 0h1m4 0h1m-27 1h1m0 0h1m3 0h1m2 0h1m3 0h1m11 0h1m0 0h1m3 0h1m0 0h1m0 0h1m-32 1h1m0 0h1m1 0h1m1 0h1m2 0h1m2 0h1m2 0h1m2 0h1m2 0h1m3 0h1m-29 1h1m1 0h1m3 0h1m1 0h1m0 0h1m0 0h1m2 0h1m4 0h1m3 0h1m0 0h1m4 0h1m9 0h1m-33 1h1m4 0h1m2 0h1m1 0h1m2 0h1m3 0h1m1 0h1m1 0h1m1 0h1m0 0h1m7 0h1m-40 1h1m27 0h1m0 0h1m1 0h1m1 0h1m5 0h1m-36 1h1m1 0h1m1 0h1m2 0h1m5 0h1m8 0h1m1 0h1m1 0h1m0 0h1m5 0h1m-36 1h1m1 0h1m2 0h1m2 0h1m0 0h1m0 0h1m0 0h1m0 0h1m2 0h1m0 0h1m3 0h1m3 0h1m0 0h1m2 0h1m3 0h1m0 0h1m0 0h1m-42 1h1m7 0h1m0 0h1m10 0h1m1 0h1m0 0h1m2 0h1m7 0h1m0 0h1m1 0h1m2 0h1m-31 1h1m8 0h1m6 0h1m3 0h1m0 0h1m0 0h1m0 0h1m0 0h1m2 0h1m3 0h1m15 0h1m-55 1h1m10 0h1m5 0h1m3 0h1m4 0h1m0 0h1m4 0h1m4 0h1m3 0h1m4 0h1m-49 1h1m5 0h1m3 0h1m0 0h1m7 0h1m2 0h1m3 0h1m1 0h1m3 0h1m1 0h1m0 0h1m2 0h1m0 0h1m-36 1h1m2 0h1m6 0h1m13 0h1m3 0h1m-59 1h1m29 0h1m3 0h1m0 0h1m13 0h1m1 0h1m0 0h1m0 0h1m1 0h1m1 0h1m0 0h1m1 0h1m0 0h1m6 0h1m0 0h1m8 0h1m0 0h1m-83 1h1m33 0h1m3 0h1m1 0h1m3 0h1m0 0h1m0 0h1m1 0h1m1 0h1m3 0h1m1 0h1m7 0h1m2 0h1m-32 1h1m1 0h1m2 0h1m0 0h1m0 0h1m1 0h1m10 0h1m2 0h1m0 0h1m6 0h1m-64 1h1m29 0h1m5 0h1m2 0h1m4 0h1m1 0h1m2 0h1m3 0h1m3 0h1m0 0h1m1 0h1m-54 1h1m2 0h1m7 0h1m7 0h1m1 0h1m5 0h1m7 0h1m2 0h1m4 0h1m4 0h1m1 0h1m-45 1h1m9 0h1m1 0h1m0 0h1m9 0h1m0 0h1m0 0h1m0 0h1m3 0h1m1 0h1m4 0h1m0 0h1m2 0h1m3 0h1m3 0h1m0 0h1m-33 1h1m0 0h1m2 0h1m0 0h1m2 0h1m3 0h1m3 0h1m0 0h1m4 0h1m1 0h1m0 0h1m0 0h1m0 0h1m9 0h1m-43 1h1m3 0h1m0 0h1m2 0h1m2 0h1m1 0h1m0 0h1m0 0h1m1 0h1m2 0h1m1 0h1m2 0h1m3 0h1m8 0h1m-50 1h1m1 0h1m8 0h1m0 0h1m2 0h1m2 0h1m5 0h1m2 0h1m2 0h1m2 0h1m5 0h1m1 0h1m2 0h1m2 0h1m3 0h1m-83 1h1m20 0h1m16 0h1m5 0h1m7 0h1m1 0h1m1 0h1m1 0h1m4 0h1m0 0h1m1 0h1m3 0h1m2 0h1m4 0h1m2 0h1m2 0h1m-75 1h1m29 0h1m0 0h1m1 0h1m0 0h1m2 0h1m5 0h1m2 0h1m0 0h1m0 0h1m0 0h1m2 0h1m3 0h1m0 0h1m1 0h1m22 0h1m-79 1h1m1 0h1m1 0h1m12 0h1m7 0h1m1 0h1m7 0h1m0 0h1m5 0h1m2 0h1m0 0h1m4 0h1m1 0h1m0 0h1m1 0h1m0 0h1m1 0h1m-63 1h1m4 0h1m0 0h1m3 0h1m3 0h1m1 0h1m13 0h1m3 0h1m2 0h1m1 0h1m5 0h1m8 0h1m4 0h1m7 0h1m-61 1h1m4 0h1m2 0h1m4 0h1m13 0h1m6 0h1m2 0h1m5 0h1m1 0h1m0 0h1m3 0h1m3 0h1m2 0h1m0 0h1m-67 1h1m9 0h1m13 0h1m8 0h1m1 0h1m5 0h1m1 0h1m5 0h1m1 0h1m1 0h1m0 0h1m1 0h1m1 0h1m-58 1h1m3 0h1m10 0h1m9 0h1m4 0h1m2 0h1m0 0h1m3 0h1m4 0h1m1 0h1m0 0h1m4 0h1m3 0h1m7 0h1m1 0h1m4 0h1m-76 1h1m26 0h1m2 0h1m0 0h1m0 0h1m0 0h1m3 0h1m2 0h1m1 0h1m1 0h1m1 0h1m0 0h1m8 0h1m2 0h1m5 0h1m2 0h1m-64 1h1m4 0h1m16 0h1m3 0h1m4 0h1m10 0h1m2 0h1m5 0h1m8 0h1m2 0h1m-66 1h1m6 0h1m4 0h1m6 0h1m6 0h1m2 0h1m5 0h1m0 0h1m0 0h1m1 0h1m1 0h1m0 0h1m1 0h1m2 0h1m1 0h1m1 0h1m0 0h1m0 0h1m6 0h1m-73 1h1m7 0h1m0 0h1m13 0h1m10 0h1m6 0h1m4 0h1m2 0h1m3 0h1m0 0h1m4 0h1m1 0h1m1 0h1m0 0h1m4 0h1m4 0h1m3 0h1m10 0h1m-68 1h1m6 0h1m1 0h1m3 0h1m8 0h1m2 0h1m2 0h1m1 0h1m2 0h1m3 0h1m2 0h1m2 0h1m10 0h1m-55 1h1m2 0h1m3 0h1m5 0h1m0 0h1m2 0h1m8 0h1m7 0h1m8 0h1m5 0h1m-66 1h1m2 0h1m23 0h1m7 0h1m3 0h1m2 0h1m0 0h1m2 0h1m5 0h1m3 0h1m1 0h1m7 0h1m-59 1h1m3 0h1m18 0h1m0 0h1m5 0h1m1 0h1m3 0h1m3 0h1m3 0h1m3 0h1m3 0h1m1 0h1m3 0h1m-57 1h1m2 0h1m5 0h1m4 0h1m2 0h1m0 0h1m1 0h1m2 0h1m0 0h1m5 0h1m4 0h1m0 0h1m1 0h1m4 0h1m1 0h1m0 0h1m0 0h1m2 0h1m2 0h1m1 0h1m19 0h1m-74 1h1m1 0h1m6 0h1m5 0h1m3 0h1m1 0h1m6 0h1m1 0h1m0 0h1m0 0h1m0 0h1m0 0h1m2 0h1m4 0h1m0 0h1m2 0h1m-56 1h1m7 0h1m7 0h1m2 0h1m8 0h1m7 0h1m4 0h1m1 0h1m0 0h1m1 0h1m2 0h1m0 0h1m0 0h1m4 0h1m1 0h1m-59 1h1m13 0h1m7 0h1m1 0h1m2 0h1m1 0h1m3 0h1m0 0h1m2 0h1m1 0h1m2 0h1m4 0h1m2 0h1m0 0h1m0 0h1m3 0h1m0 0h1m2 0h1m-55 1h1m8 0h1m0 0h1m2 0h1m3 0h1m0 0h1m4 0h1m1 0h1m3 0h1m2 0h1m0 0h1m0 0h1m2 0h1m2 0h1m2 0h1m4 0h1m-40 1h1m4 0h1m0 0h1m2 0h1m2 0h1m0 0h1m0 0h1m2 0h1m0 0h1m2 0h1m6 0h1m1 0h1m1 0h1m2 0h1m0 0h1m0 0h1m1 0h1m3 0h1m2 0h1m-43 1h1m7 0h1m2 0h1m2 0h1m0 0h1m1 0h1m4 0h1m1 0h1m0 0h1m6 0h1m0 0h1m1 0h1m1 0h1m-59 1h1m18 0h1m2 0h1m0 0h1m4 0h1m0 0h1m3 0h1m0 0h1m3 0h1m2 0h1m0 0h1m0 0h1m2 0h1m3 0h1m0 0h1m2 0h1m0 0h1m-49 1h1m13 0h1m8 0h1m5 0h1m3 0h1m1 0h1m0 0h1m1 0h1m0 0h1m2 0h1m2 0h1m7 0h1m10 0h1m-55 1h1m11 0h1m3 0h1m14 0h1m0 0h1m7 0h1m2 0h1m2 0h1m7 0h1m-49 1h1m6 0h1m0 0h1m0 0h1m4 0h1m4 0h1m1 0h1m0 0h1m0 0h1m2 0h1m1 0h1m1 0h1m0 0h1m0 0h1m1 0h1m0 0h1m1 0h1m3 0h1m-56 1h1m4 0h1m11 0h1m0 0h1m4 0h1m1 0h1m1 0h1m3 0h1m5 0h1m2 0h1m21 0h1m-65 1h1m11 0h1m13 0h1m10 0h1m1 0h1m0 0h1m1 0h1m0 0h1m0 0h1m0 0h1m2 0h1m7 0h1m6 0h1m2 0h1m0 0h1m1 0h1m6 0h1m-69 1h1m8 0h1m10 0h1m8 0h1m0 0h1m0 0h1m0 0h1m1 0h1m1 0h1m3 0h1m2 0h1m5 0h1m0 0h1m1 0h1m4 0h1m-43 1h1m4 0h1m1 0h1m2 0h1m0 0h1m0 0h1m1 0h1m0 0h1m0 0h1m0 0h1m6 0h1m0 0h1m4 0h1m-38 1h1m4 0h1m3 0h1m4 0h1m0 0h1m3 0h1m0 0h1m1 0h1m1 0h1m1 0h1m2 0h1m0 0h1m0 0h1m2 0h1m2 0h1m-42 1h1m3 0h1m0 0h1m3 0h1m2 0h1m5 0h1m0 0h1m0 0h1m0 0h1m0 0h1m2 0h1m6 0h1m3 0h1m8 0h1m5 0h1m1 0h1m-54 1h1m3 0h1m3 0h1m9 0h1m0 0h1m1 0h1m3 0h1m1 0h1m2 0h1m1 0h1m1 0h1m6 0h1m3 0h1m1 0h1m0 0h1m-56 1h1m2 0h1m1 0h1m14 0h1m4 0h1m4 0h1m4 0h1m1 0h1m1 0h1m0 0h1m2 0h1m0 0h1m5 0h1m-75 1h1m23 0h1m5 0h1m11 0h1m1 0h1m1 0h1m4 0h1m2 0h1m7 0h1m2 0h1m0 0h1m0 0h1m1 0h1m0 0h1m1 0h1m6 0h1m-52 1h1m0 0h1m8 0h1m4 0h1m0 0h1m2 0h1m5 0h1m1 0h1m5 0h1m0 0h1m0 0h1m6 0h1m5 0h1m3 0h1m-68 1h1m1 0h1m6 0h1m1 0h1m0 0h1m1 0h1m1 0h1m0 0h1m2 0h1m1 0h1m3 0h1m8 0h1m0 0h1m0 0h1m0 0h1m3 0h1m1 0h1m0 0h1m2 0h1m2 0h1m0 0h1m0 0h1m3 0h1m4 0h1m13 0h1m-74 1h1m1 0h1m11 0h1m0 0h1m1 0h1m2 0h1m3 0h1m3 0h1m3 0h1m3 0h1m0 0h1m6 0h1m1 0h1m3 0h1m3 0h1m2 0h1m0 0h1m3 0h1m-62 1h1m10 0h1m1 0h1m6 0h1m1 0h1m0 0h1m0 0h1m2 0h1m2 0h1m0 0h1m6 0h1m1 0h1m0 0h1m1 0h1m0 0h1m0 0h1m1 0h1m0 0h1m0 0h1m5 0h1m0 0h1m4 0h1m3 0h1m-73 1h1m13 0h1m1 0h1m0 0h1m0 0h1m0 0h1m0 0h1m2 0h1m2 0h1m5 0h1m0 0h1m1 0h1m9 0h1m13 0h1m2 0h1m0 0h1m1 0h1m0 0h1m1 0h1m2 0h1m2 0h1m-74 1h1m4 0h1m7 0h1m1 0h1m10 0h1m3 0h1m0 0h1m0 0h1m1 0h1m2 0h1m1 0h1m0 0h1m0 0h1m0 0h1m5 0h1m0 0h1m4 0h1m1 0h1m0 0h1m2 0h1m1 0h1m1 0h1m1 0h1m-77 1h1m16 0h1m6 0h1m0 0h1m1 0h1m0 0h1m2 0h1m2 0h1m0 0h1m2 0h1m0 0h1m1 0h1m6 0h1m3 0h1m2 0h1m0 0h1m4 0h1m1 0h1m3 0h1m1 0h1m0 0h1m4 0h1m0 0h1m-83 1h1m6 0h1m13 0h1m0 0h1m4 0h1m4 0h1m0 0h1m1 0h1m9 0h1m0 0h1m2 0h1m6 0h1m4 0h1m9 0h1m1 0h1m2 0h1m3 0h1m4 0h1m-79 1h1m2 0h1m5 0h1m9 0h1m0 0h1m0 0h1m1 0h1m2 0h1m1 0h1m0 0h1m1 0h1m3 0h1m4 0h1m6 0h1m2 0h1m0 0h1m0 0h1m0 0h1m2 0h1m1 0h1m3 0h1m2 0h1m4 0h1m1 0h1m-79 1h1m0 0h1m1 0h1m4 0h1m0 0h1m2 0h1m0 0h1m1 0h1m2 0h1m2 0h1m1 0h1m5 0h1m8 0h1m0 0h1m0 0h1m3 0h1m0 0h1m3 0h1m5 0h1m3 0h1m0 0h1m0 0h1m3 0h1m4 0h1m1 0h1m3 0h1m0 0h1m-70 1h1m4 0h1m0 0h1m2 0h1m1 0h1m2 0h1m1 0h1m5 0h1m0 0h1m3 0h1m2 0h1m0 0h1m0 0h1m1 0h1m0 0h1m0 0h1m3 0h1m5 0h1m1 0h1m1 0h1m0 0h1m3 0h1m2 0h1m0 0h1m1 0h1m1 0h1m2 0h1m6 0h1m4 0h1m-86 1h1m13 0h1m0 0h1m2 0h1m1 0h1m12 0h1m1 0h1m1 0h1m0 0h1m2 0h1m0 0h1m4 0h1m2 0h1m4 0h1m0 0h1m0 0h1m0 0h1m0 0h1m4 0h1m3 0h1m3 0h1m5 0h1m4 0h1m-84 1h1m4 0h1m0 0h1m0 0h1m0 0h1m1 0h1m1 0h1m4 0h1m3 0h1m1 0h1m0 0h1m0 0h1m4 0h1m1 0h1m0 0h1m0 0h1m0 0h1m3 0h1m0 0h1m2 0h1m3 0h1m0 0h1m2 0h1m4 0h1m2 0h1m1 0h1m1 0h1m1 0h1m0 0h1m1 0h1m7 0h1m5 0h1m-84 1h1m0 0h1m3 0h1m2 0h1m3 0h1m1 0h1m0 0h1m2 0h1m0 0h1m2 0h1m0 0h1m1 0h1m3 0h1m1 0h1m1 0h1m1 0h1m2 0h1m0 0h1m4 0h1m0 0h1m0 0h1m1 0h1m1 0h1m0 0h1m1 0h1m2 0h1m1 0h1m2 0h1m1 0h1m0 0h1m2 0h1m1 0h1m2 0h1m6 0h1m2 0h1m-76 1h1m2 0h1m2 0h1m5 0h1m12 0h1m0 0h1m3 0h1m0 0h1m1 0h1m0 0h1m1 0h1m1 0h1m0 0h1m1 0h1m6 0h1m0 0h1m0 0h1m1 0h1m3 0h1m1 0h1m0 0h1m1 0h1m0 0h1m2 0h1m6 0h1m0 0h1m-84 1h1m1 0h1m0 0h1m2 0h1m2 0h1m13 0h1m0 0h1m8 0h1m4 0h1m0 0h1m4 0h1m1 0h1m1 0h1m1 0h1m1 0h1m0 0h1m0 0h1m1 0h1m1 0h1m1 0h1m0 0h1m11 0h1m0 0h1m0 0h1m3 0h1m1 0h1m-84 1h1m0 0h1m1 0h1m2 0h1m1 0h1m2 0h1m0 0h1m4 0h1m11 0h1m1 0h1m5 0h1m1 0h1m2 0h1m0 0h1m2 0h1m1 0h1m4 0h1m7 0h1m3 0h1m2 0h1m1 0h1m0 0h1m0 0h1m3 0h1m1 0h1m8 0h1m-88 1h1m3 0h1m1 0h1m4 0h1m0 0h1m3 0h1m2 0h1m3 0h1m10 0h1m0 0h1m4 0h1m2 0h1m1 0h1m1 0h1m1 0h1m2 0h1m0 0h1m0 0h1m0 0h1m0 0h1m7 0h1m6 0h1m0 0h1m4 0h1m1 0h1m11 0h1m-98 1h1m2 0h1m1 0h1m1 0h1m2 0h1m26 0h1m0 0h1m0 0h1m10 0h1m1 0h1m1 0h1m1 0h1m8 0h1m5 0h1m5 0h1m-78 1h1m3 0h1m4 0h1m1 0h1m1 0h1m1 0h1m0 0h1m6 0h1m1 0h1m10 0h1m1 0h1m2 0h1m3 0h1m0 0h1m0 0h1m1 0h1m5 0h1m1 0h1m8 0h1m4 0h1m5 0h1m6 0h1m0 0h1m-94 1h1m6 0h1m13 0h1m1 0h1m23 0h1m1 0h1m5 0h1m2 0h1m3 0h1m0 0h1m0 0h1m1 0h1m1 0h1m2 0h1m4 0h1m6 0h1m1 0h1m0 0h1m1 0h1m18 0h1m-101 1h1m4 0h1m2 0h1m3 0h1m0 0h1m0 0h1m0 0h1m3 0h1m1 0h1m9 0h1m3 0h1m13 0h1m1 0h1m1 0h1m1 0h1m0 0h1m1 0h1m0 0h1m0 0h1m5 0h1m0 0h1m0 0h1m1 0h1m4 0h1m4 0h1m-82 1h1m2 0h1m0 0h1m4 0h1m2 0h1m1 0h1m24 0h1m1 0h1m0 0h1m2 0h1m0 0h1m4 0h1m1 0h1m1 0h1m2 0h1m1 0h1m0 0h1m9 0h1m-73 1h1m0 0h1m0 0h1m0 0h1m4 0h1m0 0h1m5 0h1m0 0h1m13 0h1m7 0h1m2 0h1m5 0h1m5 0h1m0 0h1m0 0h1m0 0h1m0 0h1m0 0h1m0 0h1m2 0h1m1 0h1m0 0h1m4 0h1m6 0h1m4 0h1m8 0h1m2 0h1m-100 1h1m3 0h1m0 0h1m0 0h1m0 0h1m1 0h1m0 0h1m0 0h1m3 0h1m5 0h1m3 0h1m17 0h1m2 0h1m1 0h1m4 0h1m2 0h1m0 0h1m7 0h1m0 0h1m1 0h1m9 0h1m0 0h1m1 0h1m8 0h1m5 0h1m8 0h1m-99 1h1m2 0h1m0 0h1m0 0h1m2 0h1m1 0h1m0 0h1m3 0h1m6 0h1m11 0h1m3 0h1m2 0h1m1 0h1m0 0h1m3 0h1m0 0h1m9 0h1m9 0h1m7 0h1m-78 1h1m4 0h1m0 0h1m4 0h1m1 0h1m26 0h1m3 0h1m1 0h1m1 0h1m1 0h1m0 0h1m4 0h1m11 0h1m-67 1h1m0 0h1m5 0h1m1 0h1m0 0h1m1 0h1m10 0h1m2 0h1m5 0h1m2 0h1m2 0h1m26 0h1m3 0h1m4 0h1m-82 1h1m1 0h1m4 0h1m0 0h1m2 0h1m0 0h1m4 0h1m0 0h1m0 0h1m0 0h1m5 0h1m4 0h1m1 0h1m5 0h1m2 0h1m0 0h1m1 0h1m0 0h1m0 0h1m2 0h1m0 0h1m8 0h1m0 0h1m-66 1h1m0 0h1m1 0h1m0 0h1m4 0h1m3 0h1m0 0h1m0 0h1m0 0h1m0 0h1m6 0h1m0 0h1m6 0h1m6 0h1m0 0h1m0 0h1m2 0h1m2 0h1m7 0h1m12 0h1m1 0h1m0 0h1m5 0h1m13 0h1m-85 1h1m0 0h1m6 0h1m3 0h1m1 0h1m0 0h1m0 0h1m4 0h1m0 0h1m0 0h1m0 0h1m3 0h1m3 0h1m0 0h1m1 0h1m1 0h1m2 0h1m0 0h1m0 0h1m0 0h1m0 0h1m1 0h1m0 0h1m1 0h1m8 0h1m6 0h1m9 0h1m-79 1h1m3 0h1m0 0h1m2 0h1m1 0h1m1 0h1m1 0h1m0 0h1m0 0h1m0 0h1m1 0h1m2 0h1m1 0h1m0 0h1m2 0h1m0 0h1m1 0h1m3 0h1m1 0h1m0 0h1m1 0h1m31 0h1m0 0h1m-77 1h1m0 0h1m9 0h1m1 0h1m3 0h1m1 0h1m2 0h1m1 0h1m3 0h1m1 0h1m6 0h1m3 0h1m1 0h1m32 0h1m-74 1h1m4 0h1m1 0h1m5 0h1m0 0h1m0 0h1m3 0h1m0 0h1m0 0h1m1 0h1m0 0h1m3 0h1m2 0h1m1 0h1m0 0h1m0 0h1m1 0h1m0 0h1m0 0h1m6 0h1m0 0h1m3 0h1m0 0h1m0 0h1m0 0h1m-64 1h1m10 0h1m3 0h1m6 0h1m0 0h1m3 0h1m5 0h1m2 0h1m0 0h1m2 0h1m2 0h1m2 0h1m1 0h1m3 0h1m3 0h1m9 0h1m-62 1h1m1 0h1m0 0h1m7 0h1m0 0h1m6 0h1m0 0h1m0 0h1m1 0h1m0 0h1m3 0h1m3 0h1m2 0h1m5 0h1m0 0h1m1 0h1m0 0h1m4 0h1m1 0h1m1 0h1m0 0h1m16 0h1m-70 1h1m5 0h1m3 0h1m3 0h1m3 0h1m2 0h1m4 0h1m1 0h1m5 0h1m4 0h1m1 0h1m-28 1h1m2 0h1m0 0h1m0 0h1m5 0h1m16 0h1m6 0h1m-52 1h1m17 0h1m3 0h1m0 0h1m2 0h1m2 0h1m6 0h1m5 0h1m-39 1h1m9 0h1m11 0h1m4 0h1m0 0h1m3 0h1m7 0h1m0 0h1m4 0h1m2 0h1m-59 1h1m9 0h1m1 0h1m19 0h1m5 0h1m2 0h1m3 0h1m-42 1h1m10 0h1m12 0h1m8 0h1m2 0h1m28 0h1m-34 1h1m-8 1h1m16 0h1m-21 1h1m-16 2h1m6 0h1m-17 2h1m20 0h1m21 5h1" stroke="rgb(240,48,28)" stroke-opacity="0.50" stroke-width="1" fill="none"/>
<path d="M588 298.5h1m-4 8h1m-3 4h1m-23 4h1m8 0h1m10 2h1m-3 2h1m-1 1h1m-8 1h1m5 0h1m2 0h1m-6 1h1m-6 1h1m4 0h1m6 0h1m2 0h1m-19 1h1m10 0h1m0 0h1m7 0h1m-25 1h1m2 0h1m4 0h1m4 0h1m4 0h1m3 0h1m-29 1h1m3 0h1m12 0h1m-14 1h1m5 0h1m6 0h1m0 0h1m3 0h1m-15 1h1m1 0h1m3 0h1m10 0h1m-24 1h1m7 0h1m2 0h1m3 0h1m3 0h1m-12 1h1m9 0h1m0 0h1m0 0h1m0 0h1m-18 1h1m5 0h1m1 0h1m0 0h1m0 0h1m1 0h1m-9 1h1m1 0h1m0 0h1m1 0h1m-6 1h1m1 0h1m4 0h1m-8 1h1m2 0h1m4 0h1m3 0h1m0 0h1m-22 1h1m6 0h1m7 0h1m0 0h1m-18 1h1m0 0h1m3 0h1m0 0h1m0 0h1m4 0h1m0 0h1m4 0h1m1 0h1m4 0h1m1 0h1m-16 1h1m0 0h1m8 0h1m-24 1h1m8 0h1m7 0h1m5 0h1m6 0h1m-28 1h1m2 0h1m2 0h1m1 0h1m5 0h1m6 0h1m0 0h1m-24 1h1m2 0h1m1 0h1m2 0h1m3 0h1m8 0h1m-22 1h1m2 0h1m3 0h1m2 0h1m1 0h1m0 0h1m0 0h1m-16 1h1m2 0h1m1 0h1m3 0h1m3 0h1m1 0h1m1 0h1m4 0h1m0 0h1m-28 1h1m9 0h1m4 0h1m2 0h1m4 0h1m2 0h1m4 0h1m-31 1h1m1 0h1m0 0h1m1 0h1m0 0h1m2 0h1m7 0h1m0 0h1m2 0h1m-22 1h1m0 0h1m2 0h1m3 0h1m6 0h1m7 0h1m-24 1h1m2 0h1m3 0h1m5 0h1m1 0h1m3 0h1m4 0h1m-27 1h1m4 0h1m0 0h1m0 0h1m4 0h1m2 0h1m0 0h1m1 0h1m-15 1h1m3 0h1m0 0h1m4 0h1m7 0h1m15 0h1m-38 1h1m0 0h1m1 0h1m5 0h1m1 0h1m2 0h1m3 0h1m-16 1h1m8 0h1m9 0h1m-16 1h1m3 0h1m1 0h1m1 0h1m7 0h1m-24 1h1m1 0h1m0 0h1m2 0h1m3 0h1m4 0h1m1 0h1m-20 1h1m2 0h1m3 0h1m0 0h1m1 0h1m3 0h1m5 0h1m0 0h1m1 0h1m-26 1h1m0 0h1m1 0h1m9 0h1m3 0h1m-19 1h1m6 0h1m0 0h1m1 0h1m0 0h1m3 0h1m4 0h1m10 0h1m-24 1h1m8 0h1m8 0h1m-57 1h1m35 0h1m0 0h1m9 0h1m5 0h1m-19 1h1m7 0h1m1 0h1m3 0h1m6 0h1m-23 1h1m1 0h1m1 0h1m8 0h1m0 0h1m-21 1h1m0 0h1m11 0h1m3 0h1m-5 1h1m1 0h1m0 0h1m1 0h1m0 0h1m2 0h1m-23 1h1m8 0h1m2 0h1m2 0h1m0 0h1m-14 1h1m2 0h1m1 0h1m3 0h1m1 0h1m10 0h1m1 0h1m-45 1h1m19 0h1m3 0h1m6 0h1m-42 1h1m31 0h1m1 0h1m2 0h1m2 0h1m1 0h1m0 0h1m3 0h1m1 0h1m-33 1h1m19 0h1m5 0h1m-19 1h1m4 0h1m7 0h1m20 0h1m-29 1h1m4 0h1m3 0h1m6 0h1m0 0h1m-46 1h1m22 0h1m1 0h1m9 0h1m-5 1h1m0 0h1m3 0h1m1 0h1m4 0h1m5 0h1m-26 1h1m2 0h1m3 0h1m11 0h1m-43 1h1m24 0h1m3 0h1m2 0h1m3 0h1m2 0h1m-9 1h1m-26 1h1m25 0h1m5 0h1m-40 1h1m7 0h1m12 0h1m1 0h1m0 1h1m6 0h1m3 0h1m14 0h1m-17 1h1m-14 1h1m10 0h1m-10 1h1m4 0h1m-33 1h1m0 0h1m20 1h1m3 0h1m11 0h1m-9 1h1m7 0h1m2 0h1m-14 1h1m-8 1h1m19 1h1m0 0h1m1 0h1m-26 1h1m1 0h1m5 0h1m8 0h1m4 1h1m3 0h1m8 0h1m-41 2h1m6 0h1m8 0h1m5 0h1m-10 1h1m2 0h1m5 0h1m-10 1h1m3 0h1m4 0h1m-21 1h1m4 0h1m7 0h1m2 0h1m4 0h1m1 0h1m-15 1h1m4 0h1m1 0h1m8 0h1m-20 1h1m0 0h1m24 0h1m-19 1h1m13 0h1m0 0h1m16 0h1m-45 1h1m-26 1h1m13 0h1m14 0h1m4 0h1m9 0h1m0 0h1m0 0h1m2 0h1m10 0h1m-56 1h1m2 0h1m18 0h1m11 0h1m5 0h1m1 0h1m4 0h1m-57 1h1m8 0h1m0 0h1m17 0h1m2 0h1m2 0h1m4 0h1m1 0h1m5 0h1m-43 1h1m1 0h1m11 0h1m0 0h1m31 0h1m16 0h1m-79 1h1m8 0h1m32 0h1m0 0h1m-35 1h1m7 0h1m0 0h1m1 0h1m2 0h1m1 0h1m0 0h1m0 0h1m10 0h1m4 0h1m2 0h1m1 0h1m0 0h1m13 0h1m-54 1h1m7 0h1m0 0h1m1 0h1m7 0h1m13 0h1m0 0h1m-45 1h1m11 0h1m1 0h1m6 0h1m1 0h1m0 0h1m7 0h1m3 0h1m7 0h1m0 0h1m21 0h1m-66 1h1m3 0h1m2 0h1m2 0h1m8 0h1m2 0h1m5 0h1m20 0h1m8 0h1m1 0h1m-65 1h1m10 0h1m2 0h1m5 0h1m1 0h1m3 0h1m4 0h1m2 0h1m0 0h1m7 0h1m9 0h1m5 0h1m-57 1h1m1 0h1m11 0h1m0 0h1m3 0h1m0 0h1m0 0h1m0 0h1m7 0h1m9 0h1m-45 1h1m1 0h1m2 0h1m2 0h1m3 0h1m4 0h1m1 0h1m1 0h1m7 0h1m5 0h1m1 0h1m-39 1h1m3 0h1m0 0h1m6 0h1m5 0h1m0 0h1m5 0h1m3 0h1m6 0h1m1 0h1m11 0h1m17 0h1m-73 1h1m7 0h1m6 0h1m1 0h1m8 0h1m6 0h1m35 0h1m-68 1h1m5 0h1m0 0h1m0 0h1m3 0h1m3 0h1m12 0h1m1 0h1m0 0h1m1 0h1m1 0h1m1 0h1m9 0h1m5 0h1m-51 1h1m10 0h1m2 0h1m1 0h1m6 0h1m3 0h1m3 0h1m2 0h1m4 0h1m8 0h1m7 0h1m-68 1h1m1 0h1m0 0h1m1 0h1m0 0h1m1 0h1m3 0h1m0 0h1m2 0h1m2 0h1m1 0h1m7 0h1m10 0h1m2 0h1m-45 1h1m0 0h1m10 0h1m6 0h1m1 0h1m5 0h1m0 0h1m1 0h1m0 0h1m0 0h1m2 0h1m3 0h1m1 0h1m2 0h1m11 0h1m-45 1h1m2 0h1m13 0h1m7 0h1m5 0h1m5 0h1m0 0h1m-53 1h1m0 0h1m4 0h1m5 0h1m2 0h1m0 0h1m2 0h1m9 0h1m4 0h1m2 0h1m0 0h1m1 0h1m5 0h1m16 0h1m25 0h1m-84 1h1m4 0h1m7 0h1m0 0h1m2 0h1m1 0h1m7 0h1m5 0h1m0 0h1m-44 1h1m7 0h1m2 0h1m3 0h1m6 0h1m4 0h1m6 0h1m0 0h1m9 0h1m-45 1h1m1 0h1m5 0h1m1 0h1m4 0h1m1 0h1m6 0h1m2 0h1m2 0h1m2 0h1m2 0h1m2 0h1m0 0h1m6 0h1m2 0h1m1 0h1m21 0h1m-73 1h1m0 0h1m0 0h1m3 0h1m2 0h1m1 0h1m2 0h1m2 0h1m2 0h1m5 0h1m4 0h1m2 0h1m2 0h1m1 0h1m17 0h1m-58 1h1m3 0h1m1 0h1m0 0h1m5 0h1m0 0h1m4 0h1m3 0h1m2 0h1m2 0h1m2 0h1m12 0h1m3 0h1m-40 1h1m5 0h1m4 0h1m0 0h1m0 0h1m5 0h1m3 0h1m1 0h1m0 0h1m13 0h1m-46 1h1m1 0h1m3 0h1m0 0h1m11 0h1m19 0h1m-45 1h1m11 0h1m1 0h1m2 0h1m3 0h1m1 0h1m0 0h1m-32 1h1m6 0h1m7 0h1m0 0h1m3 0h1m0 0h1m6 0h1m0 0h1m5 0h1m-27 1h1m20 0h1m7 0h1m0 0h1m-35 1h1m1 1h1m11 0h1m0 0h1m-12 1h1m0 0h1m2 0h1m6 0h1m0 0h1m6 0h1m-19 1h1m7 0h1m0 0h1m5 0h1m26 0h1m-7 1h1m-43 2h1m10 0h1m-8 1h1" stroke="rgb(240,48,28)" stroke-opacity="0.67" stroke-width="1" fill="none"/>
<path d="M577 315.5h1m2 7h1m1 0h1m4 3h1m-14 2h1m-1 1h1m2 0h1m0 0h1m3 0h1m-15 2h1m11 0h1m-4 1h1m4 0h1m-12 1h1m1 0h1m-13 1h1m7 0h1m3 1h1m3 0h1m3 0h1m1 0h1m-15 1h1m4 0h1m7 0h1m-18 1h1m1 0h1m2 0h1m6 0h1m-12 1h1m6 0h1m3 0h1m-2 1h1m3 0h1m-7 1h1m-17 1h1m0 0h1m2 0h1m2 0h1m3 0h1m6 0h1m-14 1h1m3 0h1m1 0h1m0 0h1m2 0h1m4 0h1m-21 1h1m9 0h1m5 0h1m-15 1h1m7 0h1m0 0h1m-8 1h1m3 0h1m9 1h1m1 0h1m-16 1h1m1 0h1m8 0h1m3 0h1m-18 1h1m2 0h1m1 0h1m3 0h1m1 0h1m-13 1h1m0 0h1m0 0h1m2 0h1m-11 1h1m1 0h1m1 0h1m13 0h1m0 0h1m0 0h1m-13 1h1m1 0h1m5 0h1m-12 1h1m1 0h1m12 0h1m-21 1h1m1 0h1m1 0h1m1 1h1m0 0h1m6 0h1m-17 1h1m10 0h1m4 1h1m-12 1h1m1 0h1m8 0h1m0 0h1m-14 1h1m6 0h1m-1 1h1m-9 1h1m0 0h1m4 0h1m-5 1h1m0 0h1m1 1h1m-1 1h1m-10 1h1m14 0h1m-6 2h1m-7 1h1m1 0h1m-1 2h1m-11 5h1m-9 4h1m6 2h1m7 1h1m2 2h1m-8 3h1m19 1h1m-17 3h1m-2 1h1m12 1h1m-27 2h1m15 1h1m-10 2h1m4 0h1m-38 2h1m3 0h1m35 1h1m-34 1h1m8 0h1m6 0h1m-21 1h1m39 0h1m-45 1h1m4 0h1m5 0h1m35 0h1m-60 1h1m14 0h1m0 0h1m0 0h1m12 0h1m-30 1h1m6 0h1m3 0h1m3 0h1m0 0h1m1 0h1m12 0h1m1 0h1m12 0h1m-35 1h1m27 0h1m-54 1h1m18 0h1m1 0h1m4 0h1m9 0h1m0 0h1m14 0h1m-43 1h1m1 0h1m3 0h1m0 0h1m1 0h1m8 0h1m0 0h1m3 0h1m6 0h1m19 0h1m2 0h1m-49 1h1m0 0h1m1 0h1m10 0h1m10 0h1m-38 1h1m2 0h1m3 0h1m10 0h1m3 0h1m-24 1h1m2 0h1m0 0h1m0 0h1m4 0h1m1 0h1m3 0h1m3 0h1m1 0h1m6 0h1m1 0h1m2 0h1m-33 1h1m4 0h1m0 0h1m29 0h1m-23 1h1m1 0h1m1 0h1m0 0h1m0 0h1m1 0h1m3 0h1m30 0h1m-57 1h1m0 0h1m2 0h1m5 0h1m3 0h1m9 0h1m1 0h1m0 0h1m0 0h1m9 0h1m-40 1h1m0 0h1m0 0h1m2 0h1m1 0h1m4 0h1m0 0h1m0 0h1m1 0h1m-17 1h1m1 0h1m0 0h1m10 0h1m2 0h1m1 0h1m2 0h1m2 0h1m-34 1h1m5 0h1m11 0h1m4 0h1m0 0h1m0 0h1m0 0h1m1 0h1m12 0h1m5 0h1m-42 1h1m4 0h1m0 0h1m9 0h1m9 0h1m-31 1h1m4 0h1m5 0h1m2 0h1m3 0h1m0 0h1m1 0h1m2 0h1m5 0h1m-23 1h1m1 0h1m0 0h1m2 0h1m2 0h1m-11 1h1m7 0h1m6 0h1m-14 1h1m10 0h1m-13 1h1m5 0h1m3 0h1m1 0h1m-22 1h1m34 0h1m0 0h1m-35 1h1m13 0h1m16 0h1m-21 1h1m-8 1h1m9 0h1" stroke="rgb(240,48,28)" stroke-opacity="0.83" stroke-width="1" fill="none"/>
<path d="M572 325.5h1m-4 1h1m1 0h1m-8 1h1m9 2h1m1 0h1m-2 1h1m-2 1h1m3 0h1m1 0h1m-9 1h1m3 0h1m-14 1h1m0 0h1m5 0h1m3 0h1m-7 1h1m-2 1h1m10 0h1m-10 1h1m3 0h1m-10 1h1m4 0h1m0 0h1m1 0h1m3 0h1m-7 1h1m-12 1h1m7 0h1m2 0h1m-3 1h1m2 0h1m-1 1h1m-3 1h1m1 1h1m0 0h1m2 0h1m-11 1h1m3 0h1m3 0h1m-14 1h1m0 0h1m0 0h1m2 0h1m0 0h1m3 0h1m-9 1h1m-3 1h1m4 0h1m3 0h1m-7 1h1m3 0h1m-3 1h1m3 0h1m-3 1h1m1 0h1m-2 1h1m2 0h1m-4 1h1m-14 1h1m10 0h1m-11 2h1m7 0h1m0 0h1m-7 3h1m-1 9h1m-4 12h1m-8 6h1m-38 17h1m-8 1h1m10 0h1m20 0h1m-30 1h1m4 0h1m25 0h1m-37 1h1m9 0h1m5 0h1m-14 1h1m0 0h1m0 0h1m10 0h1m-14 1h1m10 0h1m3 0h1m8 0h1m-29 1h1m0 0h1m1 0h1m4 0h1m0 0h1m0 0h1m6 0h1m2 0h1m0 0h1m17 0h1m-40 1h1m1 0h1m0 0h1m2 0h1m2 0h1m1 0h1m0 0h1m2 0h1m1 0h1m0 0h1m2 0h1m0 0h1m10 0h1m-37 1h1m4 0h1m2 0h1m0 0h1m2 0h1m0 0h1m1 0h1m1 0h1m0 0h1m3 0h1m7 0h1m-37 1h1m8 0h1m0 0h1m3 0h1m0 0h1m1 0h1m2 0h1m1 0h1m0 0h1m1 0h1m1 0h1m2 0h1m0 0h1m-28 1h1m0 0h1m2 0h1m2 0h1m0 0h1m1 0h1m2 0h1m1 0h1m5 0h1m-17 1h1m0 0h1m0 0h1m3 0h1m0 0h1m2 0h1m6 0h1m-21 1h1m3 0h1m0 0h1m0 0h1m0 0h1m3 0h1m1 0h1m0 0h1m0 0h1m1 0h1m0 0h1m1 0h1m2 0h1m3 0h1m-36 1h1m9 0h1m0 0h1m1 0h1m0 0h1m0 0h1m0 0h1m2 0h1m0 0h1m3 0h1m7 0h1m3 0h1m-37 1h1m0 0h1m3 0h1m0 0h1m1 0h1m0 0h1m0 0h1m0 0h1m3 0h1m1 0h1m5 0h1m3 0h1m1 0h1m-27 1h1m5 0h1m0 0h1m2 0h1m0 0h1m0 0h1m0 0h1m2 0h1m0 0h1m0 0h1m0 0h1m6 0h1m4 0h1m-30 1h1m1 0h1m2 0h1m0 0h1m1 0h1m0 0h1m5 0h1m2 0h1m1 0h1m-10 1h1m1 0h1m2 0h1m-14 1h1m0 0h1m1 0h1m2 0h1m3 0h1m2 0h1m-20 1h1m3 0h1m3 0h1m0 0h1m5 0h1m5 0h1m-30 1h1m19 0h1m6 0h1m-18 1h1m6 0h1m7 1h1m-11 1h1m1 0h1" stroke="rgb(240,48,28)" stroke-opacity="1.00" stroke-width="1" fill="none"/></g>
<line x1="541.93" y1="276.4" x2="541.93" y2="448.6" stroke="#f65858" stroke-width="1.6"/>
<line x1="453.6" y1="380.15" x2="645" y2="380.15" stroke="#f65858" stroke-width="1.6"/>
<circle cx="541.93" cy="311.49" r="3" fill="#f71212"/>
<circle cx="610.55" cy="380.15" r="3" fill="#f71212"/>
<circle cx="541.93" cy="380.15" r="2.6" fill="#fff" stroke="#f42a2a" stroke-width="1.2"/>
<rect x="453.6" y="276.4" width="191.4" height="172.2" fill="none" stroke="#6e6e6e" stroke-width="1"/>
<path d="M450.6 448.6H453.6M453.6 448.6V451.6M452.1 435.64H453.6M468 448.6V450.1M452.1 428.06H453.6M476.43 448.6V450.1M452.1 422.68H453.6M482.41 448.6V450.1M452.1 418.51H453.6M487.05 448.6V450.1M452.1 415.1H453.6M490.83 448.6V450.1M452.1 412.22H453.6M494.04 448.6V450.1M452.1 409.72H453.6M496.81 448.6V450.1M452.1 407.52H453.6M499.26 448.6V450.1M450.6 405.55H453.6M501.45 448.6V451.6M452.1 392.59H453.6M515.85 448.6V450.1M452.1 385.01H453.6M524.28 448.6V450.1M452.1 379.63H453.6M530.26 448.6V450.1M452.1 375.46H453.6M534.9 448.6V450.1M452.1 372.05H453.6M538.68 448.6V450.1M452.1 369.17H453.6M541.89 448.6V450.1M452.1 366.67H453.6M544.66 448.6V450.1M452.1 364.47H453.6M547.11 448.6V450.1M450.6 362.5H453.6M549.3 448.6V451.6M452.1 349.54H453.6M563.7 448.6V450.1M452.1 341.96H453.6M572.13 448.6V450.1M452.1 336.58H453.6M578.11 448.6V450.1M452.1 332.41H453.6M582.75 448.6V450.1M452.1 329H453.6M586.53 448.6V450.1M452.1 326.12H453.6M589.74 448.6V450.1M452.1 323.62H453.6M592.51 448.6V450.1M452.1 321.42H453.6M594.96 448.6V450.1M450.6 319.45H453.6M597.15 448.6V451.6M452.1 306.49H453.6M611.55 448.6V450.1M452.1 298.91H453.6M619.98 448.6V450.1M452.1 293.53H453.6M625.96 448.6V450.1M452.1 289.36H453.6M630.6 448.6V450.1M452.1 285.95H453.6M634.38 448.6V450.1M452.1 283.07H453.6M637.59 448.6V450.1M452.1 280.57H453.6M640.36 448.6V450.1M452.1 278.37H453.6M642.81 448.6V450.1M450.6 276.4H453.6M645 448.6V451.6" stroke="#555" stroke-width="0.9" fill="none"/>
<g font-size="6.5" fill="#333" stroke="#333" stroke-width="0.15"><text x="450.6" y="450.9" text-anchor="end">0</text><text x="453.6" y="456.6" text-anchor="middle">0</text><text x="450.6" y="407.85" text-anchor="end">1</text><text x="501.45" y="456.6" text-anchor="middle">1</text><text x="450.6" y="364.8" text-anchor="end">2</text><text x="549.3" y="456.6" text-anchor="middle">2</text><text x="450.6" y="321.75" text-anchor="end">3</text><text x="597.15" y="456.6" text-anchor="middle">3</text><text x="450.6" y="278.7" text-anchor="end">4</text><text x="645" y="456.6" text-anchor="middle">4</text></g>
<text x="549.3" y="275.2" text-anchor="middle" font-size="8.4" fill="#333" stroke="#333" stroke-width="0.18">APOPTOSIS PROFILE</text>
<text x="549.3" y="465.6" text-anchor="middle" font-size="8.3" fill="#333" stroke="#333" stroke-width="0.18">ANNEXIN V</text>
<text transform="translate(442.3 362.5) rotate(-90) scale(0.76 1)" text-anchor="middle" font-size="9.6" fill="#333" stroke="#333" stroke-width="0.2">VIABILITY</text>
<text x="453.6" y="464.9" font-size="6.4" fill="#666" stroke="#666" stroke-width="0.1">Live</text>
<text x="645" y="465.4" text-anchor="end" font-size="6.4" fill="#666" stroke="#666" stroke-width="0.1">Apoptotic</text>
<g font-size="7.9" fill="#333" stroke="#333" stroke-width="0.18"><text x="457.1" y="284.8">Dead</text><text x="457.1" y="293.4">2.61 %</text><text x="642" y="284.8" text-anchor="end">Late Apop./Dead</text><text x="642" y="293.4" text-anchor="end">41.32 %</text><text x="457.1" y="438.1">47.90 %</text><text x="457.1" y="446.6">Live</text><text x="642" y="438.1" text-anchor="end">8.16 %</text><text x="642" y="446.6" text-anchor="end">Early Apop.</text></g>
<text x="1.1" y="533.2" font-size="26.6" font-weight="bold" fill="#000">b</text>
<path d="M76.0 519.7V818.5M71.5 814H76.0M71.5 781.3H76.0M71.5 748.6H76.0M71.5 715.9H76.0M71.5 683.2H76.0M71.5 650.5H76.0M71.5 617.8H76.0M71.5 585.1H76.0M71.5 552.4H76.0M71.5 519.7H76.0M71.5 814.0H609M182.6 814.0V818.5M289.2 814.0V818.5M395.8 814.0V818.5M502.4 814.0V818.5M609 814.0V818.5" stroke="#c9c9c9" stroke-width="1.1" fill="none"/>
<g font-size="13.7" fill="#1a1a1a" stroke="#1a1a1a" stroke-width="0.2"><text x="62.9" y="818.5" text-anchor="end">0.0</text><text x="62.9" y="785.8" text-anchor="end">5.0</text><text x="62.9" y="753.1" text-anchor="end">10.0</text><text x="62.9" y="720.4" text-anchor="end">15.0</text><text x="62.9" y="687.7" text-anchor="end">20.0</text><text x="62.9" y="655" text-anchor="end">25.0</text><text x="62.9" y="622.3" text-anchor="end">30.0</text><text x="62.9" y="589.6" text-anchor="end">35.0</text><text x="62.9" y="556.9" text-anchor="end">40.0</text><text x="62.9" y="524.2" text-anchor="end">45.0</text></g>
<rect x="98.5" y="803.01" width="30.8" height="10.99" fill="url(#stripe)" stroke="#a6a6a6" stroke-width="0.8"/>
<rect x="129.3" y="757.43" width="30.8" height="56.57" fill="url(#dots)" stroke="#a6a6a6" stroke-width="1.1"/>
<path d="M113.9 802.23V803.8M110.9 802.23H116.9M110.9 803.8H116.9" stroke="#444" stroke-width="1.1" fill="none"/>
<path d="M144.7 754.49V760.37M141.7 754.49H147.7M141.7 760.37H147.7" stroke="#444" stroke-width="1.1" fill="none"/>
<rect x="205.1" y="797.32" width="30.8" height="16.68" fill="url(#stripe)" stroke="#a6a6a6" stroke-width="0.8"/>
<rect x="235.9" y="733.56" width="30.8" height="80.44" fill="url(#dots)" stroke="#a6a6a6" stroke-width="1.1"/>
<path d="M220.5 795.03V799.61M217.5 795.03H223.5M217.5 799.61H223.5" stroke="#444" stroke-width="1.1" fill="none"/>
<path d="M251.3 729.96V737.15M248.3 729.96H254.3M248.3 737.15H254.3" stroke="#444" stroke-width="1.1" fill="none"/>
<rect x="311.7" y="793.99" width="30.8" height="20.01" fill="url(#stripe)" stroke="#a6a6a6" stroke-width="0.8"/>
<rect x="342.5" y="724.4" width="30.8" height="89.6" fill="url(#dots)" stroke="#a6a6a6" stroke-width="1.1"/>
<path d="M327.1 793.33V794.64M324.1 793.33H330.1M324.1 794.64H330.1" stroke="#444" stroke-width="1.1" fill="none"/>
<path d="M357.9 722.44V726.36M354.9 722.44H360.9M354.9 726.36H360.9" stroke="#444" stroke-width="1.1" fill="none"/>
<rect x="418.3" y="775.68" width="30.8" height="38.32" fill="url(#stripe)" stroke="#a6a6a6" stroke-width="0.8"/>
<rect x="449.1" y="662.27" width="30.8" height="151.73" fill="url(#dots)" stroke="#a6a6a6" stroke-width="1.1"/>
<path d="M433.7 774.37V776.98M430.7 774.37H436.7M430.7 776.98H436.7" stroke="#444" stroke-width="1.1" fill="none"/>
<path d="M464.5 658.67V665.87M461.5 658.67H467.5M461.5 665.87H467.5" stroke="#444" stroke-width="1.1" fill="none"/>
<rect x="524.9" y="754.29" width="30.8" height="59.71" fill="url(#stripe)" stroke="#a6a6a6" stroke-width="0.8"/>
<rect x="555.7" y="544.55" width="30.8" height="269.45" fill="url(#dots)" stroke="#a6a6a6" stroke-width="1.1"/>
<path d="M540.3 749.38V759.19M537.3 749.38H543.3M537.3 759.19H543.3" stroke="#444" stroke-width="1.1" fill="none"/>
<path d="M571.1 535.07V554.03M568.1 535.07H574.1M568.1 554.03H574.1" stroke="#444" stroke-width="1.1" fill="none"/>
<use href="#star" x="250.9" y="716.3"/>
<use href="#star" x="354.65" y="707.7"/><use href="#star" x="360.75" y="707.7"/>
<use href="#star" x="427.3" y="758.9"/><use href="#star" x="433.4" y="758.9"/><use href="#star" x="439.5" y="758.9"/>
<use href="#star" x="458.2" y="645.7"/><use href="#star" x="464.3" y="645.7"/><use href="#star" x="470.4" y="645.7"/>
<use href="#star" x="534.7" y="737.4"/><use href="#star" x="540.8" y="737.4"/><use href="#star" x="546.9" y="737.4"/>
<use href="#star" x="564.5" y="527.7"/><use href="#star" x="570.6" y="527.7"/><use href="#star" x="576.7" y="527.7"/>
<g font-size="14" fill="#1a1a1a" stroke="#1a1a1a" stroke-width="0.2"><text x="129.3" y="835.2" text-anchor="middle">Media only</text><text x="235.9" y="835.2" text-anchor="middle">BLE IC<tspan font-size="10.8" fill="#1a1a1a" stroke="#1a1a1a" stroke-width="0.35" dx="1" dy="5.3">20</tspan></text><text x="342.5" y="835.2" text-anchor="middle">GA IC<tspan font-size="10.8" fill="#1a1a1a" stroke="#1a1a1a" stroke-width="0.35" dx="1" dy="5.3">20</tspan></text><text x="449.1" y="835.2" text-anchor="middle">BLE IC<tspan font-size="10.8" fill="#1a1a1a" stroke="#1a1a1a" stroke-width="0.35" dx="1" dy="5.3">50</tspan></text><text x="555.7" y="835.2" text-anchor="middle">GA IC<tspan font-size="10.8" fill="#1a1a1a" stroke="#1a1a1a" stroke-width="0.35" dx="1" dy="5.3">50</tspan></text></g>
<text transform="translate(29.2 666.1) rotate(-90)" text-anchor="middle" font-size="14.25" font-weight="bold" fill="#1a1a1a">Percentage of cells (%)</text>
<rect x="614" y="661" width="7.6" height="7.6" fill="url(#stripe)" stroke="#a6a6a6" stroke-width="0.8"/>
<rect x="614" y="684.5" width="7.6" height="7.6" fill="url(#dots)" stroke="#a6a6a6" stroke-width="0.8"/>
<text x="625.3" y="669" font-size="13.6" fill="#1a1a1a" stroke="#1a1a1a" stroke-width="0.2">Early</text>
<text x="625.3" y="692.7" font-size="13.6" fill="#1a1a1a" stroke="#1a1a1a" stroke-width="0.2">Late</text>
</svg>
</body></html>
